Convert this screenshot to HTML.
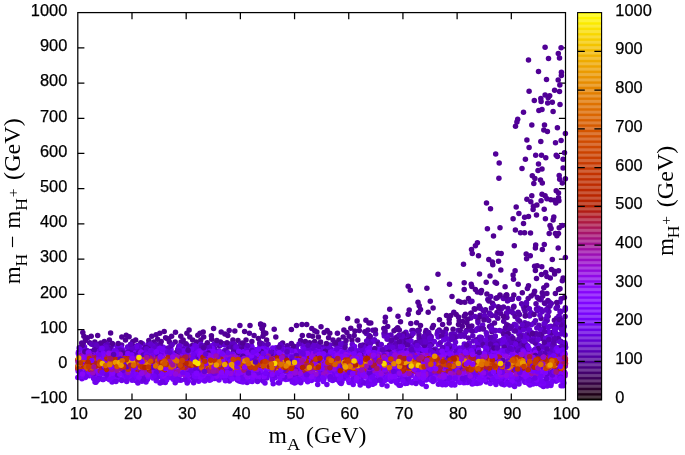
<!DOCTYPE html><html><head><meta charset="utf-8"><title>plot</title>
<style>html,body{margin:0;padding:0;background:#fff}svg{display:block}.t{font-family:"Liberation Sans",sans-serif;font-size:16.4px;fill:#000;stroke:#000;stroke-width:0.25px}.s{font-family:"Liberation Serif",serif;fill:#000}</style></head><body>
<svg width="685" height="455" viewBox="0 0 685 455">
<rect width="685" height="455" fill="#fff"/>
<path d="M131.99 400.0v-6.6M131.99 12.6v6.6M186.18 400.0v-6.6M186.18 12.6v6.6M240.37 400.0v-6.6M240.37 12.6v6.6M294.56 400.0v-6.6M294.56 12.6v6.6M348.74 400.0v-6.6M348.74 12.6v6.6M402.93 400.0v-6.6M402.93 12.6v6.6M457.12 400.0v-6.6M457.12 12.6v6.6M511.31 400.0v-6.6M511.31 12.6v6.6M77.8 364.78h6.6M565.5 364.78h-6.6M77.8 329.56h6.6M565.5 329.56h-6.6M77.8 294.35h6.6M565.5 294.35h-6.6M77.8 259.13h6.6M565.5 259.13h-6.6M77.8 223.91h6.6M565.5 223.91h-6.6M77.8 188.69h6.6M565.5 188.69h-6.6M77.8 153.47h6.6M565.5 153.47h-6.6M77.8 118.25h6.6M565.5 118.25h-6.6M77.8 83.04h6.6M565.5 83.04h-6.6M77.8 47.82h6.6M565.5 47.82h-6.6" stroke="#000" stroke-width="1.25" fill="none"/>
<g id="pts">
<circle cx="343.2" cy="337.0" r="2.75" fill="#520099"/>
<circle cx="101.0" cy="344.6" r="2.75" fill="#6201cd"/>
<circle cx="489.5" cy="326.6" r="2.75" fill="#52009b"/>
<circle cx="89.5" cy="375.7" r="2.75" fill="#6d02e8"/>
<circle cx="481.5" cy="290.4" r="2.75" fill="#500093"/>
<circle cx="501.9" cy="331.2" r="2.75" fill="#5a01b5"/>
<circle cx="524.8" cy="322.8" r="2.75" fill="#5c01bb"/>
<circle cx="372.7" cy="384.2" r="2.75" fill="#6e02eb"/>
<circle cx="545.4" cy="218.8" r="2.75" fill="#520099"/>
<circle cx="514.8" cy="324.6" r="2.75" fill="#5c01b9"/>
<circle cx="168.5" cy="339.2" r="2.75" fill="#510097"/>
<circle cx="492.2" cy="337.4" r="2.75" fill="#5d01be"/>
<circle cx="541.1" cy="318.6" r="2.75" fill="#52009b"/>
<circle cx="529.1" cy="147.6" r="2.75" fill="#510096"/>
<circle cx="422.7" cy="351.4" r="2.75" fill="#8204ff"/>
<circle cx="316.9" cy="331.9" r="2.75" fill="#520099"/>
<circle cx="213.6" cy="328.5" r="2.75" fill="#510098"/>
<circle cx="514.1" cy="330.8" r="2.75" fill="#6401d3"/>
<circle cx="550.0" cy="306.1" r="2.75" fill="#5a01b5"/>
<circle cx="472.1" cy="384.0" r="2.75" fill="#7102f0"/>
<circle cx="565.1" cy="316.5" r="2.75" fill="#5a00b2"/>
<circle cx="537.4" cy="297.4" r="2.75" fill="#5700ac"/>
<circle cx="505.1" cy="286.8" r="2.75" fill="#500093"/>
<circle cx="538.5" cy="71.5" r="2.75" fill="#500094"/>
<circle cx="511.2" cy="336.3" r="2.75" fill="#5c01ba"/>
<circle cx="530.2" cy="378.1" r="2.75" fill="#6801dc"/>
<circle cx="382.0" cy="384.6" r="2.75" fill="#7002ef"/>
<circle cx="396.7" cy="383.0" r="2.75" fill="#7102f1"/>
<circle cx="343.1" cy="343.6" r="2.75" fill="#6801dc"/>
<circle cx="559.5" cy="58.0" r="2.75" fill="#500095"/>
<circle cx="128.1" cy="351.6" r="2.75" fill="#7f04ff"/>
<circle cx="518.9" cy="334.0" r="2.75" fill="#5900af"/>
<circle cx="498.5" cy="261.2" r="2.75" fill="#520099"/>
<circle cx="368.7" cy="338.4" r="2.75" fill="#5700a9"/>
<circle cx="542.0" cy="168.9" r="2.75" fill="#500093"/>
<circle cx="228.3" cy="346.9" r="2.75" fill="#53009d"/>
<circle cx="417.7" cy="330.4" r="2.75" fill="#5600a7"/>
<circle cx="548.9" cy="311.6" r="2.75" fill="#5e01bf"/>
<circle cx="524.9" cy="342.2" r="2.75" fill="#510097"/>
<circle cx="147.9" cy="344.4" r="2.75" fill="#6201cd"/>
<circle cx="411.9" cy="330.4" r="2.75" fill="#6001c6"/>
<circle cx="188.4" cy="381.1" r="2.75" fill="#7703fa"/>
<circle cx="556.7" cy="318.2" r="2.75" fill="#6101c8"/>
<circle cx="565.3" cy="366.1" r="2.75" fill="#ab1753"/>
<circle cx="113.0" cy="344.4" r="2.75" fill="#6301cf"/>
<circle cx="549.3" cy="301.9" r="2.75" fill="#5c01bb"/>
<circle cx="482.8" cy="345.3" r="2.75" fill="#5d01bc"/>
<circle cx="506.8" cy="324.7" r="2.75" fill="#52009a"/>
<circle cx="496.0" cy="384.4" r="2.75" fill="#7402f5"/>
<circle cx="219.5" cy="345.9" r="2.75" fill="#5700ab"/>
<circle cx="227.8" cy="335.5" r="2.75" fill="#500092"/>
<circle cx="479.9" cy="383.0" r="2.75" fill="#7903fc"/>
<circle cx="91.2" cy="336.2" r="2.75" fill="#500094"/>
<circle cx="508.2" cy="341.7" r="2.75" fill="#6101cb"/>
<circle cx="479.4" cy="337.2" r="2.75" fill="#6501d6"/>
<circle cx="544.2" cy="209.2" r="2.75" fill="#510098"/>
<circle cx="173.1" cy="379.2" r="2.75" fill="#7c03fe"/>
<circle cx="157.6" cy="339.2" r="2.75" fill="#500095"/>
<circle cx="265.0" cy="383.0" r="2.75" fill="#7002ee"/>
<circle cx="550.8" cy="199.7" r="2.75" fill="#4f0091"/>
<circle cx="282.6" cy="343.1" r="2.75" fill="#500095"/>
<circle cx="530.3" cy="255.8" r="2.75" fill="#510098"/>
<circle cx="360.7" cy="348.6" r="2.75" fill="#6d02e9"/>
<circle cx="311.8" cy="328.5" r="2.75" fill="#510096"/>
<circle cx="544.5" cy="125.0" r="2.75" fill="#500095"/>
<circle cx="488.9" cy="300.9" r="2.75" fill="#5500a3"/>
<circle cx="364.4" cy="383.0" r="2.75" fill="#6e02eb"/>
<circle cx="534.6" cy="266.2" r="2.75" fill="#52009b"/>
<circle cx="142.5" cy="343.7" r="2.75" fill="#6401d0"/>
<circle cx="408.2" cy="314.2" r="2.75" fill="#52009a"/>
<circle cx="479.0" cy="307.7" r="2.75" fill="#5a00b4"/>
<circle cx="291.4" cy="329.4" r="2.75" fill="#500094"/>
<circle cx="554.6" cy="273.9" r="2.75" fill="#500094"/>
<circle cx="91.9" cy="375.6" r="2.75" fill="#8305fe"/>
<circle cx="521.2" cy="335.1" r="2.75" fill="#5c01bb"/>
<circle cx="428.0" cy="343.5" r="2.75" fill="#5d01bc"/>
<circle cx="528.5" cy="383.4" r="2.75" fill="#6c01e6"/>
<circle cx="109.4" cy="339.9" r="2.75" fill="#500094"/>
<circle cx="383.8" cy="328.5" r="2.75" fill="#510099"/>
<circle cx="322.8" cy="347.1" r="2.75" fill="#5a00b3"/>
<circle cx="95.9" cy="382.3" r="2.75" fill="#6f02ec"/>
<circle cx="534.2" cy="335.6" r="2.75" fill="#5800ae"/>
<circle cx="558.9" cy="316.1" r="2.75" fill="#5900b1"/>
<circle cx="492.5" cy="303.2" r="2.75" fill="#52009b"/>
<circle cx="83.3" cy="344.2" r="2.75" fill="#5400a0"/>
<circle cx="408.4" cy="343.7" r="2.75" fill="#6b01e4"/>
<circle cx="443.6" cy="380.1" r="2.75" fill="#6901df"/>
<circle cx="121.7" cy="344.9" r="2.75" fill="#5600a6"/>
<circle cx="394.0" cy="330.8" r="2.75" fill="#510096"/>
<circle cx="546.6" cy="285.3" r="2.75" fill="#510097"/>
<circle cx="439.2" cy="330.0" r="2.75" fill="#52009a"/>
<circle cx="159.3" cy="376.5" r="2.75" fill="#8806f9"/>
<circle cx="507.0" cy="317.5" r="2.75" fill="#5600a6"/>
<circle cx="555.9" cy="381.1" r="2.75" fill="#7e04ff"/>
<circle cx="413.9" cy="345.2" r="2.75" fill="#6101ca"/>
<circle cx="548.1" cy="316.2" r="2.75" fill="#510097"/>
<circle cx="361.3" cy="348.7" r="2.75" fill="#6b01e4"/>
<circle cx="159.8" cy="333.3" r="2.75" fill="#510097"/>
<circle cx="440.9" cy="380.6" r="2.75" fill="#7803fb"/>
<circle cx="117.1" cy="347.1" r="2.75" fill="#6901e0"/>
<circle cx="535.4" cy="270.4" r="2.75" fill="#4f0092"/>
<circle cx="532.3" cy="175.8" r="2.75" fill="#4f0091"/>
<circle cx="490.7" cy="296.5" r="2.75" fill="#5800ae"/>
<circle cx="493.5" cy="236.1" r="2.75" fill="#500093"/>
<circle cx="529.4" cy="339.2" r="2.75" fill="#5800ae"/>
<circle cx="410.8" cy="323.5" r="2.75" fill="#52009b"/>
<circle cx="347.7" cy="376.1" r="2.75" fill="#8a06f6"/>
<circle cx="541.8" cy="335.7" r="2.75" fill="#5500a5"/>
<circle cx="357.1" cy="320.9" r="2.75" fill="#4f0091"/>
<circle cx="538.2" cy="308.0" r="2.75" fill="#5e01c1"/>
<circle cx="444.0" cy="377.0" r="2.75" fill="#8c07f2"/>
<circle cx="516.3" cy="350.3" r="2.75" fill="#7703fa"/>
<circle cx="498.0" cy="253.2" r="2.75" fill="#500092"/>
<circle cx="396.9" cy="351.7" r="2.75" fill="#5700ab"/>
<circle cx="160.3" cy="376.4" r="2.75" fill="#7602f8"/>
<circle cx="104.3" cy="341.4" r="2.75" fill="#510098"/>
<circle cx="93.6" cy="344.9" r="2.75" fill="#6601d6"/>
<circle cx="77.9" cy="368.4" r="2.75" fill="#c53500"/>
<circle cx="177.8" cy="349.6" r="2.75" fill="#6101c8"/>
<circle cx="565.4" cy="257.6" r="2.75" fill="#52009a"/>
<circle cx="458.5" cy="301.2" r="2.75" fill="#510096"/>
<circle cx="515.1" cy="270.7" r="2.75" fill="#520099"/>
<circle cx="255.9" cy="378.4" r="2.75" fill="#7e04ff"/>
<circle cx="263.0" cy="381.0" r="2.75" fill="#6f02ec"/>
<circle cx="513.1" cy="218.8" r="2.75" fill="#4f0091"/>
<circle cx="165.3" cy="382.4" r="2.75" fill="#6e02ea"/>
<circle cx="504.5" cy="384.6" r="2.75" fill="#7302f5"/>
<circle cx="556.3" cy="327.8" r="2.75" fill="#6201cc"/>
<circle cx="153.9" cy="342.1" r="2.75" fill="#52009b"/>
<circle cx="496.0" cy="298.2" r="2.75" fill="#510097"/>
<circle cx="330.1" cy="379.6" r="2.75" fill="#6d02e8"/>
<circle cx="429.6" cy="339.9" r="2.75" fill="#6801dc"/>
<circle cx="545.1" cy="195.7" r="2.75" fill="#500093"/>
<circle cx="437.6" cy="351.0" r="2.75" fill="#5400a2"/>
<circle cx="136.8" cy="346.0" r="2.75" fill="#6901e0"/>
<circle cx="538.9" cy="110.4" r="2.75" fill="#510098"/>
<circle cx="526.9" cy="199.2" r="2.75" fill="#500094"/>
<circle cx="535.7" cy="348.8" r="2.75" fill="#7002ee"/>
<circle cx="411.8" cy="373.8" r="2.75" fill="#9309df"/>
<circle cx="341.7" cy="347.1" r="2.75" fill="#7002ef"/>
<circle cx="529.7" cy="316.0" r="2.75" fill="#6001c7"/>
<circle cx="521.6" cy="303.8" r="2.75" fill="#5800ad"/>
<circle cx="507.4" cy="345.2" r="2.75" fill="#6d02e9"/>
<circle cx="107.4" cy="378.4" r="2.75" fill="#7102f0"/>
<circle cx="187.3" cy="345.4" r="2.75" fill="#6801de"/>
<circle cx="506.5" cy="344.3" r="2.75" fill="#6601d7"/>
<circle cx="190.3" cy="376.8" r="2.75" fill="#8104ff"/>
<circle cx="464.2" cy="316.2" r="2.75" fill="#500093"/>
<circle cx="483.6" cy="345.7" r="2.75" fill="#6901df"/>
<circle cx="533.1" cy="384.1" r="2.75" fill="#7302f4"/>
<circle cx="96.8" cy="344.3" r="2.75" fill="#5f01c4"/>
<circle cx="211.4" cy="335.8" r="2.75" fill="#4f0092"/>
<circle cx="272.7" cy="347.9" r="2.75" fill="#7002ef"/>
<circle cx="449.2" cy="319.2" r="2.75" fill="#500094"/>
<circle cx="192.7" cy="339.9" r="2.75" fill="#4f0092"/>
<circle cx="505.3" cy="379.7" r="2.75" fill="#8204ff"/>
<circle cx="464.2" cy="335.1" r="2.75" fill="#500095"/>
<circle cx="389.7" cy="345.1" r="2.75" fill="#53009c"/>
<circle cx="523.4" cy="306.4" r="2.75" fill="#5e01c1"/>
<circle cx="547.2" cy="320.5" r="2.75" fill="#5b01b8"/>
<circle cx="136.2" cy="369.8" r="2.75" fill="#bb2800"/>
<circle cx="525.4" cy="159.3" r="2.75" fill="#500093"/>
<circle cx="238.0" cy="340.6" r="2.75" fill="#510095"/>
<circle cx="488.4" cy="345.0" r="2.75" fill="#6401d2"/>
<circle cx="273.2" cy="383.7" r="2.75" fill="#6f02ee"/>
<circle cx="363.0" cy="345.1" r="2.75" fill="#5700ac"/>
<circle cx="446.2" cy="329.2" r="2.75" fill="#4f0091"/>
<circle cx="251.4" cy="345.7" r="2.75" fill="#6b01e3"/>
<circle cx="184.8" cy="345.0" r="2.75" fill="#6a01e1"/>
<circle cx="544.2" cy="325.6" r="2.75" fill="#5a00b4"/>
<circle cx="431.1" cy="336.4" r="2.75" fill="#5a00b2"/>
<circle cx="556.2" cy="337.0" r="2.75" fill="#5a00b3"/>
<circle cx="499.5" cy="330.5" r="2.75" fill="#6101c9"/>
<circle cx="400.5" cy="385.2" r="2.75" fill="#6e02eb"/>
<circle cx="165.6" cy="337.7" r="2.75" fill="#52009a"/>
<circle cx="519.0" cy="382.1" r="2.75" fill="#7803fb"/>
<circle cx="239.1" cy="381.0" r="2.75" fill="#7402f5"/>
<circle cx="537.2" cy="265.8" r="2.75" fill="#500094"/>
<circle cx="509.7" cy="299.5" r="2.75" fill="#5a00b4"/>
<circle cx="540.8" cy="98.5" r="2.75" fill="#52009a"/>
<circle cx="343.9" cy="330.0" r="2.75" fill="#500093"/>
<circle cx="452.0" cy="296.6" r="2.75" fill="#500095"/>
<circle cx="318.4" cy="337.0" r="2.75" fill="#4f0091"/>
<circle cx="87.5" cy="337.7" r="2.75" fill="#510098"/>
<circle cx="466.4" cy="330.4" r="2.75" fill="#52009a"/>
<circle cx="84.6" cy="346.9" r="2.75" fill="#6f02ec"/>
<circle cx="488.8" cy="259.6" r="2.75" fill="#500095"/>
<circle cx="419.2" cy="330.0" r="2.75" fill="#510098"/>
<circle cx="447.8" cy="383.5" r="2.75" fill="#7703fa"/>
<circle cx="451.3" cy="352.3" r="2.75" fill="#8205fe"/>
<circle cx="135.5" cy="380.4" r="2.75" fill="#6d02e8"/>
<circle cx="387.7" cy="326.5" r="2.75" fill="#52009a"/>
<circle cx="561.1" cy="47.7" r="2.75" fill="#510098"/>
<circle cx="479.1" cy="345.3" r="2.75" fill="#6b01e4"/>
<circle cx="171.0" cy="350.1" r="2.75" fill="#7302f4"/>
<circle cx="418.5" cy="312.6" r="2.75" fill="#500094"/>
<circle cx="375.6" cy="333.9" r="2.75" fill="#5b01b8"/>
<circle cx="505.9" cy="348.7" r="2.75" fill="#7402f5"/>
<circle cx="437.1" cy="333.9" r="2.75" fill="#6201cd"/>
<circle cx="244.6" cy="331.4" r="2.75" fill="#4f0092"/>
<circle cx="198.7" cy="381.2" r="2.75" fill="#7603f9"/>
<circle cx="498.9" cy="178.2" r="2.75" fill="#52009a"/>
<circle cx="457.6" cy="336.2" r="2.75" fill="#6101c9"/>
<circle cx="77.9" cy="365.9" r="2.75" fill="#cc4300"/>
<circle cx="328.6" cy="337.7" r="2.75" fill="#510097"/>
<circle cx="463.8" cy="382.7" r="2.75" fill="#7a03fc"/>
<circle cx="503.3" cy="298.4" r="2.75" fill="#5900b2"/>
<circle cx="92.7" cy="376.0" r="2.75" fill="#8706fb"/>
<circle cx="513.9" cy="306.3" r="2.75" fill="#5e01c0"/>
<circle cx="280.5" cy="344.5" r="2.75" fill="#5d01be"/>
<circle cx="508.0" cy="308.6" r="2.75" fill="#5700aa"/>
<circle cx="462.3" cy="326.2" r="2.75" fill="#4f0092"/>
<circle cx="427.9" cy="349.1" r="2.75" fill="#7703fa"/>
<circle cx="477.4" cy="242.7" r="2.75" fill="#510098"/>
<circle cx="562.3" cy="280.7" r="2.75" fill="#52009b"/>
<circle cx="180.8" cy="336.2" r="2.75" fill="#500093"/>
<circle cx="500.3" cy="340.8" r="2.75" fill="#6001c7"/>
<circle cx="522.2" cy="345.8" r="2.75" fill="#6201cb"/>
<circle cx="545.7" cy="272.4" r="2.75" fill="#52009b"/>
<circle cx="482.7" cy="325.0" r="2.75" fill="#6201cd"/>
<circle cx="475.7" cy="330.6" r="2.75" fill="#6401d2"/>
<circle cx="81.9" cy="378.7" r="2.75" fill="#7c03fe"/>
<circle cx="541.1" cy="298.8" r="2.75" fill="#510098"/>
<circle cx="377.8" cy="378.2" r="2.75" fill="#8605fc"/>
<circle cx="497.0" cy="312.6" r="2.75" fill="#510096"/>
<circle cx="550.2" cy="336.0" r="2.75" fill="#6201cb"/>
<circle cx="449.3" cy="340.1" r="2.75" fill="#6701db"/>
<circle cx="171.1" cy="377.0" r="2.75" fill="#6901e0"/>
<circle cx="564.9" cy="354.4" r="2.75" fill="#8004ff"/>
<circle cx="548.0" cy="307.8" r="2.75" fill="#5700aa"/>
<circle cx="377.3" cy="380.2" r="2.75" fill="#6b01e3"/>
<circle cx="540.5" cy="350.6" r="2.75" fill="#6801dc"/>
<circle cx="502.9" cy="378.9" r="2.75" fill="#7d04fe"/>
<circle cx="395.7" cy="347.0" r="2.75" fill="#6301cf"/>
<circle cx="501.1" cy="381.4" r="2.75" fill="#7803fb"/>
<circle cx="533.1" cy="209.5" r="2.75" fill="#500095"/>
<circle cx="534.0" cy="323.1" r="2.75" fill="#5700ab"/>
<circle cx="411.5" cy="335.6" r="2.75" fill="#5a00b2"/>
<circle cx="464.3" cy="343.9" r="2.75" fill="#6501d6"/>
<circle cx="448.7" cy="381.3" r="2.75" fill="#7803fb"/>
<circle cx="113.2" cy="378.4" r="2.75" fill="#7102f0"/>
<circle cx="365.9" cy="320.2" r="2.75" fill="#52009a"/>
<circle cx="500.0" cy="296.0" r="2.75" fill="#5800ae"/>
<circle cx="399.1" cy="385.3" r="2.75" fill="#6f02ed"/>
<circle cx="536.5" cy="383.6" r="2.75" fill="#7302f4"/>
<circle cx="200.8" cy="339.9" r="2.75" fill="#500093"/>
<circle cx="519.0" cy="383.9" r="2.75" fill="#6f02ec"/>
<circle cx="78.3" cy="366.8" r="2.75" fill="#b31e0d"/>
<circle cx="517.9" cy="351.1" r="2.75" fill="#6c01e5"/>
<circle cx="478.5" cy="255.8" r="2.75" fill="#4f0092"/>
<circle cx="381.5" cy="381.2" r="2.75" fill="#7002ef"/>
<circle cx="430.9" cy="380.1" r="2.75" fill="#7c03fe"/>
<circle cx="305.9" cy="379.6" r="2.75" fill="#7b03fe"/>
<circle cx="542.3" cy="183.1" r="2.75" fill="#510096"/>
<circle cx="498.2" cy="381.3" r="2.75" fill="#7f04ff"/>
<circle cx="565.5" cy="347.4" r="2.75" fill="#7102f1"/>
<circle cx="506.9" cy="295.0" r="2.75" fill="#500093"/>
<circle cx="504.9" cy="347.7" r="2.75" fill="#7202f2"/>
<circle cx="524.4" cy="324.7" r="2.75" fill="#53009e"/>
<circle cx="507.5" cy="300.9" r="2.75" fill="#5a00b2"/>
<circle cx="137.0" cy="380.9" r="2.75" fill="#6a01e3"/>
<circle cx="256.1" cy="349.8" r="2.75" fill="#5900b0"/>
<circle cx="442.6" cy="377.4" r="2.75" fill="#8305fe"/>
<circle cx="189.8" cy="337.0" r="2.75" fill="#500095"/>
<circle cx="384.3" cy="336.1" r="2.75" fill="#6201cd"/>
<circle cx="275.9" cy="347.7" r="2.75" fill="#7002ee"/>
<circle cx="370.5" cy="340.8" r="2.75" fill="#6101ca"/>
<circle cx="86.2" cy="376.2" r="2.75" fill="#7002ef"/>
<circle cx="529.9" cy="385.0" r="2.75" fill="#7302f5"/>
<circle cx="145.5" cy="347.5" r="2.75" fill="#52009b"/>
<circle cx="434.1" cy="349.9" r="2.75" fill="#7a03fd"/>
<circle cx="420.2" cy="353.0" r="2.75" fill="#5500a5"/>
<circle cx="555.5" cy="142.7" r="2.75" fill="#520099"/>
<circle cx="471.3" cy="313.1" r="2.75" fill="#5b01b6"/>
<circle cx="224.2" cy="377.8" r="2.75" fill="#7b03fd"/>
<circle cx="391.0" cy="334.9" r="2.75" fill="#5d01bc"/>
<circle cx="490.5" cy="208.8" r="2.75" fill="#510097"/>
<circle cx="524.6" cy="217.2" r="2.75" fill="#520099"/>
<circle cx="364.4" cy="345.8" r="2.75" fill="#510095"/>
<circle cx="542.0" cy="109.6" r="2.75" fill="#520099"/>
<circle cx="343.7" cy="373.3" r="2.75" fill="#940ad9"/>
<circle cx="331.6" cy="349.6" r="2.75" fill="#7402f6"/>
<circle cx="541.1" cy="309.6" r="2.75" fill="#5c01b9"/>
<circle cx="513.5" cy="313.2" r="2.75" fill="#5e01c0"/>
<circle cx="294.6" cy="383.0" r="2.75" fill="#7402f6"/>
<circle cx="466.9" cy="323.1" r="2.75" fill="#500093"/>
<circle cx="440.6" cy="351.0" r="2.75" fill="#6f02ec"/>
<circle cx="198.2" cy="377.3" r="2.75" fill="#6b01e4"/>
<circle cx="458.5" cy="324.6" r="2.75" fill="#4f0091"/>
<circle cx="246.0" cy="339.9" r="2.75" fill="#4f0092"/>
<circle cx="464.5" cy="336.3" r="2.75" fill="#5d01be"/>
<circle cx="518.2" cy="312.2" r="2.75" fill="#5800ac"/>
<circle cx="203.2" cy="331.9" r="2.75" fill="#4f0092"/>
<circle cx="334.2" cy="343.9" r="2.75" fill="#5700aa"/>
<circle cx="403.9" cy="338.5" r="2.75" fill="#6101c8"/>
<circle cx="296.3" cy="382.1" r="2.75" fill="#6c02e7"/>
<circle cx="123.1" cy="349.8" r="2.75" fill="#7603f9"/>
<circle cx="565.5" cy="347.1" r="2.75" fill="#5d01bd"/>
<circle cx="553.9" cy="333.1" r="2.75" fill="#5d01bc"/>
<circle cx="514.5" cy="379.4" r="2.75" fill="#6f02ec"/>
<circle cx="91.5" cy="373.0" r="2.75" fill="#7602f8"/>
<circle cx="178.8" cy="346.4" r="2.75" fill="#5600a9"/>
<circle cx="186.6" cy="346.2" r="2.75" fill="#5c01b9"/>
<circle cx="221.3" cy="344.7" r="2.75" fill="#6701db"/>
<circle cx="551.5" cy="269.6" r="2.75" fill="#4f0091"/>
<circle cx="527.5" cy="333.8" r="2.75" fill="#6201cb"/>
<circle cx="553.9" cy="332.8" r="2.75" fill="#5b01b8"/>
<circle cx="365.9" cy="346.8" r="2.75" fill="#6601d7"/>
<circle cx="565.4" cy="308.9" r="2.75" fill="#5600a6"/>
<circle cx="542.2" cy="311.7" r="2.75" fill="#5e01c2"/>
<circle cx="78.0" cy="368.9" r="2.75" fill="#b01c22"/>
<circle cx="445.3" cy="334.6" r="2.75" fill="#5800ae"/>
<circle cx="321.2" cy="349.5" r="2.75" fill="#7202f3"/>
<circle cx="260.6" cy="324.1" r="2.75" fill="#520099"/>
<circle cx="384.2" cy="375.7" r="2.75" fill="#7402f6"/>
<circle cx="211.1" cy="379.6" r="2.75" fill="#7b03fe"/>
<circle cx="223.7" cy="343.7" r="2.75" fill="#53009d"/>
<circle cx="263.6" cy="325.3" r="2.75" fill="#520099"/>
<circle cx="491.4" cy="325.5" r="2.75" fill="#5900b0"/>
<circle cx="224.9" cy="334.1" r="2.75" fill="#510097"/>
<circle cx="193.7" cy="349.9" r="2.75" fill="#6d02e8"/>
<circle cx="500.0" cy="227.7" r="2.75" fill="#500094"/>
<circle cx="554.2" cy="344.9" r="2.75" fill="#5700aa"/>
<circle cx="491.7" cy="315.4" r="2.75" fill="#5500a3"/>
<circle cx="476.5" cy="339.8" r="2.75" fill="#52009b"/>
<circle cx="445.7" cy="384.7" r="2.75" fill="#7302f4"/>
<circle cx="160.9" cy="382.5" r="2.75" fill="#6c01e7"/>
<circle cx="84.3" cy="348.3" r="2.75" fill="#6101ca"/>
<circle cx="275.8" cy="337.0" r="2.75" fill="#500093"/>
<circle cx="492.8" cy="264.7" r="2.75" fill="#510098"/>
<circle cx="491.9" cy="331.8" r="2.75" fill="#5400a1"/>
<circle cx="533.8" cy="293.9" r="2.75" fill="#500094"/>
<circle cx="481.2" cy="342.0" r="2.75" fill="#500095"/>
<circle cx="541.2" cy="385.1" r="2.75" fill="#6f02ec"/>
<circle cx="491.4" cy="346.9" r="2.75" fill="#5a01b5"/>
<circle cx="553.8" cy="216.9" r="2.75" fill="#510098"/>
<circle cx="409.1" cy="379.9" r="2.75" fill="#7603f9"/>
<circle cx="308.9" cy="335.5" r="2.75" fill="#500095"/>
<circle cx="558.2" cy="248.1" r="2.75" fill="#510096"/>
<circle cx="186.4" cy="347.9" r="2.75" fill="#52009b"/>
<circle cx="500.8" cy="269.9" r="2.75" fill="#500095"/>
<circle cx="403.2" cy="346.4" r="2.75" fill="#5700ab"/>
<circle cx="77.9" cy="359.7" r="2.75" fill="#ab184c"/>
<circle cx="397.4" cy="336.7" r="2.75" fill="#6401d2"/>
<circle cx="559.8" cy="84.9" r="2.75" fill="#510096"/>
<circle cx="450.0" cy="378.6" r="2.75" fill="#6a01e2"/>
<circle cx="454.8" cy="346.4" r="2.75" fill="#5e01c1"/>
<circle cx="265.3" cy="345.6" r="2.75" fill="#6301cf"/>
<circle cx="219.0" cy="379.9" r="2.75" fill="#7302f4"/>
<circle cx="546.5" cy="79.5" r="2.75" fill="#510096"/>
<circle cx="359.3" cy="326.0" r="2.75" fill="#52009a"/>
<circle cx="258.4" cy="338.4" r="2.75" fill="#500092"/>
<circle cx="445.5" cy="332.9" r="2.75" fill="#6301ce"/>
<circle cx="519.2" cy="379.8" r="2.75" fill="#8004ff"/>
<circle cx="285.8" cy="379.6" r="2.75" fill="#7c03fe"/>
<circle cx="397.7" cy="327.7" r="2.75" fill="#500094"/>
<circle cx="420.5" cy="309.5" r="2.75" fill="#52009b"/>
<circle cx="221.0" cy="377.1" r="2.75" fill="#6e02ec"/>
<circle cx="524.6" cy="232.7" r="2.75" fill="#500093"/>
<circle cx="237.4" cy="380.1" r="2.75" fill="#6b01e5"/>
<circle cx="197.8" cy="335.2" r="2.75" fill="#500093"/>
<circle cx="234.6" cy="344.4" r="2.75" fill="#5c01b9"/>
<circle cx="279.5" cy="382.7" r="2.75" fill="#6c01e6"/>
<circle cx="350.8" cy="328.2" r="2.75" fill="#510096"/>
<circle cx="480.8" cy="292.7" r="2.75" fill="#510097"/>
<circle cx="314.7" cy="341.4" r="2.75" fill="#4f0091"/>
<circle cx="561.1" cy="140.4" r="2.75" fill="#52009a"/>
<circle cx="275.3" cy="377.8" r="2.75" fill="#7502f7"/>
<circle cx="221.2" cy="331.9" r="2.75" fill="#52009b"/>
<circle cx="439.5" cy="319.7" r="2.75" fill="#500094"/>
<circle cx="370.3" cy="336.4" r="2.75" fill="#5500a3"/>
<circle cx="552.3" cy="102.2" r="2.75" fill="#4f0092"/>
<circle cx="377.9" cy="351.9" r="2.75" fill="#6b01e4"/>
<circle cx="214.3" cy="343.7" r="2.75" fill="#6701db"/>
<circle cx="561.7" cy="320.1" r="2.75" fill="#5a00b4"/>
<circle cx="179.6" cy="375.6" r="2.75" fill="#7a03fd"/>
<circle cx="541.5" cy="274.5" r="2.75" fill="#510097"/>
<circle cx="417.1" cy="376.3" r="2.75" fill="#6a01e1"/>
<circle cx="374.4" cy="339.7" r="2.75" fill="#6001c6"/>
<circle cx="160.0" cy="383.1" r="2.75" fill="#6e02ea"/>
<circle cx="522.6" cy="342.2" r="2.75" fill="#6401d1"/>
<circle cx="267.3" cy="349.2" r="2.75" fill="#6901df"/>
<circle cx="140.8" cy="342.8" r="2.75" fill="#510098"/>
<circle cx="112.1" cy="382.0" r="2.75" fill="#6f02ee"/>
<circle cx="305.9" cy="347.9" r="2.75" fill="#7102f1"/>
<circle cx="417.3" cy="351.8" r="2.75" fill="#6c01e6"/>
<circle cx="540.5" cy="384.5" r="2.75" fill="#7302f4"/>
<circle cx="498.7" cy="343.4" r="2.75" fill="#5f01c2"/>
<circle cx="391.3" cy="345.0" r="2.75" fill="#6201cb"/>
<circle cx="523.5" cy="112.2" r="2.75" fill="#510097"/>
<circle cx="342.2" cy="349.3" r="2.75" fill="#6201cc"/>
<circle cx="85.3" cy="340.6" r="2.75" fill="#510097"/>
<circle cx="477.4" cy="344.9" r="2.75" fill="#6a01e2"/>
<circle cx="495.1" cy="282.2" r="2.75" fill="#52009b"/>
<circle cx="512.0" cy="351.9" r="2.75" fill="#7803fb"/>
<circle cx="558.5" cy="193.1" r="2.75" fill="#510098"/>
<circle cx="563.1" cy="168.0" r="2.75" fill="#52009b"/>
<circle cx="499.2" cy="163.0" r="2.75" fill="#52009b"/>
<circle cx="429.5" cy="335.2" r="2.75" fill="#5600a9"/>
<circle cx="556.6" cy="348.0" r="2.75" fill="#6d02e9"/>
<circle cx="455.1" cy="336.7" r="2.75" fill="#6101c9"/>
<circle cx="562.5" cy="330.1" r="2.75" fill="#6401d1"/>
<circle cx="278.4" cy="382.7" r="2.75" fill="#6d02e8"/>
<circle cx="557.4" cy="306.4" r="2.75" fill="#5900b0"/>
<circle cx="111.1" cy="348.0" r="2.75" fill="#5700aa"/>
<circle cx="480.6" cy="382.2" r="2.75" fill="#7a03fd"/>
<circle cx="273.2" cy="377.0" r="2.75" fill="#8204ff"/>
<circle cx="561.2" cy="346.8" r="2.75" fill="#5b01b7"/>
<circle cx="365.1" cy="349.9" r="2.75" fill="#6901df"/>
<circle cx="395.4" cy="352.1" r="2.75" fill="#8605fc"/>
<circle cx="262.6" cy="344.2" r="2.75" fill="#5d01bd"/>
<circle cx="291.4" cy="343.5" r="2.75" fill="#52009b"/>
<circle cx="368.2" cy="343.8" r="2.75" fill="#5600a6"/>
<circle cx="265.8" cy="333.3" r="2.75" fill="#500095"/>
<circle cx="232.9" cy="339.9" r="2.75" fill="#510097"/>
<circle cx="428.8" cy="378.7" r="2.75" fill="#6901e0"/>
<circle cx="405.8" cy="340.6" r="2.75" fill="#5500a5"/>
<circle cx="418.1" cy="346.4" r="2.75" fill="#6a01e2"/>
<circle cx="449.0" cy="378.2" r="2.75" fill="#7803fb"/>
<circle cx="173.5" cy="377.6" r="2.75" fill="#7502f8"/>
<circle cx="149.5" cy="376.5" r="2.75" fill="#6a01e2"/>
<circle cx="241.0" cy="381.4" r="2.75" fill="#6f02ec"/>
<circle cx="508.3" cy="382.0" r="2.75" fill="#6b01e3"/>
<circle cx="148.8" cy="340.6" r="2.75" fill="#510098"/>
<circle cx="442.1" cy="349.3" r="2.75" fill="#5f01c4"/>
<circle cx="207.6" cy="348.8" r="2.75" fill="#5e01bf"/>
<circle cx="528.9" cy="315.6" r="2.75" fill="#6001c6"/>
<circle cx="530.5" cy="233.0" r="2.75" fill="#510096"/>
<circle cx="338.8" cy="339.9" r="2.75" fill="#4f0092"/>
<circle cx="486.2" cy="282.2" r="2.75" fill="#510097"/>
<circle cx="411.4" cy="375.1" r="2.75" fill="#7e04ff"/>
<circle cx="478.8" cy="327.8" r="2.75" fill="#5e01c0"/>
<circle cx="169.4" cy="342.1" r="2.75" fill="#500094"/>
<circle cx="409.3" cy="338.9" r="2.75" fill="#510096"/>
<circle cx="326.9" cy="384.6" r="2.75" fill="#6e02ea"/>
<circle cx="525.2" cy="316.1" r="2.75" fill="#5d01bd"/>
<circle cx="453.1" cy="329.2" r="2.75" fill="#500094"/>
<circle cx="458.2" cy="380.9" r="2.75" fill="#7602f8"/>
<circle cx="282.0" cy="379.0" r="2.75" fill="#7402f5"/>
<circle cx="536.0" cy="303.7" r="2.75" fill="#5500a5"/>
<circle cx="109.5" cy="379.7" r="2.75" fill="#7803fb"/>
<circle cx="186.4" cy="380.3" r="2.75" fill="#7402f6"/>
<circle cx="378.5" cy="348.4" r="2.75" fill="#6b01e4"/>
<circle cx="524.9" cy="382.3" r="2.75" fill="#6f02ec"/>
<circle cx="301.3" cy="380.5" r="2.75" fill="#7c03fe"/>
<circle cx="368.4" cy="342.0" r="2.75" fill="#5a00b3"/>
<circle cx="517.5" cy="348.9" r="2.75" fill="#6201cc"/>
<circle cx="480.3" cy="308.2" r="2.75" fill="#5700ab"/>
<circle cx="373.1" cy="341.6" r="2.75" fill="#6701d9"/>
<circle cx="504.5" cy="376.2" r="2.75" fill="#7e04ff"/>
<circle cx="479.5" cy="273.9" r="2.75" fill="#500094"/>
<circle cx="519.8" cy="328.4" r="2.75" fill="#5900b0"/>
<circle cx="561.5" cy="380.2" r="2.75" fill="#8104ff"/>
<circle cx="426.9" cy="288.2" r="2.75" fill="#500092"/>
<circle cx="330.3" cy="349.5" r="2.75" fill="#5500a2"/>
<circle cx="169.7" cy="377.2" r="2.75" fill="#7402f5"/>
<circle cx="369.2" cy="335.6" r="2.75" fill="#5400a1"/>
<circle cx="559.7" cy="317.6" r="2.75" fill="#5f01c4"/>
<circle cx="452.7" cy="379.7" r="2.75" fill="#8204ff"/>
<circle cx="339.4" cy="381.5" r="2.75" fill="#7502f7"/>
<circle cx="532.7" cy="339.0" r="2.75" fill="#6401d3"/>
<circle cx="388.1" cy="347.5" r="2.75" fill="#5900b1"/>
<circle cx="83.2" cy="377.8" r="2.75" fill="#7a03fc"/>
<circle cx="205.8" cy="345.3" r="2.75" fill="#5800ac"/>
<circle cx="545.4" cy="348.8" r="2.75" fill="#7603f9"/>
<circle cx="366.6" cy="340.9" r="2.75" fill="#6101c8"/>
<circle cx="548.4" cy="337.0" r="2.75" fill="#6501d5"/>
<circle cx="535.9" cy="333.6" r="2.75" fill="#6601d7"/>
<circle cx="542.3" cy="292.7" r="2.75" fill="#510097"/>
<circle cx="558.9" cy="200.8" r="2.75" fill="#500094"/>
<circle cx="368.9" cy="323.1" r="2.75" fill="#500094"/>
<circle cx="411.5" cy="375.6" r="2.75" fill="#8906f8"/>
<circle cx="477.0" cy="328.9" r="2.75" fill="#6401d1"/>
<circle cx="81.7" cy="343.1" r="2.75" fill="#510098"/>
<circle cx="160.0" cy="375.9" r="2.75" fill="#8806f9"/>
<circle cx="137.9" cy="383.1" r="2.75" fill="#6e02ea"/>
<circle cx="407.2" cy="335.3" r="2.75" fill="#5c01ba"/>
<circle cx="469.2" cy="342.9" r="2.75" fill="#5700ac"/>
<circle cx="314.6" cy="345.8" r="2.75" fill="#6001c5"/>
<circle cx="106.0" cy="349.9" r="2.75" fill="#7903fc"/>
<circle cx="536.8" cy="344.2" r="2.75" fill="#6a01e3"/>
<circle cx="480.0" cy="315.3" r="2.75" fill="#5700aa"/>
<circle cx="180.9" cy="380.2" r="2.75" fill="#7402f5"/>
<circle cx="468.6" cy="344.0" r="2.75" fill="#5c01bb"/>
<circle cx="513.0" cy="341.9" r="2.75" fill="#6c01e6"/>
<circle cx="560.9" cy="328.6" r="2.75" fill="#6301d0"/>
<circle cx="550.8" cy="326.3" r="2.75" fill="#5e01c1"/>
<circle cx="170.6" cy="348.5" r="2.75" fill="#7302f4"/>
<circle cx="479.4" cy="329.2" r="2.75" fill="#5e01c0"/>
<circle cx="510.9" cy="378.5" r="2.75" fill="#7e04ff"/>
<circle cx="518.5" cy="347.5" r="2.75" fill="#6501d4"/>
<circle cx="544.4" cy="327.4" r="2.75" fill="#5900b0"/>
<circle cx="454.5" cy="347.7" r="2.75" fill="#7302f4"/>
<circle cx="89.7" cy="342.8" r="2.75" fill="#520099"/>
<circle cx="558.3" cy="53.4" r="2.75" fill="#500093"/>
<circle cx="419.1" cy="338.1" r="2.75" fill="#5a00b4"/>
<circle cx="398.0" cy="352.2" r="2.75" fill="#6701db"/>
<circle cx="495.7" cy="153.9" r="2.75" fill="#52009a"/>
<circle cx="515.1" cy="316.5" r="2.75" fill="#5400a0"/>
<circle cx="350.9" cy="349.1" r="2.75" fill="#6a01e2"/>
<circle cx="224.7" cy="350.5" r="2.75" fill="#6701d9"/>
<circle cx="209.2" cy="350.2" r="2.75" fill="#7a03fc"/>
<circle cx="94.8" cy="342.1" r="2.75" fill="#500095"/>
<circle cx="556.3" cy="340.6" r="2.75" fill="#6b01e4"/>
<circle cx="554.4" cy="320.2" r="2.75" fill="#53009c"/>
<circle cx="109.5" cy="351.9" r="2.75" fill="#5500a3"/>
<circle cx="95.0" cy="382.1" r="2.75" fill="#6f02ec"/>
<circle cx="78.3" cy="363.0" r="2.75" fill="#6901e0"/>
<circle cx="449.5" cy="284.3" r="2.75" fill="#510098"/>
<circle cx="552.7" cy="378.1" r="2.75" fill="#7102f0"/>
<circle cx="546.9" cy="198.8" r="2.75" fill="#52009b"/>
<circle cx="439.2" cy="379.5" r="2.75" fill="#7c03fe"/>
<circle cx="451.8" cy="334.1" r="2.75" fill="#5600a9"/>
<circle cx="83.9" cy="351.7" r="2.75" fill="#6f02ed"/>
<circle cx="551.3" cy="332.5" r="2.75" fill="#5400a0"/>
<circle cx="140.7" cy="348.5" r="2.75" fill="#6e02eb"/>
<circle cx="445.7" cy="338.6" r="2.75" fill="#6501d4"/>
<circle cx="558.5" cy="233.5" r="2.75" fill="#4f0092"/>
<circle cx="538.0" cy="170.5" r="2.75" fill="#500095"/>
<circle cx="540.7" cy="333.3" r="2.75" fill="#53009d"/>
<circle cx="455.3" cy="337.6" r="2.75" fill="#5c01ba"/>
<circle cx="532.2" cy="341.0" r="2.75" fill="#6301ce"/>
<circle cx="156.6" cy="374.5" r="2.75" fill="#8d07f0"/>
<circle cx="79.2" cy="347.7" r="2.75" fill="#7102f1"/>
<circle cx="481.7" cy="344.4" r="2.75" fill="#53009d"/>
<circle cx="467.8" cy="348.4" r="2.75" fill="#6f02ed"/>
<circle cx="239.9" cy="325.6" r="2.75" fill="#520099"/>
<circle cx="329.8" cy="333.3" r="2.75" fill="#4f0092"/>
<circle cx="470.5" cy="301.7" r="2.75" fill="#5600a8"/>
<circle cx="497.8" cy="347.1" r="2.75" fill="#5a00b3"/>
<circle cx="419.8" cy="348.8" r="2.75" fill="#7002ef"/>
<circle cx="97.2" cy="348.2" r="2.75" fill="#5900b0"/>
<circle cx="558.2" cy="347.8" r="2.75" fill="#6401d1"/>
<circle cx="133.2" cy="346.2" r="2.75" fill="#500095"/>
<circle cx="511.9" cy="337.3" r="2.75" fill="#5900b2"/>
<circle cx="553.0" cy="339.1" r="2.75" fill="#6801dd"/>
<circle cx="560.0" cy="104.5" r="2.75" fill="#52009a"/>
<circle cx="464.2" cy="289.5" r="2.75" fill="#510096"/>
<circle cx="458.2" cy="330.2" r="2.75" fill="#5d01bc"/>
<circle cx="248.5" cy="375.3" r="2.75" fill="#8f08ec"/>
<circle cx="393.5" cy="352.7" r="2.75" fill="#7502f8"/>
<circle cx="563.8" cy="383.0" r="2.75" fill="#7602f8"/>
<circle cx="97.2" cy="351.9" r="2.75" fill="#6e02ec"/>
<circle cx="410.3" cy="290.3" r="2.75" fill="#520099"/>
<circle cx="482.3" cy="328.8" r="2.75" fill="#5500a3"/>
<circle cx="538.7" cy="345.3" r="2.75" fill="#6d02e9"/>
<circle cx="191.6" cy="376.2" r="2.75" fill="#6f02ed"/>
<circle cx="405.9" cy="332.3" r="2.75" fill="#5f01c4"/>
<circle cx="408.1" cy="341.8" r="2.75" fill="#5f01c2"/>
<circle cx="419.3" cy="381.2" r="2.75" fill="#7302f4"/>
<circle cx="135.7" cy="339.9" r="2.75" fill="#4f0092"/>
<circle cx="548.4" cy="331.6" r="2.75" fill="#6701da"/>
<circle cx="562.3" cy="225.4" r="2.75" fill="#52009a"/>
<circle cx="561.2" cy="298.8" r="2.75" fill="#5500a5"/>
<circle cx="525.7" cy="348.4" r="2.75" fill="#510097"/>
<circle cx="561.1" cy="385.8" r="2.75" fill="#7002ef"/>
<circle cx="446.6" cy="352.9" r="2.75" fill="#7703fa"/>
<circle cx="514.3" cy="245.8" r="2.75" fill="#500095"/>
<circle cx="506.3" cy="330.7" r="2.75" fill="#6301d0"/>
<circle cx="277.8" cy="373.9" r="2.75" fill="#8205fe"/>
<circle cx="503.6" cy="334.0" r="2.75" fill="#5400a1"/>
<circle cx="293.5" cy="381.6" r="2.75" fill="#7502f7"/>
<circle cx="504.7" cy="340.1" r="2.75" fill="#6a01e2"/>
<circle cx="427.6" cy="354.0" r="2.75" fill="#7c03fe"/>
<circle cx="82.8" cy="347.6" r="2.75" fill="#6701da"/>
<circle cx="550.1" cy="342.2" r="2.75" fill="#5d01be"/>
<circle cx="411.1" cy="340.9" r="2.75" fill="#6801dd"/>
<circle cx="470.6" cy="348.4" r="2.75" fill="#6a01e3"/>
<circle cx="337.4" cy="379.7" r="2.75" fill="#6d02e9"/>
<circle cx="407.0" cy="342.5" r="2.75" fill="#6901df"/>
<circle cx="266.6" cy="347.9" r="2.75" fill="#6501d4"/>
<circle cx="340.2" cy="382.8" r="2.75" fill="#6f02ed"/>
<circle cx="545.5" cy="352.5" r="2.75" fill="#5b01b7"/>
<circle cx="511.1" cy="336.8" r="2.75" fill="#6401d1"/>
<circle cx="90.6" cy="351.5" r="2.75" fill="#510097"/>
<circle cx="412.5" cy="371.0" r="2.75" fill="#990cc4"/>
<circle cx="516.1" cy="325.5" r="2.75" fill="#6301d0"/>
<circle cx="529.4" cy="334.7" r="2.75" fill="#5400a2"/>
<circle cx="266.8" cy="377.9" r="2.75" fill="#6c01e5"/>
<circle cx="120.9" cy="347.5" r="2.75" fill="#7002ef"/>
<circle cx="541.1" cy="101.5" r="2.75" fill="#510097"/>
<circle cx="484.3" cy="346.1" r="2.75" fill="#6101c8"/>
<circle cx="336.9" cy="345.9" r="2.75" fill="#5a01b5"/>
<circle cx="463.5" cy="264.3" r="2.75" fill="#510098"/>
<circle cx="545.1" cy="47.2" r="2.75" fill="#510096"/>
<circle cx="132.8" cy="341.4" r="2.75" fill="#510097"/>
<circle cx="536.5" cy="308.9" r="2.75" fill="#5800ae"/>
<circle cx="353.1" cy="377.0" r="2.75" fill="#7302f3"/>
<circle cx="218.2" cy="377.3" r="2.75" fill="#7b03fe"/>
<circle cx="497.8" cy="318.2" r="2.75" fill="#5500a4"/>
<circle cx="287.1" cy="379.0" r="2.75" fill="#7202f3"/>
<circle cx="557.4" cy="127.8" r="2.75" fill="#500094"/>
<circle cx="482.6" cy="316.4" r="2.75" fill="#5900b1"/>
<circle cx="196.4" cy="342.1" r="2.75" fill="#500095"/>
<circle cx="196.2" cy="378.8" r="2.75" fill="#7e04ff"/>
<circle cx="368.0" cy="330.0" r="2.75" fill="#53009e"/>
<circle cx="431.7" cy="344.5" r="2.75" fill="#5600a6"/>
<circle cx="478.5" cy="381.0" r="2.75" fill="#7402f6"/>
<circle cx="544.0" cy="347.3" r="2.75" fill="#5f01c2"/>
<circle cx="449.5" cy="350.3" r="2.75" fill="#6801dc"/>
<circle cx="155.8" cy="344.6" r="2.75" fill="#5900b2"/>
<circle cx="560.0" cy="288.8" r="2.75" fill="#510097"/>
<circle cx="330.3" cy="350.1" r="2.75" fill="#6801dd"/>
<circle cx="495.2" cy="336.0" r="2.75" fill="#5f01c3"/>
<circle cx="230.3" cy="344.1" r="2.75" fill="#6101c9"/>
<circle cx="212.3" cy="375.3" r="2.75" fill="#7b03fe"/>
<circle cx="411.4" cy="346.4" r="2.75" fill="#6b01e3"/>
<circle cx="280.6" cy="375.1" r="2.75" fill="#6801dd"/>
<circle cx="444.2" cy="353.7" r="2.75" fill="#7602f8"/>
<circle cx="556.9" cy="235.8" r="2.75" fill="#4f0091"/>
<circle cx="318.2" cy="349.7" r="2.75" fill="#5500a3"/>
<circle cx="501.7" cy="379.1" r="2.75" fill="#6c01e5"/>
<circle cx="477.9" cy="320.3" r="2.75" fill="#5400a1"/>
<circle cx="303.0" cy="347.3" r="2.75" fill="#6e02eb"/>
<circle cx="349.1" cy="336.2" r="2.75" fill="#520099"/>
<circle cx="438.0" cy="274.2" r="2.75" fill="#510098"/>
<circle cx="546.2" cy="318.7" r="2.75" fill="#6101ca"/>
<circle cx="377.5" cy="342.1" r="2.75" fill="#6001c6"/>
<circle cx="537.4" cy="310.8" r="2.75" fill="#5e01c0"/>
<circle cx="259.7" cy="379.6" r="2.75" fill="#6b01e4"/>
<circle cx="138.2" cy="377.8" r="2.75" fill="#7202f3"/>
<circle cx="407.6" cy="342.4" r="2.75" fill="#6401d0"/>
<circle cx="548.2" cy="97.7" r="2.75" fill="#510097"/>
<circle cx="545.6" cy="321.7" r="2.75" fill="#5a00b4"/>
<circle cx="502.9" cy="349.7" r="2.75" fill="#7603f9"/>
<circle cx="561.8" cy="380.2" r="2.75" fill="#7f04ff"/>
<circle cx="97.5" cy="380.2" r="2.75" fill="#7102f0"/>
<circle cx="452.4" cy="346.2" r="2.75" fill="#6c01e7"/>
<circle cx="459.2" cy="320.8" r="2.75" fill="#4f0091"/>
<circle cx="186.4" cy="378.2" r="2.75" fill="#7703fa"/>
<circle cx="559.2" cy="227.7" r="2.75" fill="#500093"/>
<circle cx="459.5" cy="347.9" r="2.75" fill="#7102f1"/>
<circle cx="563.1" cy="159.3" r="2.75" fill="#52009b"/>
<circle cx="163.4" cy="347.2" r="2.75" fill="#6d02ea"/>
<circle cx="323.9" cy="379.2" r="2.75" fill="#7302f4"/>
<circle cx="553.1" cy="220.0" r="2.75" fill="#500095"/>
<circle cx="473.6" cy="380.1" r="2.75" fill="#7703fa"/>
<circle cx="497.2" cy="297.7" r="2.75" fill="#510098"/>
<circle cx="184.4" cy="348.4" r="2.75" fill="#5a01b5"/>
<circle cx="252.2" cy="381.6" r="2.75" fill="#7302f4"/>
<circle cx="416.6" cy="322.8" r="2.75" fill="#52009a"/>
<circle cx="261.5" cy="343.5" r="2.75" fill="#4f0091"/>
<circle cx="268.6" cy="374.2" r="2.75" fill="#7202f3"/>
<circle cx="483.6" cy="329.1" r="2.75" fill="#5700a9"/>
<circle cx="95.6" cy="344.7" r="2.75" fill="#5d01bc"/>
<circle cx="379.2" cy="376.5" r="2.75" fill="#8b07f4"/>
<circle cx="471.0" cy="330.3" r="2.75" fill="#5c01b9"/>
<circle cx="548.5" cy="58.5" r="2.75" fill="#510097"/>
<circle cx="157.5" cy="345.3" r="2.75" fill="#5e01c0"/>
<circle cx="527.1" cy="350.5" r="2.75" fill="#5800ac"/>
<circle cx="332.6" cy="380.4" r="2.75" fill="#7202f3"/>
<circle cx="532.5" cy="374.1" r="2.75" fill="#7d04fe"/>
<circle cx="540.6" cy="329.5" r="2.75" fill="#6401d2"/>
<circle cx="175.2" cy="342.1" r="2.75" fill="#52009b"/>
<circle cx="564.3" cy="372.1" r="2.75" fill="#a00fa0"/>
<circle cx="470.7" cy="313.5" r="2.75" fill="#500094"/>
<circle cx="523.8" cy="327.3" r="2.75" fill="#510096"/>
<circle cx="455.5" cy="342.3" r="2.75" fill="#6501d5"/>
<circle cx="454.1" cy="378.8" r="2.75" fill="#6b01e5"/>
<circle cx="475.4" cy="289.6" r="2.75" fill="#500093"/>
<circle cx="78.1" cy="368.1" r="2.75" fill="#aa165b"/>
<circle cx="526.9" cy="139.9" r="2.75" fill="#4f0092"/>
<circle cx="252.6" cy="377.7" r="2.75" fill="#8004ff"/>
<circle cx="285.8" cy="347.7" r="2.75" fill="#6a01e2"/>
<circle cx="203.1" cy="380.1" r="2.75" fill="#7703fa"/>
<circle cx="151.2" cy="355.7" r="2.75" fill="#8605fc"/>
<circle cx="317.2" cy="350.4" r="2.75" fill="#7c03fe"/>
<circle cx="334.9" cy="350.6" r="2.75" fill="#7803fb"/>
<circle cx="383.3" cy="353.0" r="2.75" fill="#8605fc"/>
<circle cx="533.8" cy="183.4" r="2.75" fill="#510096"/>
<circle cx="458.5" cy="316.9" r="2.75" fill="#510098"/>
<circle cx="374.7" cy="383.3" r="2.75" fill="#7402f5"/>
<circle cx="472.3" cy="253.5" r="2.75" fill="#52009a"/>
<circle cx="502.7" cy="344.2" r="2.75" fill="#6401d2"/>
<circle cx="368.5" cy="385.8" r="2.75" fill="#6e02eb"/>
<circle cx="78.2" cy="359.8" r="2.75" fill="#c73a00"/>
<circle cx="517.7" cy="119.3" r="2.75" fill="#510098"/>
<circle cx="299.0" cy="376.2" r="2.75" fill="#6e02ea"/>
<circle cx="487.4" cy="228.8" r="2.75" fill="#52009b"/>
<circle cx="214.8" cy="378.4" r="2.75" fill="#6801dd"/>
<circle cx="143.2" cy="350.5" r="2.75" fill="#5e01c1"/>
<circle cx="550.3" cy="278.1" r="2.75" fill="#52009a"/>
<circle cx="383.4" cy="355.3" r="2.75" fill="#6d02e9"/>
<circle cx="311.2" cy="345.0" r="2.75" fill="#6a01e2"/>
<circle cx="455.4" cy="353.9" r="2.75" fill="#8d07ef"/>
<circle cx="557.4" cy="156.5" r="2.75" fill="#4f0091"/>
<circle cx="452.1" cy="383.8" r="2.75" fill="#6f02ee"/>
<circle cx="378.3" cy="344.1" r="2.75" fill="#53009f"/>
<circle cx="426.8" cy="335.5" r="2.75" fill="#6201cc"/>
<circle cx="134.2" cy="378.7" r="2.75" fill="#7a03fd"/>
<circle cx="541.4" cy="347.8" r="2.75" fill="#6b01e4"/>
<circle cx="438.2" cy="337.0" r="2.75" fill="#6601d7"/>
<circle cx="492.3" cy="261.9" r="2.75" fill="#510096"/>
<circle cx="528.5" cy="216.6" r="2.75" fill="#500094"/>
<circle cx="185.7" cy="348.4" r="2.75" fill="#6701da"/>
<circle cx="368.3" cy="377.8" r="2.75" fill="#7c03fe"/>
<circle cx="152.6" cy="345.8" r="2.75" fill="#5e01c1"/>
<circle cx="420.7" cy="341.2" r="2.75" fill="#5800ae"/>
<circle cx="562.6" cy="332.7" r="2.75" fill="#6701d9"/>
<circle cx="516.9" cy="121.9" r="2.75" fill="#520099"/>
<circle cx="150.2" cy="346.2" r="2.75" fill="#5400a0"/>
<circle cx="82.8" cy="332.6" r="2.75" fill="#510096"/>
<circle cx="513.5" cy="279.2" r="2.75" fill="#52009a"/>
<circle cx="319.0" cy="343.7" r="2.75" fill="#5f01c2"/>
<circle cx="213.5" cy="375.8" r="2.75" fill="#6a01e2"/>
<circle cx="403.8" cy="342.8" r="2.75" fill="#53009f"/>
<circle cx="562.3" cy="330.8" r="2.75" fill="#53009e"/>
<circle cx="554.7" cy="328.9" r="2.75" fill="#5d01bc"/>
<circle cx="529.6" cy="330.0" r="2.75" fill="#5f01c3"/>
<circle cx="184.8" cy="379.4" r="2.75" fill="#6e02ea"/>
<circle cx="272.4" cy="380.1" r="2.75" fill="#7202f3"/>
<circle cx="485.5" cy="309.8" r="2.75" fill="#52009b"/>
<circle cx="262.8" cy="375.6" r="2.75" fill="#6601d6"/>
<circle cx="345.1" cy="344.3" r="2.75" fill="#5a00b4"/>
<circle cx="87.9" cy="372.7" r="2.75" fill="#7903fb"/>
<circle cx="565.3" cy="307.7" r="2.75" fill="#5c01bb"/>
<circle cx="422.9" cy="344.2" r="2.75" fill="#6601d8"/>
<circle cx="536.1" cy="333.7" r="2.75" fill="#5a00b3"/>
<circle cx="502.4" cy="342.9" r="2.75" fill="#6b01e5"/>
<circle cx="438.6" cy="351.6" r="2.75" fill="#510096"/>
<circle cx="529.9" cy="383.8" r="2.75" fill="#7202f2"/>
<circle cx="537.4" cy="349.4" r="2.75" fill="#6a01e2"/>
<circle cx="488.7" cy="320.5" r="2.75" fill="#5600a8"/>
<circle cx="446.5" cy="315.4" r="2.75" fill="#500095"/>
<circle cx="396.3" cy="354.1" r="2.75" fill="#7a03fd"/>
<circle cx="526.3" cy="344.7" r="2.75" fill="#6601d8"/>
<circle cx="505.9" cy="297.5" r="2.75" fill="#5600a6"/>
<circle cx="559.5" cy="91.5" r="2.75" fill="#500094"/>
<circle cx="384.9" cy="350.1" r="2.75" fill="#6301d0"/>
<circle cx="400.5" cy="321.8" r="2.75" fill="#500093"/>
<circle cx="476.7" cy="376.3" r="2.75" fill="#6901de"/>
<circle cx="555.8" cy="380.0" r="2.75" fill="#7e04ff"/>
<circle cx="531.8" cy="379.9" r="2.75" fill="#7703fa"/>
<circle cx="470.8" cy="318.0" r="2.75" fill="#5a01b5"/>
<circle cx="407.2" cy="383.3" r="2.75" fill="#6d02e8"/>
<circle cx="153.8" cy="376.1" r="2.75" fill="#7502f8"/>
<circle cx="110.6" cy="333.0" r="2.75" fill="#500093"/>
<circle cx="307.7" cy="381.7" r="2.75" fill="#7803fb"/>
<circle cx="303.0" cy="343.9" r="2.75" fill="#6701da"/>
<circle cx="384.9" cy="348.9" r="2.75" fill="#5f01c3"/>
<circle cx="545.8" cy="157.8" r="2.75" fill="#500095"/>
<circle cx="338.2" cy="352.8" r="2.75" fill="#8806fa"/>
<circle cx="447.3" cy="344.8" r="2.75" fill="#6301d0"/>
<circle cx="214.5" cy="348.3" r="2.75" fill="#5e01c0"/>
<circle cx="465.7" cy="382.5" r="2.75" fill="#7202f2"/>
<circle cx="562.4" cy="342.8" r="2.75" fill="#52009b"/>
<circle cx="479.3" cy="305.9" r="2.75" fill="#5400a0"/>
<circle cx="360.2" cy="385.1" r="2.75" fill="#7002ef"/>
<circle cx="171.0" cy="345.7" r="2.75" fill="#5500a5"/>
<circle cx="352.0" cy="339.9" r="2.75" fill="#500093"/>
<circle cx="424.2" cy="344.4" r="2.75" fill="#5a01b5"/>
<circle cx="486.4" cy="317.7" r="2.75" fill="#5b01b7"/>
<circle cx="325.0" cy="347.6" r="2.75" fill="#6201cc"/>
<circle cx="518.2" cy="379.8" r="2.75" fill="#6c01e7"/>
<circle cx="543.4" cy="386.5" r="2.75" fill="#6f02ed"/>
<circle cx="329.9" cy="345.0" r="2.75" fill="#6101c8"/>
<circle cx="382.7" cy="383.1" r="2.75" fill="#7002ee"/>
<circle cx="459.0" cy="349.1" r="2.75" fill="#6501d4"/>
<circle cx="118.8" cy="379.0" r="2.75" fill="#6801dc"/>
<circle cx="416.3" cy="342.5" r="2.75" fill="#5400a0"/>
<circle cx="326.6" cy="376.0" r="2.75" fill="#7b03fe"/>
<circle cx="544.6" cy="346.4" r="2.75" fill="#6301cf"/>
<circle cx="463.0" cy="347.6" r="2.75" fill="#6501d6"/>
<circle cx="379.6" cy="376.3" r="2.75" fill="#7b03fe"/>
<circle cx="450.2" cy="349.3" r="2.75" fill="#6b01e4"/>
<circle cx="198.1" cy="347.1" r="2.75" fill="#6b01e5"/>
<circle cx="468.5" cy="338.0" r="2.75" fill="#5800ac"/>
<circle cx="291.1" cy="348.9" r="2.75" fill="#6c01e6"/>
<circle cx="239.7" cy="347.6" r="2.75" fill="#5e01c1"/>
<circle cx="454.5" cy="334.0" r="2.75" fill="#5e01c0"/>
<circle cx="133.8" cy="376.7" r="2.75" fill="#7502f7"/>
<circle cx="481.4" cy="337.5" r="2.75" fill="#6501d6"/>
<circle cx="564.2" cy="326.4" r="2.75" fill="#6101ca"/>
<circle cx="547.4" cy="340.0" r="2.75" fill="#6301d0"/>
<circle cx="562.7" cy="380.1" r="2.75" fill="#7602f8"/>
<circle cx="479.0" cy="377.0" r="2.75" fill="#8c07f2"/>
<circle cx="85.4" cy="372.7" r="2.75" fill="#7c03fe"/>
<circle cx="518.7" cy="298.6" r="2.75" fill="#5b01b7"/>
<circle cx="505.9" cy="295.5" r="2.75" fill="#520099"/>
<circle cx="564.5" cy="152.7" r="2.75" fill="#510097"/>
<circle cx="218.8" cy="351.1" r="2.75" fill="#6501d4"/>
<circle cx="233.4" cy="351.0" r="2.75" fill="#5500a5"/>
<circle cx="427.3" cy="350.1" r="2.75" fill="#7502f7"/>
<circle cx="508.4" cy="311.6" r="2.75" fill="#5700a9"/>
<circle cx="459.2" cy="377.8" r="2.75" fill="#7703f9"/>
<circle cx="455.2" cy="357.1" r="2.75" fill="#ad193b"/>
<circle cx="105.3" cy="345.7" r="2.75" fill="#6601d8"/>
<circle cx="539.8" cy="379.8" r="2.75" fill="#7c03fe"/>
<circle cx="519.3" cy="377.2" r="2.75" fill="#6c01e7"/>
<circle cx="535.7" cy="245.0" r="2.75" fill="#510097"/>
<circle cx="296.3" cy="348.9" r="2.75" fill="#6401d3"/>
<circle cx="491.6" cy="351.4" r="2.75" fill="#6101ca"/>
<circle cx="178.1" cy="349.2" r="2.75" fill="#5b01b6"/>
<circle cx="512.8" cy="382.2" r="2.75" fill="#7002ef"/>
<circle cx="241.1" cy="380.6" r="2.75" fill="#6e02ea"/>
<circle cx="356.6" cy="377.4" r="2.75" fill="#7903fc"/>
<circle cx="560.0" cy="311.0" r="2.75" fill="#5b01b8"/>
<circle cx="78.1" cy="361.4" r="2.75" fill="#a5137a"/>
<circle cx="521.1" cy="343.3" r="2.75" fill="#5700a9"/>
<circle cx="521.8" cy="377.8" r="2.75" fill="#6c01e6"/>
<circle cx="260.7" cy="356.0" r="2.75" fill="#8605fb"/>
<circle cx="153.0" cy="346.3" r="2.75" fill="#6701d9"/>
<circle cx="460.9" cy="336.3" r="2.75" fill="#5d01bc"/>
<circle cx="562.4" cy="330.3" r="2.75" fill="#5f01c4"/>
<circle cx="486.3" cy="381.9" r="2.75" fill="#6b01e5"/>
<circle cx="314.7" cy="330.8" r="2.75" fill="#520099"/>
<circle cx="451.0" cy="334.8" r="2.75" fill="#5d01bd"/>
<circle cx="558.3" cy="374.9" r="2.75" fill="#7703fa"/>
<circle cx="147.4" cy="379.4" r="2.75" fill="#7302f4"/>
<circle cx="225.3" cy="379.1" r="2.75" fill="#7102f1"/>
<circle cx="380.5" cy="379.6" r="2.75" fill="#7202f2"/>
<circle cx="321.2" cy="351.8" r="2.75" fill="#7f04ff"/>
<circle cx="477.4" cy="291.9" r="2.75" fill="#52009a"/>
<circle cx="453.8" cy="312.3" r="2.75" fill="#52009b"/>
<circle cx="564.9" cy="348.0" r="2.75" fill="#6601d8"/>
<circle cx="511.9" cy="345.0" r="2.75" fill="#5d01be"/>
<circle cx="224.9" cy="344.9" r="2.75" fill="#6301cf"/>
<circle cx="520.7" cy="344.1" r="2.75" fill="#5d01be"/>
<circle cx="398.6" cy="354.4" r="2.75" fill="#7603f9"/>
<circle cx="542.1" cy="338.5" r="2.75" fill="#5800ae"/>
<circle cx="211.4" cy="345.8" r="2.75" fill="#6901de"/>
<circle cx="481.1" cy="343.7" r="2.75" fill="#6901df"/>
<circle cx="557.3" cy="372.1" r="2.75" fill="#6701da"/>
<circle cx="161.5" cy="374.2" r="2.75" fill="#7102f0"/>
<circle cx="434.3" cy="341.5" r="2.75" fill="#6701da"/>
<circle cx="194.9" cy="353.0" r="2.75" fill="#7f04ff"/>
<circle cx="489.1" cy="340.4" r="2.75" fill="#6101cb"/>
<circle cx="78.9" cy="364.0" r="2.75" fill="#e78e00"/>
<circle cx="81.7" cy="346.8" r="2.75" fill="#6801dc"/>
<circle cx="78.8" cy="361.8" r="2.75" fill="#9c0db6"/>
<circle cx="352.6" cy="380.2" r="2.75" fill="#7002ee"/>
<circle cx="83.9" cy="336.2" r="2.75" fill="#500094"/>
<circle cx="503.5" cy="307.0" r="2.75" fill="#52009c"/>
<circle cx="460.8" cy="333.9" r="2.75" fill="#5e01bf"/>
<circle cx="78.3" cy="353.6" r="2.75" fill="#7402f6"/>
<circle cx="550.9" cy="385.5" r="2.75" fill="#7302f4"/>
<circle cx="538.4" cy="348.6" r="2.75" fill="#510096"/>
<circle cx="349.1" cy="382.4" r="2.75" fill="#7502f7"/>
<circle cx="91.5" cy="344.3" r="2.75" fill="#5d01bc"/>
<circle cx="558.2" cy="80.0" r="2.75" fill="#500095"/>
<circle cx="424.6" cy="349.8" r="2.75" fill="#6f02ed"/>
<circle cx="435.4" cy="349.1" r="2.75" fill="#6801dc"/>
<circle cx="311.0" cy="350.1" r="2.75" fill="#6401d3"/>
<circle cx="215.9" cy="375.4" r="2.75" fill="#6c01e7"/>
<circle cx="186.0" cy="343.7" r="2.75" fill="#5400a0"/>
<circle cx="446.1" cy="355.4" r="2.75" fill="#8806f9"/>
<circle cx="469.3" cy="343.5" r="2.75" fill="#6401d2"/>
<circle cx="547.2" cy="386.1" r="2.75" fill="#6f02ed"/>
<circle cx="280.0" cy="377.9" r="2.75" fill="#7f04ff"/>
<circle cx="341.5" cy="376.9" r="2.75" fill="#8104ff"/>
<circle cx="472.2" cy="382.0" r="2.75" fill="#7803fa"/>
<circle cx="172.2" cy="344.7" r="2.75" fill="#5f01c4"/>
<circle cx="528.5" cy="285.8" r="2.75" fill="#500095"/>
<circle cx="339.0" cy="345.5" r="2.75" fill="#5b01b8"/>
<circle cx="252.1" cy="347.3" r="2.75" fill="#6f02ec"/>
<circle cx="423.1" cy="349.5" r="2.75" fill="#7703fa"/>
<circle cx="489.4" cy="313.0" r="2.75" fill="#5700ab"/>
<circle cx="359.3" cy="352.2" r="2.75" fill="#8405fd"/>
<circle cx="102.4" cy="379.2" r="2.75" fill="#7a03fd"/>
<circle cx="139.5" cy="346.8" r="2.75" fill="#6801dd"/>
<circle cx="234.6" cy="350.5" r="2.75" fill="#5500a5"/>
<circle cx="511.6" cy="311.4" r="2.75" fill="#5e01c1"/>
<circle cx="558.5" cy="289.6" r="2.75" fill="#4f0092"/>
<circle cx="356.1" cy="350.4" r="2.75" fill="#6901de"/>
<circle cx="506.7" cy="313.7" r="2.75" fill="#5b01b7"/>
<circle cx="558.0" cy="334.5" r="2.75" fill="#6701db"/>
<circle cx="424.6" cy="345.4" r="2.75" fill="#5500a5"/>
<circle cx="350.3" cy="350.6" r="2.75" fill="#5e01c1"/>
<circle cx="454.8" cy="385.1" r="2.75" fill="#7302f4"/>
<circle cx="228.6" cy="378.5" r="2.75" fill="#7b03fe"/>
<circle cx="563.1" cy="278.1" r="2.75" fill="#500092"/>
<circle cx="79.6" cy="373.4" r="2.75" fill="#6f02ed"/>
<circle cx="273.8" cy="352.8" r="2.75" fill="#510098"/>
<circle cx="87.4" cy="350.8" r="2.75" fill="#5b01b6"/>
<circle cx="92.6" cy="354.0" r="2.75" fill="#8c07f2"/>
<circle cx="452.2" cy="378.8" r="2.75" fill="#7d04fe"/>
<circle cx="551.6" cy="345.7" r="2.75" fill="#6801dd"/>
<circle cx="565.2" cy="344.3" r="2.75" fill="#5600a8"/>
<circle cx="544.2" cy="323.5" r="2.75" fill="#6301cf"/>
<circle cx="207.3" cy="342.8" r="2.75" fill="#4f0091"/>
<circle cx="168.0" cy="348.1" r="2.75" fill="#5d01bc"/>
<circle cx="429.3" cy="348.4" r="2.75" fill="#6a01e2"/>
<circle cx="243.1" cy="347.7" r="2.75" fill="#52009c"/>
<circle cx="451.5" cy="356.0" r="2.75" fill="#8605fc"/>
<circle cx="187.8" cy="354.9" r="2.75" fill="#6501d4"/>
<circle cx="531.3" cy="382.9" r="2.75" fill="#7a03fd"/>
<circle cx="151.8" cy="336.2" r="2.75" fill="#510098"/>
<circle cx="344.0" cy="378.3" r="2.75" fill="#7002f0"/>
<circle cx="154.0" cy="355.6" r="2.75" fill="#7502f7"/>
<circle cx="429.8" cy="348.4" r="2.75" fill="#7302f5"/>
<circle cx="261.1" cy="371.7" r="2.75" fill="#7903fc"/>
<circle cx="165.1" cy="351.1" r="2.75" fill="#6a01e2"/>
<circle cx="344.5" cy="369.5" r="2.75" fill="#a81566"/>
<circle cx="327.8" cy="375.9" r="2.75" fill="#8305fe"/>
<circle cx="512.8" cy="347.3" r="2.75" fill="#5500a4"/>
<circle cx="233.7" cy="343.8" r="2.75" fill="#5e01c1"/>
<circle cx="536.9" cy="204.9" r="2.75" fill="#500093"/>
<circle cx="294.8" cy="376.1" r="2.75" fill="#8a07f5"/>
<circle cx="551.1" cy="228.5" r="2.75" fill="#500093"/>
<circle cx="168.1" cy="375.5" r="2.75" fill="#7703fa"/>
<circle cx="232.1" cy="369.7" r="2.75" fill="#c02e00"/>
<circle cx="483.2" cy="344.0" r="2.75" fill="#5500a5"/>
<circle cx="538.9" cy="325.3" r="2.75" fill="#5a01b5"/>
<circle cx="486.9" cy="293.9" r="2.75" fill="#500094"/>
<circle cx="447.6" cy="339.1" r="2.75" fill="#6701da"/>
<circle cx="276.9" cy="350.7" r="2.75" fill="#7602f8"/>
<circle cx="451.9" cy="339.2" r="2.75" fill="#5a00b4"/>
<circle cx="497.9" cy="341.5" r="2.75" fill="#6101c8"/>
<circle cx="311.5" cy="380.6" r="2.75" fill="#7402f6"/>
<circle cx="386.1" cy="379.5" r="2.75" fill="#7e04ff"/>
<circle cx="473.3" cy="341.1" r="2.75" fill="#6201cd"/>
<circle cx="296.3" cy="346.7" r="2.75" fill="#6001c6"/>
<circle cx="438.4" cy="344.5" r="2.75" fill="#6c01e6"/>
<circle cx="534.0" cy="383.2" r="2.75" fill="#7703fa"/>
<circle cx="121.6" cy="379.1" r="2.75" fill="#7603f9"/>
<circle cx="126.2" cy="335.2" r="2.75" fill="#510096"/>
<circle cx="433.1" cy="308.0" r="2.75" fill="#500093"/>
<circle cx="476.7" cy="341.2" r="2.75" fill="#6901de"/>
<circle cx="260.7" cy="324.6" r="2.75" fill="#510098"/>
<circle cx="415.4" cy="349.8" r="2.75" fill="#6f02ee"/>
<circle cx="422.4" cy="384.1" r="2.75" fill="#7502f8"/>
<circle cx="198.3" cy="351.1" r="2.75" fill="#6e02ea"/>
<circle cx="164.8" cy="377.8" r="2.75" fill="#7302f5"/>
<circle cx="495.7" cy="330.5" r="2.75" fill="#6101ca"/>
<circle cx="491.0" cy="379.3" r="2.75" fill="#8104ff"/>
<circle cx="136.3" cy="353.0" r="2.75" fill="#8806f9"/>
<circle cx="138.9" cy="374.1" r="2.75" fill="#8b07f3"/>
<circle cx="324.2" cy="332.6" r="2.75" fill="#510098"/>
<circle cx="538.5" cy="334.4" r="2.75" fill="#5700ab"/>
<circle cx="347.7" cy="370.4" r="2.75" fill="#6401d3"/>
<circle cx="354.8" cy="355.5" r="2.75" fill="#6e02eb"/>
<circle cx="478.3" cy="374.6" r="2.75" fill="#7703fa"/>
<circle cx="183.8" cy="349.2" r="2.75" fill="#7302f5"/>
<circle cx="541.5" cy="155.3" r="2.75" fill="#510097"/>
<circle cx="469.7" cy="380.3" r="2.75" fill="#7e04ff"/>
<circle cx="504.1" cy="384.8" r="2.75" fill="#7603f9"/>
<circle cx="162.4" cy="378.6" r="2.75" fill="#7b03fd"/>
<circle cx="260.0" cy="346.2" r="2.75" fill="#6601d7"/>
<circle cx="226.4" cy="355.7" r="2.75" fill="#7903fb"/>
<circle cx="144.3" cy="349.5" r="2.75" fill="#5900b2"/>
<circle cx="193.6" cy="382.7" r="2.75" fill="#6c02e7"/>
<circle cx="288.7" cy="379.0" r="2.75" fill="#7d04ff"/>
<circle cx="521.1" cy="374.7" r="2.75" fill="#6701da"/>
<circle cx="542.8" cy="295.9" r="2.75" fill="#53009e"/>
<circle cx="479.5" cy="373.1" r="2.75" fill="#9d0eb2"/>
<circle cx="231.1" cy="346.9" r="2.75" fill="#5b01b7"/>
<circle cx="418.5" cy="355.0" r="2.75" fill="#8a06f6"/>
<circle cx="342.2" cy="349.8" r="2.75" fill="#7903fc"/>
<circle cx="220.5" cy="342.1" r="2.75" fill="#500094"/>
<circle cx="309.6" cy="342.8" r="2.75" fill="#500094"/>
<circle cx="478.0" cy="322.4" r="2.75" fill="#5a01b5"/>
<circle cx="468.5" cy="298.5" r="2.75" fill="#4f0091"/>
<circle cx="524.1" cy="309.1" r="2.75" fill="#5600a8"/>
<circle cx="300.4" cy="375.3" r="2.75" fill="#8004ff"/>
<circle cx="207.7" cy="351.9" r="2.75" fill="#7402f5"/>
<circle cx="492.7" cy="346.6" r="2.75" fill="#6601d7"/>
<circle cx="513.6" cy="307.2" r="2.75" fill="#52009b"/>
<circle cx="511.4" cy="370.7" r="2.75" fill="#b52000"/>
<circle cx="460.8" cy="302.3" r="2.75" fill="#500094"/>
<circle cx="88.2" cy="351.4" r="2.75" fill="#5900b1"/>
<circle cx="391.2" cy="381.3" r="2.75" fill="#7202f2"/>
<circle cx="375.9" cy="348.9" r="2.75" fill="#7202f3"/>
<circle cx="440.5" cy="372.8" r="2.75" fill="#6401d2"/>
<circle cx="324.1" cy="349.4" r="2.75" fill="#6901e0"/>
<circle cx="402.5" cy="346.8" r="2.75" fill="#6f02ed"/>
<circle cx="128.8" cy="347.8" r="2.75" fill="#510097"/>
<circle cx="175.5" cy="332.3" r="2.75" fill="#52009a"/>
<circle cx="506.8" cy="326.0" r="2.75" fill="#5b01b8"/>
<circle cx="156.1" cy="334.8" r="2.75" fill="#52009a"/>
<circle cx="421.3" cy="338.9" r="2.75" fill="#5400a0"/>
<circle cx="300.0" cy="353.7" r="2.75" fill="#6a01e1"/>
<circle cx="220.9" cy="352.3" r="2.75" fill="#5800ae"/>
<circle cx="155.2" cy="357.0" r="2.75" fill="#5600a7"/>
<circle cx="524.2" cy="344.8" r="2.75" fill="#5400a0"/>
<circle cx="525.1" cy="311.6" r="2.75" fill="#5600a8"/>
<circle cx="383.5" cy="375.0" r="2.75" fill="#7903fc"/>
<circle cx="341.9" cy="381.7" r="2.75" fill="#7502f8"/>
<circle cx="461.9" cy="349.1" r="2.75" fill="#6601d8"/>
<circle cx="302.0" cy="373.9" r="2.75" fill="#7502f7"/>
<circle cx="395.7" cy="381.5" r="2.75" fill="#7402f5"/>
<circle cx="242.7" cy="355.3" r="2.75" fill="#9008e7"/>
<circle cx="378.4" cy="374.3" r="2.75" fill="#6801dd"/>
<circle cx="565.1" cy="334.9" r="2.75" fill="#6501d4"/>
<circle cx="480.3" cy="339.9" r="2.75" fill="#6101c9"/>
<circle cx="440.3" cy="376.3" r="2.75" fill="#8c07f3"/>
<circle cx="522.2" cy="337.1" r="2.75" fill="#5900b0"/>
<circle cx="536.5" cy="215.1" r="2.75" fill="#500095"/>
<circle cx="466.8" cy="345.3" r="2.75" fill="#5800ae"/>
<circle cx="78.5" cy="352.1" r="2.75" fill="#6c01e6"/>
<circle cx="464.2" cy="282.8" r="2.75" fill="#500095"/>
<circle cx="467.7" cy="319.2" r="2.75" fill="#500095"/>
<circle cx="241.7" cy="380.3" r="2.75" fill="#7a03fd"/>
<circle cx="111.0" cy="376.2" r="2.75" fill="#7703f9"/>
<circle cx="266.6" cy="349.1" r="2.75" fill="#7502f7"/>
<circle cx="446.8" cy="345.1" r="2.75" fill="#6901e0"/>
<circle cx="410.9" cy="347.8" r="2.75" fill="#6201cd"/>
<circle cx="315.7" cy="379.2" r="2.75" fill="#7703fa"/>
<circle cx="555.4" cy="325.1" r="2.75" fill="#5b01b8"/>
<circle cx="104.6" cy="347.6" r="2.75" fill="#5600a7"/>
<circle cx="386.8" cy="334.9" r="2.75" fill="#6001c6"/>
<circle cx="477.4" cy="373.4" r="2.75" fill="#7b03fe"/>
<circle cx="527.0" cy="338.0" r="2.75" fill="#6901de"/>
<circle cx="517.5" cy="340.9" r="2.75" fill="#510098"/>
<circle cx="247.1" cy="382.6" r="2.75" fill="#6c01e7"/>
<circle cx="438.1" cy="375.1" r="2.75" fill="#950ad4"/>
<circle cx="395.8" cy="342.9" r="2.75" fill="#6201cb"/>
<circle cx="132.0" cy="378.0" r="2.75" fill="#7c03fe"/>
<circle cx="226.2" cy="351.1" r="2.75" fill="#5b01b8"/>
<circle cx="401.0" cy="337.0" r="2.75" fill="#6501d4"/>
<circle cx="335.7" cy="354.8" r="2.75" fill="#7703fa"/>
<circle cx="491.9" cy="353.1" r="2.75" fill="#8605fc"/>
<circle cx="475.4" cy="245.8" r="2.75" fill="#52009a"/>
<circle cx="543.8" cy="130.1" r="2.75" fill="#4f0091"/>
<circle cx="446.8" cy="338.7" r="2.75" fill="#6601d7"/>
<circle cx="389.7" cy="309.2" r="2.75" fill="#52009b"/>
<circle cx="547.7" cy="103.0" r="2.75" fill="#52009a"/>
<circle cx="526.6" cy="258.8" r="2.75" fill="#510097"/>
<circle cx="253.0" cy="375.6" r="2.75" fill="#6d02e8"/>
<circle cx="537.7" cy="382.1" r="2.75" fill="#7903fc"/>
<circle cx="565.1" cy="375.7" r="2.75" fill="#9008e9"/>
<circle cx="492.1" cy="329.2" r="2.75" fill="#6201cd"/>
<circle cx="238.6" cy="349.3" r="2.75" fill="#5600a7"/>
<circle cx="124.8" cy="379.1" r="2.75" fill="#7b03fd"/>
<circle cx="535.7" cy="155.3" r="2.75" fill="#520099"/>
<circle cx="400.2" cy="349.5" r="2.75" fill="#6401d3"/>
<circle cx="139.2" cy="374.7" r="2.75" fill="#9109e4"/>
<circle cx="413.1" cy="330.5" r="2.75" fill="#5400a0"/>
<circle cx="191.4" cy="347.4" r="2.75" fill="#6801dd"/>
<circle cx="391.5" cy="377.8" r="2.75" fill="#7603f9"/>
<circle cx="318.8" cy="346.4" r="2.75" fill="#6201cc"/>
<circle cx="508.3" cy="325.9" r="2.75" fill="#510097"/>
<circle cx="313.7" cy="345.5" r="2.75" fill="#6301cf"/>
<circle cx="508.8" cy="372.4" r="2.75" fill="#8f08eb"/>
<circle cx="531.1" cy="312.8" r="2.75" fill="#5e01c1"/>
<circle cx="410.3" cy="374.4" r="2.75" fill="#7002ee"/>
<circle cx="392.2" cy="352.5" r="2.75" fill="#8806f9"/>
<circle cx="192.3" cy="345.6" r="2.75" fill="#510098"/>
<circle cx="338.6" cy="348.4" r="2.75" fill="#6e02eb"/>
<circle cx="486.9" cy="335.6" r="2.75" fill="#6401d1"/>
<circle cx="409.2" cy="310.0" r="2.75" fill="#510097"/>
<circle cx="537.1" cy="353.4" r="2.75" fill="#6401d1"/>
<circle cx="540.8" cy="141.5" r="2.75" fill="#500094"/>
<circle cx="558.5" cy="338.4" r="2.75" fill="#5500a4"/>
<circle cx="532.3" cy="351.5" r="2.75" fill="#7f04ff"/>
<circle cx="526.4" cy="305.7" r="2.75" fill="#510098"/>
<circle cx="485.7" cy="340.5" r="2.75" fill="#500093"/>
<circle cx="560.0" cy="302.1" r="2.75" fill="#5d01be"/>
<circle cx="541.9" cy="376.1" r="2.75" fill="#8705fb"/>
<circle cx="495.8" cy="315.8" r="2.75" fill="#5800af"/>
<circle cx="227.0" cy="342.8" r="2.75" fill="#510096"/>
<circle cx="366.3" cy="333.6" r="2.75" fill="#5b01b8"/>
<circle cx="264.3" cy="348.6" r="2.75" fill="#7202f2"/>
<circle cx="514.2" cy="324.4" r="2.75" fill="#6201cd"/>
<circle cx="435.3" cy="379.2" r="2.75" fill="#8004ff"/>
<circle cx="391.5" cy="373.7" r="2.75" fill="#7903fc"/>
<circle cx="409.9" cy="371.5" r="2.75" fill="#7803fb"/>
<circle cx="329.2" cy="351.5" r="2.75" fill="#7002ef"/>
<circle cx="200.9" cy="344.3" r="2.75" fill="#6601d8"/>
<circle cx="562.3" cy="183.1" r="2.75" fill="#4f0092"/>
<circle cx="534.3" cy="350.0" r="2.75" fill="#6701da"/>
<circle cx="518.2" cy="350.9" r="2.75" fill="#6301d0"/>
<circle cx="370.8" cy="323.1" r="2.75" fill="#510096"/>
<circle cx="527.6" cy="375.6" r="2.75" fill="#8e08ed"/>
<circle cx="232.9" cy="354.3" r="2.75" fill="#7703fa"/>
<circle cx="414.0" cy="353.0" r="2.75" fill="#6901df"/>
<circle cx="531.8" cy="332.7" r="2.75" fill="#6601d8"/>
<circle cx="547.0" cy="352.0" r="2.75" fill="#7f04ff"/>
<circle cx="556.2" cy="190.8" r="2.75" fill="#500092"/>
<circle cx="204.3" cy="350.1" r="2.75" fill="#7b03fe"/>
<circle cx="95.3" cy="345.1" r="2.75" fill="#5b01b7"/>
<circle cx="561.0" cy="341.5" r="2.75" fill="#52009a"/>
<circle cx="490.3" cy="383.5" r="2.75" fill="#7803fb"/>
<circle cx="262.2" cy="328.5" r="2.75" fill="#500094"/>
<circle cx="366.8" cy="375.5" r="2.75" fill="#6b01e4"/>
<circle cx="406.3" cy="378.7" r="2.75" fill="#6d02e9"/>
<circle cx="459.9" cy="349.0" r="2.75" fill="#6801dd"/>
<circle cx="524.3" cy="340.2" r="2.75" fill="#6001c7"/>
<circle cx="137.8" cy="345.5" r="2.75" fill="#6301cf"/>
<circle cx="503.7" cy="321.2" r="2.75" fill="#5600a8"/>
<circle cx="385.1" cy="373.9" r="2.75" fill="#6f02ed"/>
<circle cx="522.0" cy="168.5" r="2.75" fill="#510096"/>
<circle cx="480.1" cy="378.7" r="2.75" fill="#8605fb"/>
<circle cx="484.1" cy="310.9" r="2.75" fill="#5600a7"/>
<circle cx="556.2" cy="380.9" r="2.75" fill="#7002ee"/>
<circle cx="447.3" cy="371.7" r="2.75" fill="#7c03fe"/>
<circle cx="367.2" cy="350.6" r="2.75" fill="#7603f9"/>
<circle cx="370.3" cy="344.0" r="2.75" fill="#5f01c3"/>
<circle cx="467.6" cy="382.6" r="2.75" fill="#7803fb"/>
<circle cx="231.4" cy="369.4" r="2.75" fill="#aa1754"/>
<circle cx="347.8" cy="351.9" r="2.75" fill="#7102f0"/>
<circle cx="333.9" cy="352.9" r="2.75" fill="#6001c5"/>
<circle cx="191.0" cy="359.8" r="2.75" fill="#8806f9"/>
<circle cx="316.7" cy="379.4" r="2.75" fill="#7e04ff"/>
<circle cx="485.9" cy="347.3" r="2.75" fill="#6f02ed"/>
<circle cx="250.0" cy="381.1" r="2.75" fill="#7603f9"/>
<circle cx="528.0" cy="324.3" r="2.75" fill="#5600a7"/>
<circle cx="133.3" cy="351.6" r="2.75" fill="#7603f9"/>
<circle cx="273.9" cy="353.8" r="2.75" fill="#7002f0"/>
<circle cx="560.2" cy="347.9" r="2.75" fill="#6f02ee"/>
<circle cx="266.6" cy="339.9" r="2.75" fill="#500093"/>
<circle cx="501.3" cy="309.0" r="2.75" fill="#5d01bd"/>
<circle cx="292.6" cy="349.8" r="2.75" fill="#6801de"/>
<circle cx="147.6" cy="352.1" r="2.75" fill="#7602f8"/>
<circle cx="386.6" cy="369.7" r="2.75" fill="#a21190"/>
<circle cx="500.0" cy="380.0" r="2.75" fill="#7602f8"/>
<circle cx="309.9" cy="374.0" r="2.75" fill="#7102f1"/>
<circle cx="545.6" cy="338.3" r="2.75" fill="#6701da"/>
<circle cx="398.0" cy="374.6" r="2.75" fill="#6d02e8"/>
<circle cx="387.5" cy="373.9" r="2.75" fill="#7a03fc"/>
<circle cx="155.0" cy="348.3" r="2.75" fill="#6201cc"/>
<circle cx="524.0" cy="335.7" r="2.75" fill="#6501d4"/>
<circle cx="441.9" cy="374.4" r="2.75" fill="#7c03fe"/>
<circle cx="229.8" cy="374.2" r="2.75" fill="#7a03fd"/>
<circle cx="505.4" cy="328.0" r="2.75" fill="#5500a3"/>
<circle cx="110.1" cy="353.3" r="2.75" fill="#8104ff"/>
<circle cx="388.4" cy="367.8" r="2.75" fill="#df7100"/>
<circle cx="335.9" cy="342.8" r="2.75" fill="#510096"/>
<circle cx="497.2" cy="378.0" r="2.75" fill="#8605fc"/>
<circle cx="526.0" cy="328.3" r="2.75" fill="#5c01b9"/>
<circle cx="227.2" cy="356.8" r="2.75" fill="#990cc3"/>
<circle cx="454.5" cy="357.7" r="2.75" fill="#8305fe"/>
<circle cx="543.8" cy="287.8" r="2.75" fill="#510098"/>
<circle cx="498.4" cy="306.7" r="2.75" fill="#5500a3"/>
<circle cx="86.8" cy="369.7" r="2.75" fill="#7002ef"/>
<circle cx="443.1" cy="352.9" r="2.75" fill="#8004ff"/>
<circle cx="97.5" cy="352.6" r="2.75" fill="#6a01e1"/>
<circle cx="563.3" cy="369.8" r="2.75" fill="#c43500"/>
<circle cx="389.0" cy="350.9" r="2.75" fill="#510098"/>
<circle cx="419.7" cy="377.1" r="2.75" fill="#8706fa"/>
<circle cx="136.2" cy="374.7" r="2.75" fill="#7c03fe"/>
<circle cx="192.6" cy="375.8" r="2.75" fill="#6601d7"/>
<circle cx="530.8" cy="201.8" r="2.75" fill="#510096"/>
<circle cx="487.9" cy="350.5" r="2.75" fill="#54009f"/>
<circle cx="221.3" cy="375.9" r="2.75" fill="#7f04ff"/>
<circle cx="133.9" cy="354.7" r="2.75" fill="#5b01b8"/>
<circle cx="98.6" cy="353.7" r="2.75" fill="#8806f9"/>
<circle cx="386.2" cy="347.4" r="2.75" fill="#6601d7"/>
<circle cx="564.8" cy="342.8" r="2.75" fill="#6701da"/>
<circle cx="531.8" cy="381.8" r="2.75" fill="#7803fb"/>
<circle cx="385.2" cy="372.1" r="2.75" fill="#9c0eb4"/>
<circle cx="293.7" cy="376.1" r="2.75" fill="#6c01e6"/>
<circle cx="83.9" cy="373.0" r="2.75" fill="#7102f1"/>
<circle cx="377.2" cy="352.8" r="2.75" fill="#8605fc"/>
<circle cx="516.5" cy="377.5" r="2.75" fill="#7002ef"/>
<circle cx="108.0" cy="352.4" r="2.75" fill="#5600a8"/>
<circle cx="137.3" cy="368.6" r="2.75" fill="#8605fb"/>
<circle cx="395.7" cy="344.3" r="2.75" fill="#5b01b6"/>
<circle cx="138.8" cy="351.8" r="2.75" fill="#5b01b6"/>
<circle cx="549.7" cy="95.8" r="2.75" fill="#4f0091"/>
<circle cx="300.6" cy="340.6" r="2.75" fill="#510097"/>
<circle cx="405.7" cy="350.1" r="2.75" fill="#7502f7"/>
<circle cx="514.8" cy="370.7" r="2.75" fill="#9309df"/>
<circle cx="296.5" cy="325.6" r="2.75" fill="#510096"/>
<circle cx="366.5" cy="370.6" r="2.75" fill="#8e08ed"/>
<circle cx="441.5" cy="336.0" r="2.75" fill="#5400a1"/>
<circle cx="317.8" cy="369.3" r="2.75" fill="#cb4100"/>
<circle cx="295.1" cy="351.8" r="2.75" fill="#8204ff"/>
<circle cx="366.1" cy="383.0" r="2.75" fill="#7302f4"/>
<circle cx="520.0" cy="373.0" r="2.75" fill="#7b03fe"/>
<circle cx="517.9" cy="319.6" r="2.75" fill="#5c01b9"/>
<circle cx="514.6" cy="383.7" r="2.75" fill="#7703fa"/>
<circle cx="87.7" cy="369.5" r="2.75" fill="#7202f2"/>
<circle cx="519.5" cy="314.4" r="2.75" fill="#5600a8"/>
<circle cx="471.8" cy="286.5" r="2.75" fill="#4f0091"/>
<circle cx="268.1" cy="344.3" r="2.75" fill="#5a00b3"/>
<circle cx="449.2" cy="347.1" r="2.75" fill="#510099"/>
<circle cx="347.0" cy="375.6" r="2.75" fill="#9109e5"/>
<circle cx="203.7" cy="337.0" r="2.75" fill="#510098"/>
<circle cx="293.4" cy="378.9" r="2.75" fill="#7d03fe"/>
<circle cx="182.9" cy="349.3" r="2.75" fill="#5d01bc"/>
<circle cx="493.9" cy="305.7" r="2.75" fill="#5d01bd"/>
<circle cx="521.5" cy="373.8" r="2.75" fill="#7a03fd"/>
<circle cx="202.0" cy="347.6" r="2.75" fill="#5900af"/>
<circle cx="545.1" cy="303.5" r="2.75" fill="#5b01b7"/>
<circle cx="425.3" cy="338.8" r="2.75" fill="#6101c9"/>
<circle cx="149.4" cy="373.6" r="2.75" fill="#7102f1"/>
<circle cx="555.4" cy="293.5" r="2.75" fill="#510097"/>
<circle cx="478.8" cy="317.3" r="2.75" fill="#500095"/>
<circle cx="421.8" cy="383.6" r="2.75" fill="#6d02e9"/>
<circle cx="212.6" cy="348.6" r="2.75" fill="#7502f8"/>
<circle cx="556.7" cy="348.2" r="2.75" fill="#7102f0"/>
<circle cx="337.4" cy="333.3" r="2.75" fill="#52009a"/>
<circle cx="565.4" cy="358.7" r="2.75" fill="#9f0fa6"/>
<circle cx="550.9" cy="383.7" r="2.75" fill="#6e02ea"/>
<circle cx="283.9" cy="351.1" r="2.75" fill="#7e04ff"/>
<circle cx="366.8" cy="367.9" r="2.75" fill="#7803fb"/>
<circle cx="529.3" cy="377.7" r="2.75" fill="#8004ff"/>
<circle cx="302.3" cy="335.5" r="2.75" fill="#510097"/>
<circle cx="449.2" cy="323.1" r="2.75" fill="#510096"/>
<circle cx="555.4" cy="233.5" r="2.75" fill="#500093"/>
<circle cx="232.3" cy="367.8" r="2.75" fill="#e48400"/>
<circle cx="157.2" cy="377.2" r="2.75" fill="#7102f0"/>
<circle cx="259.9" cy="342.8" r="2.75" fill="#520099"/>
<circle cx="246.1" cy="379.0" r="2.75" fill="#7603f9"/>
<circle cx="133.7" cy="371.9" r="2.75" fill="#7202f3"/>
<circle cx="134.2" cy="369.5" r="2.75" fill="#b82400"/>
<circle cx="415.9" cy="371.7" r="2.75" fill="#a3118c"/>
<circle cx="515.4" cy="344.1" r="2.75" fill="#5b01b8"/>
<circle cx="209.3" cy="347.4" r="2.75" fill="#6201cb"/>
<circle cx="528.6" cy="381.1" r="2.75" fill="#8004ff"/>
<circle cx="147.5" cy="376.8" r="2.75" fill="#7d04ff"/>
<circle cx="402.0" cy="378.5" r="2.75" fill="#7102f0"/>
<circle cx="465.4" cy="314.2" r="2.75" fill="#520099"/>
<circle cx="94.1" cy="374.5" r="2.75" fill="#7a03fd"/>
<circle cx="464.9" cy="302.3" r="2.75" fill="#510096"/>
<circle cx="545.1" cy="353.8" r="2.75" fill="#5a00b2"/>
<circle cx="408.4" cy="379.0" r="2.75" fill="#6d02e9"/>
<circle cx="276.7" cy="368.5" r="2.75" fill="#a7146e"/>
<circle cx="440.4" cy="375.1" r="2.75" fill="#950ad6"/>
<circle cx="555.4" cy="332.6" r="2.75" fill="#6301d0"/>
<circle cx="80.2" cy="353.9" r="2.75" fill="#8f08ea"/>
<circle cx="562.0" cy="346.8" r="2.75" fill="#5c01ba"/>
<circle cx="380.6" cy="375.1" r="2.75" fill="#7603f9"/>
<circle cx="401.0" cy="345.0" r="2.75" fill="#6201cb"/>
<circle cx="151.8" cy="350.8" r="2.75" fill="#6c02e7"/>
<circle cx="369.2" cy="382.5" r="2.75" fill="#7502f7"/>
<circle cx="508.9" cy="326.0" r="2.75" fill="#520099"/>
<circle cx="193.7" cy="379.3" r="2.75" fill="#6c01e6"/>
<circle cx="263.6" cy="367.2" r="2.75" fill="#7c03fe"/>
<circle cx="130.7" cy="377.4" r="2.75" fill="#7202f3"/>
<circle cx="479.7" cy="372.0" r="2.75" fill="#a5137c"/>
<circle cx="399.3" cy="330.0" r="2.75" fill="#52009b"/>
<circle cx="354.2" cy="335.5" r="2.75" fill="#520099"/>
<circle cx="115.3" cy="376.4" r="2.75" fill="#7903fc"/>
<circle cx="516.2" cy="330.4" r="2.75" fill="#6401d3"/>
<circle cx="158.7" cy="349.6" r="2.75" fill="#6e02ea"/>
<circle cx="435.8" cy="373.6" r="2.75" fill="#7a03fc"/>
<circle cx="251.9" cy="341.4" r="2.75" fill="#52009a"/>
<circle cx="406.8" cy="350.5" r="2.75" fill="#5c01bb"/>
<circle cx="112.3" cy="354.3" r="2.75" fill="#8405fd"/>
<circle cx="534.9" cy="178.5" r="2.75" fill="#500093"/>
<circle cx="281.4" cy="346.1" r="2.75" fill="#6001c6"/>
<circle cx="264.7" cy="374.6" r="2.75" fill="#7b03fe"/>
<circle cx="78.1" cy="371.0" r="2.75" fill="#7e04ff"/>
<circle cx="536.5" cy="278.5" r="2.75" fill="#510097"/>
<circle cx="198.8" cy="351.9" r="2.75" fill="#8104ff"/>
<circle cx="343.9" cy="352.6" r="2.75" fill="#6301d0"/>
<circle cx="387.0" cy="377.8" r="2.75" fill="#7b03fd"/>
<circle cx="502.9" cy="376.1" r="2.75" fill="#7402f6"/>
<circle cx="541.3" cy="355.9" r="2.75" fill="#9f0fa7"/>
<circle cx="91.2" cy="355.1" r="2.75" fill="#5900af"/>
<circle cx="562.7" cy="350.0" r="2.75" fill="#7202f2"/>
<circle cx="469.6" cy="381.6" r="2.75" fill="#6e02ea"/>
<circle cx="426.0" cy="379.9" r="2.75" fill="#7202f2"/>
<circle cx="194.8" cy="347.2" r="2.75" fill="#6e02eb"/>
<circle cx="136.4" cy="348.1" r="2.75" fill="#6201cc"/>
<circle cx="519.9" cy="350.7" r="2.75" fill="#5e01c0"/>
<circle cx="500.7" cy="313.6" r="2.75" fill="#54009f"/>
<circle cx="274.8" cy="357.7" r="2.75" fill="#8104ff"/>
<circle cx="512.4" cy="298.8" r="2.75" fill="#5400a1"/>
<circle cx="468.3" cy="350.5" r="2.75" fill="#6101c9"/>
<circle cx="78.5" cy="367.1" r="2.75" fill="#e78f00"/>
<circle cx="363.1" cy="382.4" r="2.75" fill="#6b01e4"/>
<circle cx="422.4" cy="342.0" r="2.75" fill="#6101c8"/>
<circle cx="148.1" cy="372.9" r="2.75" fill="#7803fb"/>
<circle cx="477.5" cy="370.2" r="2.75" fill="#8605fc"/>
<circle cx="188.7" cy="375.1" r="2.75" fill="#8c07f1"/>
<circle cx="533.9" cy="381.8" r="2.75" fill="#7202f3"/>
<circle cx="165.9" cy="379.4" r="2.75" fill="#7a03fd"/>
<circle cx="198.9" cy="375.8" r="2.75" fill="#7402f5"/>
<circle cx="438.4" cy="384.3" r="2.75" fill="#6e02eb"/>
<circle cx="150.5" cy="344.1" r="2.75" fill="#6301cf"/>
<circle cx="507.3" cy="353.3" r="2.75" fill="#6301cf"/>
<circle cx="114.4" cy="350.7" r="2.75" fill="#7002ef"/>
<circle cx="521.8" cy="349.7" r="2.75" fill="#5c01ba"/>
<circle cx="528.9" cy="329.7" r="2.75" fill="#6401d3"/>
<circle cx="313.0" cy="370.0" r="2.75" fill="#9b0dbb"/>
<circle cx="428.9" cy="350.8" r="2.75" fill="#7903fc"/>
<circle cx="561.4" cy="72.3" r="2.75" fill="#520099"/>
<circle cx="430.9" cy="374.2" r="2.75" fill="#9b0dbc"/>
<circle cx="554.3" cy="200.3" r="2.75" fill="#4f0092"/>
<circle cx="387.3" cy="337.2" r="2.75" fill="#6401d2"/>
<circle cx="164.7" cy="354.3" r="2.75" fill="#8d07f0"/>
<circle cx="442.6" cy="324.6" r="2.75" fill="#520099"/>
<circle cx="216.1" cy="343.7" r="2.75" fill="#6301d0"/>
<circle cx="401.1" cy="341.3" r="2.75" fill="#5c01ba"/>
<circle cx="260.6" cy="369.0" r="2.75" fill="#b72300"/>
<circle cx="403.6" cy="334.0" r="2.75" fill="#510097"/>
<circle cx="231.5" cy="354.7" r="2.75" fill="#7102f1"/>
<circle cx="493.7" cy="347.4" r="2.75" fill="#7002ee"/>
<circle cx="335.1" cy="377.7" r="2.75" fill="#8405fd"/>
<circle cx="475.3" cy="373.9" r="2.75" fill="#7202f2"/>
<circle cx="264.1" cy="348.5" r="2.75" fill="#6e02eb"/>
<circle cx="367.0" cy="355.9" r="2.75" fill="#5d01bd"/>
<circle cx="140.5" cy="370.8" r="2.75" fill="#aa1755"/>
<circle cx="443.4" cy="348.3" r="2.75" fill="#7402f6"/>
<circle cx="414.5" cy="370.4" r="2.75" fill="#a41285"/>
<circle cx="547.1" cy="315.7" r="2.75" fill="#5f01c3"/>
<circle cx="363.8" cy="353.8" r="2.75" fill="#8706fb"/>
<circle cx="127.6" cy="346.9" r="2.75" fill="#6301cf"/>
<circle cx="354.9" cy="331.1" r="2.75" fill="#500095"/>
<circle cx="504.4" cy="375.3" r="2.75" fill="#7703fa"/>
<circle cx="140.1" cy="353.7" r="2.75" fill="#8706fb"/>
<circle cx="357.8" cy="339.9" r="2.75" fill="#4f0092"/>
<circle cx="368.5" cy="381.7" r="2.75" fill="#6f02ee"/>
<circle cx="522.7" cy="328.7" r="2.75" fill="#500094"/>
<circle cx="511.1" cy="353.0" r="2.75" fill="#7803fb"/>
<circle cx="543.5" cy="357.0" r="2.75" fill="#970bcc"/>
<circle cx="260.4" cy="374.7" r="2.75" fill="#7602f8"/>
<circle cx="563.2" cy="321.7" r="2.75" fill="#5e01c0"/>
<circle cx="406.2" cy="370.5" r="2.75" fill="#7c03fe"/>
<circle cx="494.5" cy="322.9" r="2.75" fill="#54009f"/>
<circle cx="554.7" cy="331.1" r="2.75" fill="#6401d3"/>
<circle cx="493.5" cy="330.6" r="2.75" fill="#5f01c2"/>
<circle cx="119.2" cy="349.2" r="2.75" fill="#6901de"/>
<circle cx="175.2" cy="382.8" r="2.75" fill="#6e02ea"/>
<circle cx="194.4" cy="376.0" r="2.75" fill="#7b03fe"/>
<circle cx="561.0" cy="376.1" r="2.75" fill="#8004ff"/>
<circle cx="524.3" cy="341.0" r="2.75" fill="#6a01e1"/>
<circle cx="505.5" cy="351.2" r="2.75" fill="#7402f6"/>
<circle cx="477.7" cy="355.0" r="2.75" fill="#940adb"/>
<circle cx="500.0" cy="295.0" r="2.75" fill="#4f0092"/>
<circle cx="565.2" cy="373.3" r="2.75" fill="#9008e7"/>
<circle cx="554.3" cy="271.2" r="2.75" fill="#4f0092"/>
<circle cx="125.5" cy="339.9" r="2.75" fill="#510096"/>
<circle cx="263.5" cy="332.6" r="2.75" fill="#500093"/>
<circle cx="210.0" cy="371.0" r="2.75" fill="#b01b29"/>
<circle cx="215.8" cy="353.5" r="2.75" fill="#7602f8"/>
<circle cx="115.2" cy="372.9" r="2.75" fill="#7b03fe"/>
<circle cx="305.3" cy="341.4" r="2.75" fill="#500095"/>
<circle cx="542.3" cy="249.6" r="2.75" fill="#4f0092"/>
<circle cx="531.4" cy="324.7" r="2.75" fill="#6501d3"/>
<circle cx="157.9" cy="357.0" r="2.75" fill="#8906f7"/>
<circle cx="338.5" cy="379.0" r="2.75" fill="#7a03fd"/>
<circle cx="170.6" cy="373.4" r="2.75" fill="#8f08e9"/>
<circle cx="213.2" cy="355.3" r="2.75" fill="#8505fc"/>
<circle cx="243.3" cy="378.2" r="2.75" fill="#7b03fe"/>
<circle cx="549.2" cy="377.5" r="2.75" fill="#7f04ff"/>
<circle cx="372.9" cy="330.2" r="2.75" fill="#5700aa"/>
<circle cx="416.0" cy="343.1" r="2.75" fill="#5b01b7"/>
<circle cx="541.5" cy="356.9" r="2.75" fill="#a61473"/>
<circle cx="491.7" cy="379.4" r="2.75" fill="#6901e0"/>
<circle cx="449.2" cy="353.2" r="2.75" fill="#7502f7"/>
<circle cx="485.7" cy="340.1" r="2.75" fill="#6801dc"/>
<circle cx="243.5" cy="351.8" r="2.75" fill="#7803fb"/>
<circle cx="487.8" cy="299.5" r="2.75" fill="#5900b1"/>
<circle cx="539.9" cy="315.3" r="2.75" fill="#6101ca"/>
<circle cx="125.4" cy="356.9" r="2.75" fill="#9c0db5"/>
<circle cx="128.5" cy="378.2" r="2.75" fill="#7f04ff"/>
<circle cx="494.4" cy="352.6" r="2.75" fill="#5500a3"/>
<circle cx="140.2" cy="369.8" r="2.75" fill="#b62100"/>
<circle cx="281.0" cy="353.8" r="2.75" fill="#8d07f0"/>
<circle cx="88.8" cy="370.9" r="2.75" fill="#950ad7"/>
<circle cx="100.8" cy="352.9" r="2.75" fill="#5f01c4"/>
<circle cx="552.2" cy="339.6" r="2.75" fill="#6a01e1"/>
<circle cx="561.4" cy="75.5" r="2.75" fill="#500093"/>
<circle cx="183.2" cy="339.9" r="2.75" fill="#500094"/>
<circle cx="544.7" cy="331.8" r="2.75" fill="#5900b2"/>
<circle cx="300.7" cy="382.8" r="2.75" fill="#6c02e7"/>
<circle cx="369.9" cy="347.8" r="2.75" fill="#7302f3"/>
<circle cx="330.3" cy="353.5" r="2.75" fill="#6201cc"/>
<circle cx="515.4" cy="230.0" r="2.75" fill="#500092"/>
<circle cx="474.1" cy="352.8" r="2.75" fill="#8906f8"/>
<circle cx="507.8" cy="373.3" r="2.75" fill="#8004ff"/>
<circle cx="217.1" cy="372.8" r="2.75" fill="#8405fe"/>
<circle cx="341.2" cy="383.6" r="2.75" fill="#6e02ea"/>
<circle cx="146.0" cy="381.9" r="2.75" fill="#6f02ee"/>
<circle cx="153.8" cy="358.9" r="2.75" fill="#7803fb"/>
<circle cx="118.2" cy="343.5" r="2.75" fill="#500093"/>
<circle cx="449.0" cy="344.5" r="2.75" fill="#6101c9"/>
<circle cx="234.8" cy="331.1" r="2.75" fill="#510097"/>
<circle cx="353.2" cy="373.7" r="2.75" fill="#6c02e7"/>
<circle cx="152.5" cy="356.4" r="2.75" fill="#9b0db8"/>
<circle cx="486.5" cy="203.1" r="2.75" fill="#500094"/>
<circle cx="257.5" cy="379.8" r="2.75" fill="#6f02ed"/>
<circle cx="544.3" cy="244.5" r="2.75" fill="#52009b"/>
<circle cx="419.0" cy="334.8" r="2.75" fill="#53009f"/>
<circle cx="426.5" cy="355.4" r="2.75" fill="#9d0eae"/>
<circle cx="374.7" cy="373.8" r="2.75" fill="#7c03fe"/>
<circle cx="379.6" cy="349.3" r="2.75" fill="#7502f7"/>
<circle cx="426.4" cy="337.5" r="2.75" fill="#5c01b9"/>
<circle cx="271.9" cy="376.7" r="2.75" fill="#7502f7"/>
<circle cx="186.4" cy="351.0" r="2.75" fill="#7d04ff"/>
<circle cx="200.3" cy="364.8" r="2.75" fill="#a3118b"/>
<circle cx="456.2" cy="314.6" r="2.75" fill="#500093"/>
<circle cx="317.1" cy="351.5" r="2.75" fill="#7002ef"/>
<circle cx="508.2" cy="369.7" r="2.75" fill="#7f04ff"/>
<circle cx="401.4" cy="375.3" r="2.75" fill="#7703f9"/>
<circle cx="256.4" cy="356.1" r="2.75" fill="#6501d4"/>
<circle cx="94.2" cy="356.4" r="2.75" fill="#7102f0"/>
<circle cx="308.2" cy="349.9" r="2.75" fill="#6901e0"/>
<circle cx="486.3" cy="332.8" r="2.75" fill="#6201cd"/>
<circle cx="508.1" cy="383.0" r="2.75" fill="#7302f4"/>
<circle cx="321.0" cy="354.0" r="2.75" fill="#7502f7"/>
<circle cx="384.0" cy="333.4" r="2.75" fill="#5e01c2"/>
<circle cx="420.5" cy="325.4" r="2.75" fill="#4f0092"/>
<circle cx="78.5" cy="368.6" r="2.75" fill="#cf4800"/>
<circle cx="233.2" cy="347.5" r="2.75" fill="#5600a6"/>
<circle cx="431.1" cy="338.0" r="2.75" fill="#5e01bf"/>
<circle cx="516.2" cy="206.9" r="2.75" fill="#500093"/>
<circle cx="350.0" cy="354.4" r="2.75" fill="#7a03fd"/>
<circle cx="164.0" cy="375.8" r="2.75" fill="#8b07f4"/>
<circle cx="304.4" cy="351.3" r="2.75" fill="#6c01e6"/>
<circle cx="526.9" cy="372.9" r="2.75" fill="#8205fe"/>
<circle cx="555.6" cy="377.9" r="2.75" fill="#6d02e8"/>
<circle cx="518.6" cy="353.3" r="2.75" fill="#510097"/>
<circle cx="411.2" cy="351.8" r="2.75" fill="#6501d4"/>
<circle cx="333.0" cy="339.9" r="2.75" fill="#52009b"/>
<circle cx="527.3" cy="351.4" r="2.75" fill="#6101ca"/>
<circle cx="121.8" cy="337.0" r="2.75" fill="#510097"/>
<circle cx="187.1" cy="358.3" r="2.75" fill="#b21e11"/>
<circle cx="485.9" cy="350.2" r="2.75" fill="#7202f3"/>
<circle cx="240.5" cy="373.3" r="2.75" fill="#6c01e6"/>
<circle cx="485.1" cy="379.6" r="2.75" fill="#8204ff"/>
<circle cx="166.5" cy="373.5" r="2.75" fill="#8104ff"/>
<circle cx="534.6" cy="291.2" r="2.75" fill="#52009a"/>
<circle cx="187.2" cy="360.5" r="2.75" fill="#ab184b"/>
<circle cx="563.5" cy="367.9" r="2.75" fill="#cf4900"/>
<circle cx="186.6" cy="358.1" r="2.75" fill="#5500a3"/>
<circle cx="114.4" cy="353.6" r="2.75" fill="#7d04ff"/>
<circle cx="422.7" cy="355.2" r="2.75" fill="#9008e9"/>
<circle cx="369.2" cy="372.1" r="2.75" fill="#6801dc"/>
<circle cx="134.6" cy="356.6" r="2.75" fill="#6f02ed"/>
<circle cx="202.8" cy="360.6" r="2.75" fill="#da6200"/>
<circle cx="134.9" cy="374.5" r="2.75" fill="#7803fb"/>
<circle cx="82.0" cy="368.6" r="2.75" fill="#8d07ef"/>
<circle cx="299.0" cy="344.0" r="2.75" fill="#5e01bf"/>
<circle cx="283.7" cy="349.5" r="2.75" fill="#7603f9"/>
<circle cx="360.0" cy="376.1" r="2.75" fill="#8004ff"/>
<circle cx="487.3" cy="377.6" r="2.75" fill="#7803fb"/>
<circle cx="542.0" cy="194.2" r="2.75" fill="#500094"/>
<circle cx="538.5" cy="163.9" r="2.75" fill="#52009a"/>
<circle cx="198.4" cy="353.3" r="2.75" fill="#7803fa"/>
<circle cx="477.6" cy="347.7" r="2.75" fill="#5c01ba"/>
<circle cx="487.8" cy="343.5" r="2.75" fill="#6501d3"/>
<circle cx="133.5" cy="373.5" r="2.75" fill="#7c03fe"/>
<circle cx="130.6" cy="349.9" r="2.75" fill="#5700aa"/>
<circle cx="290.0" cy="378.4" r="2.75" fill="#6d02ea"/>
<circle cx="279.9" cy="354.2" r="2.75" fill="#8b07f5"/>
<circle cx="216.6" cy="377.9" r="2.75" fill="#7202f2"/>
<circle cx="97.7" cy="335.5" r="2.75" fill="#510096"/>
<circle cx="540.5" cy="180.0" r="2.75" fill="#4f0092"/>
<circle cx="306.7" cy="376.5" r="2.75" fill="#6601d7"/>
<circle cx="297.8" cy="373.6" r="2.75" fill="#6601d8"/>
<circle cx="531.8" cy="373.4" r="2.75" fill="#9f0fa7"/>
<circle cx="388.9" cy="378.8" r="2.75" fill="#6f02ee"/>
<circle cx="488.8" cy="372.9" r="2.75" fill="#7c03fe"/>
<circle cx="286.1" cy="358.0" r="2.75" fill="#7a03fd"/>
<circle cx="445.4" cy="349.6" r="2.75" fill="#6401d3"/>
<circle cx="178.6" cy="380.0" r="2.75" fill="#6901df"/>
<circle cx="396.5" cy="354.9" r="2.75" fill="#7002ef"/>
<circle cx="471.8" cy="326.1" r="2.75" fill="#53009d"/>
<circle cx="111.9" cy="377.6" r="2.75" fill="#7903fc"/>
<circle cx="468.6" cy="377.2" r="2.75" fill="#8605fc"/>
<circle cx="355.3" cy="373.3" r="2.75" fill="#7a03fd"/>
<circle cx="504.3" cy="347.3" r="2.75" fill="#5500a3"/>
<circle cx="440.3" cy="342.8" r="2.75" fill="#5d01bc"/>
<circle cx="188.7" cy="349.2" r="2.75" fill="#5900b2"/>
<circle cx="509.9" cy="339.1" r="2.75" fill="#6001c6"/>
<circle cx="541.0" cy="383.4" r="2.75" fill="#7903fc"/>
<circle cx="243.0" cy="382.1" r="2.75" fill="#7502f8"/>
<circle cx="320.0" cy="373.1" r="2.75" fill="#7502f7"/>
<circle cx="548.8" cy="357.2" r="2.75" fill="#b01b29"/>
<circle cx="175.8" cy="352.7" r="2.75" fill="#5500a3"/>
<circle cx="275.9" cy="367.9" r="2.75" fill="#e07400"/>
<circle cx="108.9" cy="374.8" r="2.75" fill="#8505fd"/>
<circle cx="389.9" cy="347.1" r="2.75" fill="#6401d1"/>
<circle cx="244.1" cy="354.1" r="2.75" fill="#7f04ff"/>
<circle cx="128.3" cy="347.0" r="2.75" fill="#6601d8"/>
<circle cx="404.8" cy="380.5" r="2.75" fill="#6a01e2"/>
<circle cx="152.8" cy="378.1" r="2.75" fill="#7a03fd"/>
<circle cx="299.4" cy="379.9" r="2.75" fill="#7302f4"/>
<circle cx="293.3" cy="346.1" r="2.75" fill="#500095"/>
<circle cx="261.2" cy="344.0" r="2.75" fill="#6001c7"/>
<circle cx="214.0" cy="351.9" r="2.75" fill="#7803fb"/>
<circle cx="484.6" cy="377.6" r="2.75" fill="#7f04ff"/>
<circle cx="357.2" cy="377.5" r="2.75" fill="#7002ee"/>
<circle cx="545.1" cy="358.5" r="2.75" fill="#9a0cc1"/>
<circle cx="291.6" cy="351.1" r="2.75" fill="#6e02ec"/>
<circle cx="240.9" cy="377.6" r="2.75" fill="#7202f3"/>
<circle cx="496.6" cy="352.0" r="2.75" fill="#6401d3"/>
<circle cx="101.1" cy="348.4" r="2.75" fill="#6a01e1"/>
<circle cx="100.7" cy="343.1" r="2.75" fill="#510098"/>
<circle cx="287.9" cy="352.3" r="2.75" fill="#7c03fe"/>
<circle cx="141.0" cy="373.8" r="2.75" fill="#7c03fe"/>
<circle cx="309.0" cy="348.1" r="2.75" fill="#6501d4"/>
<circle cx="430.1" cy="346.0" r="2.75" fill="#6601d6"/>
<circle cx="405.2" cy="383.6" r="2.75" fill="#7102f1"/>
<circle cx="495.2" cy="336.6" r="2.75" fill="#6201cc"/>
<circle cx="136.0" cy="355.5" r="2.75" fill="#5b01b6"/>
<circle cx="490.5" cy="314.2" r="2.75" fill="#5c01bb"/>
<circle cx="336.1" cy="374.5" r="2.75" fill="#7102f1"/>
<circle cx="132.1" cy="380.2" r="2.75" fill="#7102f1"/>
<circle cx="425.5" cy="332.5" r="2.75" fill="#5c01b9"/>
<circle cx="160.9" cy="353.9" r="2.75" fill="#6c01e6"/>
<circle cx="314.1" cy="375.0" r="2.75" fill="#7502f7"/>
<circle cx="418.0" cy="302.3" r="2.75" fill="#500095"/>
<circle cx="529.7" cy="379.9" r="2.75" fill="#6c01e5"/>
<circle cx="162.5" cy="374.1" r="2.75" fill="#7502f7"/>
<circle cx="209.4" cy="355.6" r="2.75" fill="#8806fa"/>
<circle cx="273.7" cy="368.7" r="2.75" fill="#af1b2b"/>
<circle cx="216.7" cy="376.2" r="2.75" fill="#8906f7"/>
<circle cx="371.5" cy="351.5" r="2.75" fill="#7b03fe"/>
<circle cx="126.8" cy="377.8" r="2.75" fill="#8104ff"/>
<circle cx="302.0" cy="324.6" r="2.75" fill="#52009a"/>
<circle cx="295.2" cy="379.2" r="2.75" fill="#7803fa"/>
<circle cx="175.6" cy="377.7" r="2.75" fill="#7302f5"/>
<circle cx="545.1" cy="94.9" r="2.75" fill="#510098"/>
<circle cx="187.6" cy="370.7" r="2.75" fill="#7903fc"/>
<circle cx="375.2" cy="352.6" r="2.75" fill="#8605fb"/>
<circle cx="434.7" cy="350.1" r="2.75" fill="#5e01c1"/>
<circle cx="533.4" cy="206.2" r="2.75" fill="#510096"/>
<circle cx="250.0" cy="325.6" r="2.75" fill="#500094"/>
<circle cx="370.7" cy="352.7" r="2.75" fill="#6901e0"/>
<circle cx="260.4" cy="357.3" r="2.75" fill="#a31288"/>
<circle cx="352.3" cy="344.3" r="2.75" fill="#6401d1"/>
<circle cx="400.5" cy="353.2" r="2.75" fill="#7903fc"/>
<circle cx="187.5" cy="352.2" r="2.75" fill="#7c03fe"/>
<circle cx="327.9" cy="347.8" r="2.75" fill="#5f01c3"/>
<circle cx="506.6" cy="313.1" r="2.75" fill="#5d01bc"/>
<circle cx="312.6" cy="336.2" r="2.75" fill="#4f0091"/>
<circle cx="541.4" cy="360.5" r="2.75" fill="#cd4400"/>
<circle cx="122.7" cy="350.9" r="2.75" fill="#6201cb"/>
<circle cx="192.6" cy="349.6" r="2.75" fill="#6801de"/>
<circle cx="259.0" cy="360.0" r="2.75" fill="#a7146c"/>
<circle cx="565.0" cy="366.0" r="2.75" fill="#8706fa"/>
<circle cx="475.8" cy="357.8" r="2.75" fill="#9e0fa9"/>
<circle cx="413.2" cy="333.4" r="2.75" fill="#6201cc"/>
<circle cx="388.3" cy="378.9" r="2.75" fill="#7603f9"/>
<circle cx="362.9" cy="373.6" r="2.75" fill="#8204fe"/>
<circle cx="504.5" cy="371.5" r="2.75" fill="#ae1a37"/>
<circle cx="403.9" cy="355.9" r="2.75" fill="#a11096"/>
<circle cx="313.7" cy="350.3" r="2.75" fill="#6401d2"/>
<circle cx="368.7" cy="354.0" r="2.75" fill="#5f01c2"/>
<circle cx="426.0" cy="350.6" r="2.75" fill="#7602f8"/>
<circle cx="530.6" cy="354.5" r="2.75" fill="#8b07f5"/>
<circle cx="471.2" cy="284.2" r="2.75" fill="#52009a"/>
<circle cx="202.9" cy="375.7" r="2.75" fill="#8205fe"/>
<circle cx="337.6" cy="375.5" r="2.75" fill="#7402f5"/>
<circle cx="79.5" cy="368.1" r="2.75" fill="#c83b00"/>
<circle cx="310.2" cy="352.5" r="2.75" fill="#6c01e6"/>
<circle cx="514.7" cy="370.5" r="2.75" fill="#ba2700"/>
<circle cx="501.4" cy="350.8" r="2.75" fill="#7102f0"/>
<circle cx="551.3" cy="303.4" r="2.75" fill="#5a00b4"/>
<circle cx="526.3" cy="302.4" r="2.75" fill="#5d01bd"/>
<circle cx="361.2" cy="379.9" r="2.75" fill="#6e02ea"/>
<circle cx="551.0" cy="344.4" r="2.75" fill="#6801dd"/>
<circle cx="415.0" cy="370.2" r="2.75" fill="#8c07f1"/>
<circle cx="181.1" cy="342.1" r="2.75" fill="#52009b"/>
<circle cx="345.1" cy="347.4" r="2.75" fill="#5500a3"/>
<circle cx="323.6" cy="371.7" r="2.75" fill="#6901de"/>
<circle cx="271.2" cy="372.1" r="2.75" fill="#6b01e4"/>
<circle cx="517.9" cy="352.8" r="2.75" fill="#5b01b8"/>
<circle cx="401.3" cy="372.2" r="2.75" fill="#7803fb"/>
<circle cx="565.4" cy="133.5" r="2.75" fill="#510098"/>
<circle cx="163.9" cy="359.3" r="2.75" fill="#b72200"/>
<circle cx="398.6" cy="379.7" r="2.75" fill="#7202f2"/>
<circle cx="560.4" cy="312.3" r="2.75" fill="#6001c5"/>
<circle cx="370.5" cy="377.9" r="2.75" fill="#7502f7"/>
<circle cx="509.8" cy="368.5" r="2.75" fill="#9109e5"/>
<circle cx="296.6" cy="372.5" r="2.75" fill="#9f0fa2"/>
<circle cx="189.1" cy="330.0" r="2.75" fill="#4f0092"/>
<circle cx="529.1" cy="91.2" r="2.75" fill="#500093"/>
<circle cx="209.6" cy="380.3" r="2.75" fill="#7a03fd"/>
<circle cx="462.4" cy="371.1" r="2.75" fill="#a81565"/>
<circle cx="235.2" cy="356.3" r="2.75" fill="#9c0db4"/>
<circle cx="323.7" cy="373.9" r="2.75" fill="#970bcd"/>
<circle cx="266.1" cy="352.2" r="2.75" fill="#6401d3"/>
<circle cx="181.8" cy="352.3" r="2.75" fill="#6d02e8"/>
<circle cx="385.1" cy="331.1" r="2.75" fill="#5700a9"/>
<circle cx="341.0" cy="351.1" r="2.75" fill="#5c01bb"/>
<circle cx="266.5" cy="376.6" r="2.75" fill="#7102f1"/>
<circle cx="211.8" cy="378.0" r="2.75" fill="#7e04ff"/>
<circle cx="513.1" cy="275.0" r="2.75" fill="#500095"/>
<circle cx="235.3" cy="356.4" r="2.75" fill="#8b07f3"/>
<circle cx="278.0" cy="366.0" r="2.75" fill="#b52000"/>
<circle cx="158.3" cy="356.3" r="2.75" fill="#5a00b4"/>
<circle cx="493.3" cy="341.8" r="2.75" fill="#5d01be"/>
<circle cx="273.1" cy="358.0" r="2.75" fill="#6801dd"/>
<circle cx="340.7" cy="344.1" r="2.75" fill="#6301d0"/>
<circle cx="166.7" cy="380.0" r="2.75" fill="#7903fc"/>
<circle cx="443.6" cy="374.4" r="2.75" fill="#8e08ee"/>
<circle cx="468.9" cy="376.9" r="2.75" fill="#6b01e4"/>
<circle cx="499.4" cy="309.7" r="2.75" fill="#5900af"/>
<circle cx="522.3" cy="292.7" r="2.75" fill="#500093"/>
<circle cx="458.9" cy="371.7" r="2.75" fill="#6c01e7"/>
<circle cx="229.4" cy="381.0" r="2.75" fill="#6a01e2"/>
<circle cx="528.0" cy="324.1" r="2.75" fill="#5b01b8"/>
<circle cx="438.9" cy="354.5" r="2.75" fill="#7903fb"/>
<circle cx="547.5" cy="345.1" r="2.75" fill="#6601d9"/>
<circle cx="535.1" cy="343.1" r="2.75" fill="#5600a8"/>
<circle cx="547.4" cy="131.5" r="2.75" fill="#500095"/>
<circle cx="472.7" cy="377.0" r="2.75" fill="#8405fd"/>
<circle cx="351.9" cy="351.5" r="2.75" fill="#7903fc"/>
<circle cx="132.0" cy="369.6" r="2.75" fill="#7402f6"/>
<circle cx="463.1" cy="321.5" r="2.75" fill="#500094"/>
<circle cx="232.0" cy="373.3" r="2.75" fill="#980cc8"/>
<circle cx="331.9" cy="379.8" r="2.75" fill="#7502f7"/>
<circle cx="382.7" cy="372.7" r="2.75" fill="#8205fe"/>
<circle cx="403.7" cy="370.7" r="2.75" fill="#8e08ed"/>
<circle cx="302.6" cy="373.5" r="2.75" fill="#8a06f5"/>
<circle cx="154.6" cy="372.2" r="2.75" fill="#7e04ff"/>
<circle cx="183.1" cy="356.5" r="2.75" fill="#5900b1"/>
<circle cx="259.5" cy="374.6" r="2.75" fill="#7302f4"/>
<circle cx="452.7" cy="338.3" r="2.75" fill="#6201cb"/>
<circle cx="107.5" cy="344.6" r="2.75" fill="#5c01bb"/>
<circle cx="483.2" cy="310.6" r="2.75" fill="#5900b1"/>
<circle cx="352.0" cy="349.7" r="2.75" fill="#7903fc"/>
<circle cx="132.5" cy="358.2" r="2.75" fill="#9309dd"/>
<circle cx="387.6" cy="367.5" r="2.75" fill="#be2c00"/>
<circle cx="414.1" cy="381.1" r="2.75" fill="#7202f3"/>
<circle cx="456.0" cy="351.3" r="2.75" fill="#6201cb"/>
<circle cx="484.6" cy="315.4" r="2.75" fill="#5d01be"/>
<circle cx="380.0" cy="354.9" r="2.75" fill="#9309dc"/>
<circle cx="502.4" cy="359.9" r="2.75" fill="#9d0ead"/>
<circle cx="502.3" cy="372.6" r="2.75" fill="#7b03fd"/>
<circle cx="183.6" cy="368.3" r="2.75" fill="#d14d00"/>
<circle cx="129.1" cy="336.7" r="2.75" fill="#510098"/>
<circle cx="458.7" cy="377.4" r="2.75" fill="#8a06f6"/>
<circle cx="243.8" cy="343.9" r="2.75" fill="#5800af"/>
<circle cx="241.4" cy="344.4" r="2.75" fill="#53009e"/>
<circle cx="463.7" cy="380.0" r="2.75" fill="#6e02ea"/>
<circle cx="203.5" cy="361.8" r="2.75" fill="#960bd0"/>
<circle cx="97.0" cy="376.1" r="2.75" fill="#8706fb"/>
<circle cx="286.2" cy="355.4" r="2.75" fill="#6f02ee"/>
<circle cx="541.1" cy="200.8" r="2.75" fill="#510099"/>
<circle cx="235.4" cy="347.2" r="2.75" fill="#6201cd"/>
<circle cx="292.6" cy="356.2" r="2.75" fill="#6601d9"/>
<circle cx="246.7" cy="366.9" r="2.75" fill="#8e08ed"/>
<circle cx="210.3" cy="351.3" r="2.75" fill="#7903fc"/>
<circle cx="208.4" cy="369.2" r="2.75" fill="#bf2d00"/>
<circle cx="385.0" cy="371.1" r="2.75" fill="#6801dc"/>
<circle cx="379.5" cy="371.0" r="2.75" fill="#a11095"/>
<circle cx="274.2" cy="375.5" r="2.75" fill="#6d02e8"/>
<circle cx="446.4" cy="370.8" r="2.75" fill="#6a01e1"/>
<circle cx="141.3" cy="370.6" r="2.75" fill="#6601d8"/>
<circle cx="246.8" cy="348.2" r="2.75" fill="#6701da"/>
<circle cx="337.8" cy="374.3" r="2.75" fill="#8205fe"/>
<circle cx="558.2" cy="379.9" r="2.75" fill="#7e04ff"/>
<circle cx="136.5" cy="346.8" r="2.75" fill="#6a01e2"/>
<circle cx="503.5" cy="316.5" r="2.75" fill="#510095"/>
<circle cx="446.9" cy="356.4" r="2.75" fill="#8405fd"/>
<circle cx="313.2" cy="353.6" r="2.75" fill="#8d07f0"/>
<circle cx="151.2" cy="356.5" r="2.75" fill="#6f02ed"/>
<circle cx="345.6" cy="376.6" r="2.75" fill="#6901e0"/>
<circle cx="472.1" cy="375.9" r="2.75" fill="#7302f4"/>
<circle cx="433.3" cy="350.4" r="2.75" fill="#53009e"/>
<circle cx="299.0" cy="356.5" r="2.75" fill="#6c01e6"/>
<circle cx="524.6" cy="371.6" r="2.75" fill="#8104ff"/>
<circle cx="245.7" cy="361.4" r="2.75" fill="#7f04ff"/>
<circle cx="518.9" cy="213.5" r="2.75" fill="#52009a"/>
<circle cx="406.6" cy="368.2" r="2.75" fill="#e07400"/>
<circle cx="278.5" cy="365.3" r="2.75" fill="#da6400"/>
<circle cx="99.4" cy="377.1" r="2.75" fill="#6b01e4"/>
<circle cx="546.7" cy="309.8" r="2.75" fill="#5700ab"/>
<circle cx="196.0" cy="378.8" r="2.75" fill="#6f02ec"/>
<circle cx="220.5" cy="356.2" r="2.75" fill="#7202f2"/>
<circle cx="219.7" cy="351.8" r="2.75" fill="#8405fe"/>
<circle cx="551.6" cy="382.0" r="2.75" fill="#7302f4"/>
<circle cx="264.2" cy="376.5" r="2.75" fill="#8505fd"/>
<circle cx="374.7" cy="348.4" r="2.75" fill="#5400a2"/>
<circle cx="460.1" cy="351.3" r="2.75" fill="#7603f9"/>
<circle cx="104.5" cy="355.5" r="2.75" fill="#9f0fa4"/>
<circle cx="531.9" cy="367.8" r="2.75" fill="#ab174d"/>
<circle cx="81.8" cy="377.7" r="2.75" fill="#6801dd"/>
<circle cx="178.4" cy="355.6" r="2.75" fill="#7002f0"/>
<circle cx="206.4" cy="376.2" r="2.75" fill="#8906f8"/>
<circle cx="472.0" cy="347.7" r="2.75" fill="#6401d0"/>
<circle cx="210.1" cy="367.3" r="2.75" fill="#c23200"/>
<circle cx="488.5" cy="376.5" r="2.75" fill="#6a01e2"/>
<circle cx="475.0" cy="316.4" r="2.75" fill="#5b01b7"/>
<circle cx="442.2" cy="357.1" r="2.75" fill="#8806fa"/>
<circle cx="146.5" cy="348.7" r="2.75" fill="#6301cf"/>
<circle cx="364.7" cy="376.7" r="2.75" fill="#7202f2"/>
<circle cx="475.9" cy="351.3" r="2.75" fill="#5500a3"/>
<circle cx="420.4" cy="342.2" r="2.75" fill="#5e01bf"/>
<circle cx="381.3" cy="366.2" r="2.75" fill="#ab174d"/>
<circle cx="328.8" cy="356.7" r="2.75" fill="#a9165f"/>
<circle cx="388.2" cy="367.1" r="2.75" fill="#7302f3"/>
<circle cx="347.6" cy="318.4" r="2.75" fill="#510097"/>
<circle cx="450.8" cy="315.4" r="2.75" fill="#500093"/>
<circle cx="164.8" cy="369.7" r="2.75" fill="#bc2900"/>
<circle cx="85.4" cy="377.4" r="2.75" fill="#7e04ff"/>
<circle cx="282.1" cy="366.9" r="2.75" fill="#df7300"/>
<circle cx="144.2" cy="375.5" r="2.75" fill="#7f04ff"/>
<circle cx="490.6" cy="344.1" r="2.75" fill="#5600a8"/>
<circle cx="561.1" cy="334.0" r="2.75" fill="#6101ca"/>
<circle cx="516.5" cy="377.3" r="2.75" fill="#7502f7"/>
<circle cx="196.0" cy="355.0" r="2.75" fill="#7703fa"/>
<circle cx="251.2" cy="360.2" r="2.75" fill="#7102f0"/>
<circle cx="179.5" cy="345.7" r="2.75" fill="#6801dd"/>
<circle cx="216.8" cy="340.6" r="2.75" fill="#510097"/>
<circle cx="345.4" cy="369.8" r="2.75" fill="#940ad8"/>
<circle cx="210.4" cy="366.8" r="2.75" fill="#a21193"/>
<circle cx="502.9" cy="340.1" r="2.75" fill="#6a01e1"/>
<circle cx="103.2" cy="353.3" r="2.75" fill="#7a03fc"/>
<circle cx="428.9" cy="375.7" r="2.75" fill="#7402f5"/>
<circle cx="236.5" cy="346.8" r="2.75" fill="#6701db"/>
<circle cx="419.7" cy="356.5" r="2.75" fill="#6701da"/>
<circle cx="520.7" cy="354.5" r="2.75" fill="#8b07f3"/>
<circle cx="257.2" cy="354.2" r="2.75" fill="#7f04ff"/>
<circle cx="512.4" cy="377.2" r="2.75" fill="#7d03fe"/>
<circle cx="420.5" cy="373.3" r="2.75" fill="#940adc"/>
<circle cx="549.5" cy="358.7" r="2.75" fill="#c93d00"/>
<circle cx="456.8" cy="373.3" r="2.75" fill="#7502f7"/>
<circle cx="457.2" cy="355.1" r="2.75" fill="#7302f4"/>
<circle cx="277.7" cy="355.7" r="2.75" fill="#6901de"/>
<circle cx="454.4" cy="377.8" r="2.75" fill="#8104ff"/>
<circle cx="387.0" cy="385.9" r="2.75" fill="#6f02ec"/>
<circle cx="160.4" cy="344.3" r="2.75" fill="#5900b0"/>
<circle cx="285.8" cy="372.0" r="2.75" fill="#6f02ed"/>
<circle cx="531.1" cy="296.0" r="2.75" fill="#510097"/>
<circle cx="209.2" cy="375.8" r="2.75" fill="#7903fc"/>
<circle cx="508.2" cy="333.4" r="2.75" fill="#500094"/>
<circle cx="287.6" cy="350.8" r="2.75" fill="#7903fc"/>
<circle cx="464.6" cy="377.6" r="2.75" fill="#7502f8"/>
<circle cx="359.5" cy="353.7" r="2.75" fill="#6101ca"/>
<circle cx="429.0" cy="374.9" r="2.75" fill="#6901de"/>
<circle cx="529.4" cy="308.7" r="2.75" fill="#5f01c2"/>
<circle cx="365.4" cy="377.1" r="2.75" fill="#8405fe"/>
<circle cx="394.8" cy="338.2" r="2.75" fill="#6501d4"/>
<circle cx="204.8" cy="366.1" r="2.75" fill="#d14e00"/>
<circle cx="478.6" cy="350.0" r="2.75" fill="#7b03fd"/>
<circle cx="181.3" cy="356.1" r="2.75" fill="#7c03fe"/>
<circle cx="270.4" cy="355.8" r="2.75" fill="#9b0dba"/>
<circle cx="189.3" cy="369.4" r="2.75" fill="#970bcd"/>
<circle cx="559.9" cy="358.2" r="2.75" fill="#ab174e"/>
<circle cx="536.8" cy="328.0" r="2.75" fill="#6001c6"/>
<circle cx="288.2" cy="376.0" r="2.75" fill="#8d07ef"/>
<circle cx="425.4" cy="375.3" r="2.75" fill="#8f08ea"/>
<circle cx="290.2" cy="372.9" r="2.75" fill="#6b01e4"/>
<circle cx="304.2" cy="376.1" r="2.75" fill="#7002ef"/>
<circle cx="356.8" cy="372.4" r="2.75" fill="#a3118d"/>
<circle cx="412.0" cy="382.7" r="2.75" fill="#7202f2"/>
<circle cx="398.0" cy="316.2" r="2.75" fill="#52009b"/>
<circle cx="188.6" cy="365.2" r="2.75" fill="#aa1658"/>
<circle cx="208.4" cy="364.0" r="2.75" fill="#eca100"/>
<circle cx="270.9" cy="353.8" r="2.75" fill="#5500a4"/>
<circle cx="349.4" cy="355.8" r="2.75" fill="#8505fd"/>
<circle cx="148.6" cy="355.6" r="2.75" fill="#7502f7"/>
<circle cx="496.6" cy="343.8" r="2.75" fill="#5b01b5"/>
<circle cx="199.3" cy="376.6" r="2.75" fill="#8204fe"/>
<circle cx="372.7" cy="383.9" r="2.75" fill="#7402f6"/>
<circle cx="254.7" cy="372.9" r="2.75" fill="#7803fb"/>
<circle cx="299.7" cy="357.2" r="2.75" fill="#6f02ec"/>
<circle cx="144.9" cy="352.6" r="2.75" fill="#6a01e2"/>
<circle cx="547.1" cy="382.3" r="2.75" fill="#7002ef"/>
<circle cx="407.5" cy="344.9" r="2.75" fill="#5500a5"/>
<circle cx="285.4" cy="358.6" r="2.75" fill="#6001c5"/>
<circle cx="550.5" cy="355.0" r="2.75" fill="#6801dc"/>
<circle cx="520.5" cy="232.7" r="2.75" fill="#52009a"/>
<circle cx="556.2" cy="155.3" r="2.75" fill="#520099"/>
<circle cx="378.0" cy="355.5" r="2.75" fill="#7502f7"/>
<circle cx="354.1" cy="368.8" r="2.75" fill="#cd4500"/>
<circle cx="189.0" cy="351.1" r="2.75" fill="#7803fb"/>
<circle cx="434.5" cy="380.2" r="2.75" fill="#7903fc"/>
<circle cx="520.2" cy="370.7" r="2.75" fill="#6e02eb"/>
<circle cx="561.9" cy="370.3" r="2.75" fill="#940adb"/>
<circle cx="491.1" cy="328.7" r="2.75" fill="#6101c9"/>
<circle cx="96.7" cy="345.4" r="2.75" fill="#5f01c2"/>
<circle cx="85.4" cy="376.4" r="2.75" fill="#6f02ec"/>
<circle cx="319.0" cy="376.4" r="2.75" fill="#6e02eb"/>
<circle cx="564.7" cy="353.0" r="2.75" fill="#7202f3"/>
<circle cx="538.1" cy="381.5" r="2.75" fill="#7302f4"/>
<circle cx="307.0" cy="371.2" r="2.75" fill="#9209e0"/>
<circle cx="468.7" cy="355.7" r="2.75" fill="#7903fc"/>
<circle cx="525.4" cy="315.8" r="2.75" fill="#510098"/>
<circle cx="501.9" cy="376.2" r="2.75" fill="#7c03fe"/>
<circle cx="465.8" cy="331.8" r="2.75" fill="#5e01bf"/>
<circle cx="221.6" cy="366.2" r="2.75" fill="#b82400"/>
<circle cx="511.6" cy="347.5" r="2.75" fill="#7002ee"/>
<circle cx="399.3" cy="341.7" r="2.75" fill="#5500a3"/>
<circle cx="523.1" cy="374.8" r="2.75" fill="#8d07ef"/>
<circle cx="351.3" cy="374.3" r="2.75" fill="#9309df"/>
<circle cx="417.0" cy="369.4" r="2.75" fill="#6c01e6"/>
<circle cx="198.6" cy="359.3" r="2.75" fill="#d85f00"/>
<circle cx="493.7" cy="339.7" r="2.75" fill="#5f01c5"/>
<circle cx="385.1" cy="321.8" r="2.75" fill="#520099"/>
<circle cx="189.1" cy="373.1" r="2.75" fill="#6a01e1"/>
<circle cx="202.1" cy="355.3" r="2.75" fill="#5500a5"/>
<circle cx="558.5" cy="270.8" r="2.75" fill="#500095"/>
<circle cx="409.7" cy="359.8" r="2.75" fill="#da6300"/>
<circle cx="390.2" cy="377.7" r="2.75" fill="#8605fb"/>
<circle cx="371.2" cy="379.2" r="2.75" fill="#7c03fe"/>
<circle cx="472.2" cy="331.3" r="2.75" fill="#5700a9"/>
<circle cx="315.8" cy="352.3" r="2.75" fill="#6e02eb"/>
<circle cx="316.6" cy="368.5" r="2.75" fill="#a61377"/>
<circle cx="387.1" cy="354.2" r="2.75" fill="#8e08ed"/>
<circle cx="300.2" cy="357.9" r="2.75" fill="#a51280"/>
<circle cx="201.4" cy="377.4" r="2.75" fill="#7f04ff"/>
<circle cx="227.7" cy="369.5" r="2.75" fill="#a5137a"/>
<circle cx="300.7" cy="369.5" r="2.75" fill="#7602f8"/>
<circle cx="107.8" cy="356.4" r="2.75" fill="#a7146f"/>
<circle cx="559.3" cy="368.5" r="2.75" fill="#c33200"/>
<circle cx="359.3" cy="330.4" r="2.75" fill="#520099"/>
<circle cx="489.3" cy="354.2" r="2.75" fill="#6d02e9"/>
<circle cx="536.3" cy="340.0" r="2.75" fill="#5d01bc"/>
<circle cx="142.9" cy="377.4" r="2.75" fill="#6c01e6"/>
<circle cx="384.4" cy="355.5" r="2.75" fill="#6301d0"/>
<circle cx="560.9" cy="324.8" r="2.75" fill="#5600a6"/>
<circle cx="96.4" cy="358.4" r="2.75" fill="#7e04ff"/>
<circle cx="149.8" cy="357.9" r="2.75" fill="#a7146d"/>
<circle cx="161.2" cy="341.4" r="2.75" fill="#510096"/>
<circle cx="249.6" cy="351.2" r="2.75" fill="#6001c7"/>
<circle cx="162.5" cy="382.1" r="2.75" fill="#6c01e6"/>
<circle cx="227.9" cy="357.9" r="2.75" fill="#7002ee"/>
<circle cx="547.9" cy="300.6" r="2.75" fill="#5400a2"/>
<circle cx="496.2" cy="372.9" r="2.75" fill="#6301ce"/>
<circle cx="388.2" cy="356.4" r="2.75" fill="#8505fd"/>
<circle cx="558.3" cy="348.7" r="2.75" fill="#53009e"/>
<circle cx="245.2" cy="375.5" r="2.75" fill="#6601d8"/>
<circle cx="502.9" cy="354.8" r="2.75" fill="#8405fd"/>
<circle cx="182.5" cy="350.9" r="2.75" fill="#6601d6"/>
<circle cx="490.0" cy="276.1" r="2.75" fill="#500095"/>
<circle cx="226.1" cy="373.2" r="2.75" fill="#7903fc"/>
<circle cx="314.2" cy="368.3" r="2.75" fill="#8305fe"/>
<circle cx="114.7" cy="369.2" r="2.75" fill="#a3118c"/>
<circle cx="554.6" cy="90.3" r="2.75" fill="#500092"/>
<circle cx="426.1" cy="357.6" r="2.75" fill="#950ad7"/>
<circle cx="145.3" cy="370.2" r="2.75" fill="#b82400"/>
<circle cx="352.7" cy="370.9" r="2.75" fill="#8e08ec"/>
<circle cx="531.8" cy="195.7" r="2.75" fill="#500093"/>
<circle cx="197.8" cy="356.4" r="2.75" fill="#8104ff"/>
<circle cx="87.9" cy="369.0" r="2.75" fill="#c02f00"/>
<circle cx="225.4" cy="379.7" r="2.75" fill="#6a01e1"/>
<circle cx="280.8" cy="364.6" r="2.75" fill="#8004ff"/>
<circle cx="87.5" cy="368.2" r="2.75" fill="#db6600"/>
<circle cx="112.8" cy="356.5" r="2.75" fill="#a7146b"/>
<circle cx="353.2" cy="384.5" r="2.75" fill="#7202f3"/>
<circle cx="542.6" cy="346.2" r="2.75" fill="#5e01c2"/>
<circle cx="253.9" cy="376.6" r="2.75" fill="#7202f3"/>
<circle cx="543.5" cy="383.7" r="2.75" fill="#7602f8"/>
<circle cx="196.0" cy="360.2" r="2.75" fill="#990cc6"/>
<circle cx="508.0" cy="360.2" r="2.75" fill="#9a0cbf"/>
<circle cx="551.4" cy="367.2" r="2.75" fill="#ab174d"/>
<circle cx="400.7" cy="346.7" r="2.75" fill="#6c01e6"/>
<circle cx="240.4" cy="344.1" r="2.75" fill="#5d01bc"/>
<circle cx="499.4" cy="357.6" r="2.75" fill="#b62200"/>
<circle cx="412.7" cy="370.0" r="2.75" fill="#b52100"/>
<circle cx="180.9" cy="367.8" r="2.75" fill="#990cc4"/>
<circle cx="408.5" cy="368.8" r="2.75" fill="#cd4500"/>
<circle cx="147.9" cy="375.0" r="2.75" fill="#8f08eb"/>
<circle cx="102.2" cy="370.5" r="2.75" fill="#6801db"/>
<circle cx="482.1" cy="380.6" r="2.75" fill="#7b03fd"/>
<circle cx="239.5" cy="357.1" r="2.75" fill="#5f01c4"/>
<circle cx="431.4" cy="378.8" r="2.75" fill="#7a03fd"/>
<circle cx="409.2" cy="373.9" r="2.75" fill="#7703fa"/>
<circle cx="301.7" cy="359.8" r="2.75" fill="#b62200"/>
<circle cx="483.9" cy="320.0" r="2.75" fill="#52009b"/>
<circle cx="218.6" cy="371.0" r="2.75" fill="#9f0fa6"/>
<circle cx="552.3" cy="259.6" r="2.75" fill="#4f0091"/>
<circle cx="78.7" cy="360.5" r="2.75" fill="#c23200"/>
<circle cx="391.6" cy="354.0" r="2.75" fill="#6d02e8"/>
<circle cx="419.2" cy="305.7" r="2.75" fill="#520099"/>
<circle cx="251.2" cy="350.9" r="2.75" fill="#7c03fe"/>
<circle cx="540.5" cy="299.8" r="2.75" fill="#5c01bb"/>
<circle cx="402.5" cy="335.9" r="2.75" fill="#6101c8"/>
<circle cx="300.1" cy="351.4" r="2.75" fill="#6a01e1"/>
<circle cx="195.8" cy="359.1" r="2.75" fill="#5d01bd"/>
<circle cx="262.1" cy="328.2" r="2.75" fill="#520099"/>
<circle cx="438.8" cy="371.4" r="2.75" fill="#ac1846"/>
<circle cx="538.8" cy="375.5" r="2.75" fill="#7b03fd"/>
<circle cx="473.9" cy="383.6" r="2.75" fill="#7803fb"/>
<circle cx="387.9" cy="358.1" r="2.75" fill="#8004ff"/>
<circle cx="229.2" cy="330.4" r="2.75" fill="#520099"/>
<circle cx="389.2" cy="367.0" r="2.75" fill="#5f01c3"/>
<circle cx="339.1" cy="354.7" r="2.75" fill="#7d04fe"/>
<circle cx="120.1" cy="350.2" r="2.75" fill="#5d01be"/>
<circle cx="532.0" cy="340.9" r="2.75" fill="#5b01b8"/>
<circle cx="344.7" cy="368.5" r="2.75" fill="#d85d00"/>
<circle cx="343.9" cy="353.3" r="2.75" fill="#7002ef"/>
<circle cx="199.9" cy="351.0" r="2.75" fill="#7b03fd"/>
<circle cx="533.3" cy="362.1" r="2.75" fill="#6201cb"/>
<circle cx="485.2" cy="375.4" r="2.75" fill="#7c03fe"/>
<circle cx="330.6" cy="376.3" r="2.75" fill="#7102f0"/>
<circle cx="123.6" cy="374.8" r="2.75" fill="#7a03fd"/>
<circle cx="292.7" cy="374.4" r="2.75" fill="#6701d9"/>
<circle cx="114.1" cy="370.8" r="2.75" fill="#7903fc"/>
<circle cx="550.0" cy="225.4" r="2.75" fill="#500093"/>
<circle cx="454.4" cy="384.1" r="2.75" fill="#7502f7"/>
<circle cx="194.7" cy="345.4" r="2.75" fill="#6601d6"/>
<circle cx="276.8" cy="365.8" r="2.75" fill="#c73a00"/>
<circle cx="464.0" cy="370.1" r="2.75" fill="#7b03fe"/>
<circle cx="129.6" cy="376.1" r="2.75" fill="#7e04ff"/>
<circle cx="555.5" cy="353.8" r="2.75" fill="#6401d1"/>
<circle cx="447.7" cy="355.9" r="2.75" fill="#8c07f2"/>
<circle cx="340.0" cy="374.3" r="2.75" fill="#8706fb"/>
<circle cx="423.3" cy="378.1" r="2.75" fill="#8405fd"/>
<circle cx="486.9" cy="348.9" r="2.75" fill="#7002ef"/>
<circle cx="311.0" cy="371.5" r="2.75" fill="#940ad9"/>
<circle cx="322.8" cy="350.8" r="2.75" fill="#6a01e2"/>
<circle cx="121.7" cy="380.4" r="2.75" fill="#6d02e8"/>
<circle cx="86.2" cy="352.4" r="2.75" fill="#7b03fd"/>
<circle cx="207.8" cy="378.5" r="2.75" fill="#7202f2"/>
<circle cx="333.4" cy="357.2" r="2.75" fill="#7803fb"/>
<circle cx="485.5" cy="351.6" r="2.75" fill="#6b01e5"/>
<circle cx="498.8" cy="354.6" r="2.75" fill="#7302f4"/>
<circle cx="558.5" cy="197.7" r="2.75" fill="#4f0091"/>
<circle cx="395.3" cy="346.7" r="2.75" fill="#5f01c3"/>
<circle cx="325.4" cy="351.3" r="2.75" fill="#53009d"/>
<circle cx="264.8" cy="351.5" r="2.75" fill="#7c03fe"/>
<circle cx="116.4" cy="357.8" r="2.75" fill="#7602f8"/>
<circle cx="262.9" cy="336.2" r="2.75" fill="#510096"/>
<circle cx="363.1" cy="351.8" r="2.75" fill="#7102f1"/>
<circle cx="565.5" cy="363.5" r="2.75" fill="#a7146c"/>
<circle cx="135.6" cy="368.6" r="2.75" fill="#8004ff"/>
<circle cx="436.0" cy="362.0" r="2.75" fill="#7102f1"/>
<circle cx="436.5" cy="372.7" r="2.75" fill="#7603f9"/>
<circle cx="256.3" cy="360.4" r="2.75" fill="#e37f00"/>
<circle cx="488.8" cy="300.2" r="2.75" fill="#510099"/>
<circle cx="540.2" cy="353.4" r="2.75" fill="#5c01bb"/>
<circle cx="134.4" cy="368.3" r="2.75" fill="#7402f6"/>
<circle cx="391.6" cy="339.9" r="2.75" fill="#5400a2"/>
<circle cx="496.0" cy="345.2" r="2.75" fill="#6701da"/>
<circle cx="192.5" cy="368.1" r="2.75" fill="#7a03fd"/>
<circle cx="354.3" cy="352.3" r="2.75" fill="#6f02ec"/>
<circle cx="185.3" cy="356.9" r="2.75" fill="#5d01be"/>
<circle cx="385.2" cy="370.1" r="2.75" fill="#970bce"/>
<circle cx="493.3" cy="377.2" r="2.75" fill="#7b03fd"/>
<circle cx="243.0" cy="378.1" r="2.75" fill="#7102f0"/>
<circle cx="316.0" cy="373.9" r="2.75" fill="#940ad9"/>
<circle cx="232.1" cy="363.4" r="2.75" fill="#7903fc"/>
<circle cx="387.1" cy="339.2" r="2.75" fill="#6101c8"/>
<circle cx="136.3" cy="368.2" r="2.75" fill="#b62200"/>
<circle cx="399.5" cy="355.9" r="2.75" fill="#8505fd"/>
<circle cx="340.5" cy="351.4" r="2.75" fill="#8004ff"/>
<circle cx="223.6" cy="369.8" r="2.75" fill="#a81569"/>
<circle cx="552.9" cy="346.4" r="2.75" fill="#6801dd"/>
<circle cx="408.2" cy="286.2" r="2.75" fill="#500095"/>
<circle cx="482.2" cy="375.6" r="2.75" fill="#8104ff"/>
<circle cx="512.1" cy="299.3" r="2.75" fill="#5700a9"/>
<circle cx="107.9" cy="349.5" r="2.75" fill="#6101ca"/>
<circle cx="564.2" cy="357.0" r="2.75" fill="#960bd0"/>
<circle cx="403.5" cy="370.3" r="2.75" fill="#ba2700"/>
<circle cx="430.9" cy="356.1" r="2.75" fill="#7803fb"/>
<circle cx="257.6" cy="376.5" r="2.75" fill="#8104ff"/>
<circle cx="425.9" cy="334.5" r="2.75" fill="#5900af"/>
<circle cx="277.4" cy="356.7" r="2.75" fill="#5a01b5"/>
<circle cx="252.6" cy="377.3" r="2.75" fill="#8004ff"/>
<circle cx="135.8" cy="366.6" r="2.75" fill="#8c07f1"/>
<circle cx="468.3" cy="350.9" r="2.75" fill="#5600a7"/>
<circle cx="150.5" cy="370.8" r="2.75" fill="#ab184b"/>
<circle cx="141.0" cy="352.1" r="2.75" fill="#8204ff"/>
<circle cx="559.8" cy="341.8" r="2.75" fill="#6301d0"/>
<circle cx="126.5" cy="369.2" r="2.75" fill="#7a03fd"/>
<circle cx="186.4" cy="353.5" r="2.75" fill="#6e02eb"/>
<circle cx="558.9" cy="354.6" r="2.75" fill="#6401d2"/>
<circle cx="556.7" cy="370.6" r="2.75" fill="#7402f6"/>
<circle cx="418.1" cy="356.2" r="2.75" fill="#7202f3"/>
<circle cx="141.9" cy="381.3" r="2.75" fill="#6d02e9"/>
<circle cx="486.3" cy="357.0" r="2.75" fill="#af1b2d"/>
<circle cx="464.6" cy="369.4" r="2.75" fill="#a61472"/>
<circle cx="346.1" cy="340.6" r="2.75" fill="#52009a"/>
<circle cx="466.3" cy="357.7" r="2.75" fill="#ab174e"/>
<circle cx="170.1" cy="360.9" r="2.75" fill="#e17700"/>
<circle cx="404.7" cy="374.6" r="2.75" fill="#8c07f1"/>
<circle cx="363.8" cy="358.3" r="2.75" fill="#b92600"/>
<circle cx="502.6" cy="369.3" r="2.75" fill="#940adb"/>
<circle cx="488.2" cy="372.7" r="2.75" fill="#9c0db8"/>
<circle cx="208.6" cy="352.9" r="2.75" fill="#500094"/>
<circle cx="207.6" cy="358.1" r="2.75" fill="#6001c5"/>
<circle cx="545.4" cy="341.0" r="2.75" fill="#6601d7"/>
<circle cx="417.0" cy="357.2" r="2.75" fill="#6d02e9"/>
<circle cx="238.2" cy="352.4" r="2.75" fill="#510096"/>
<circle cx="496.9" cy="381.2" r="2.75" fill="#7502f7"/>
<circle cx="415.5" cy="378.7" r="2.75" fill="#7e04ff"/>
<circle cx="150.4" cy="351.0" r="2.75" fill="#6c01e6"/>
<circle cx="193.7" cy="371.9" r="2.75" fill="#7c03fe"/>
<circle cx="291.2" cy="357.7" r="2.75" fill="#8b07f4"/>
<circle cx="538.9" cy="298.9" r="2.75" fill="#500094"/>
<circle cx="522.6" cy="356.1" r="2.75" fill="#8305fe"/>
<circle cx="443.5" cy="360.0" r="2.75" fill="#ca3f00"/>
<circle cx="132.2" cy="348.1" r="2.75" fill="#6101ca"/>
<circle cx="317.5" cy="355.3" r="2.75" fill="#980bc9"/>
<circle cx="272.8" cy="370.7" r="2.75" fill="#a81565"/>
<circle cx="124.6" cy="375.8" r="2.75" fill="#7b03fd"/>
<circle cx="496.4" cy="376.5" r="2.75" fill="#7e04ff"/>
<circle cx="436.0" cy="356.0" r="2.75" fill="#9209e2"/>
<circle cx="353.7" cy="350.5" r="2.75" fill="#6f02ec"/>
<circle cx="294.3" cy="368.8" r="2.75" fill="#7703fa"/>
<circle cx="88.8" cy="352.2" r="2.75" fill="#7c03fe"/>
<circle cx="235.0" cy="374.8" r="2.75" fill="#7b03fe"/>
<circle cx="224.4" cy="370.4" r="2.75" fill="#6a01e2"/>
<circle cx="328.2" cy="374.2" r="2.75" fill="#7b03fd"/>
<circle cx="291.5" cy="370.8" r="2.75" fill="#8d07f0"/>
<circle cx="398.8" cy="366.5" r="2.75" fill="#c43500"/>
<circle cx="477.1" cy="383.6" r="2.75" fill="#7202f3"/>
<circle cx="534.3" cy="100.5" r="2.75" fill="#500094"/>
<circle cx="391.5" cy="370.8" r="2.75" fill="#8104ff"/>
<circle cx="332.1" cy="373.4" r="2.75" fill="#7202f3"/>
<circle cx="92.7" cy="370.7" r="2.75" fill="#8906f7"/>
<circle cx="315.8" cy="357.7" r="2.75" fill="#53009e"/>
<circle cx="454.8" cy="337.1" r="2.75" fill="#5800ac"/>
<circle cx="409.6" cy="368.2" r="2.75" fill="#e38100"/>
<circle cx="89.9" cy="355.2" r="2.75" fill="#960bd1"/>
<circle cx="295.9" cy="355.6" r="2.75" fill="#8706fb"/>
<circle cx="92.9" cy="357.4" r="2.75" fill="#a8146a"/>
<circle cx="241.0" cy="368.5" r="2.75" fill="#940ad9"/>
<circle cx="544.3" cy="374.1" r="2.75" fill="#8e08ed"/>
<circle cx="557.9" cy="359.3" r="2.75" fill="#8706fa"/>
<circle cx="524.3" cy="380.7" r="2.75" fill="#7002ee"/>
<circle cx="505.1" cy="363.5" r="2.75" fill="#e89200"/>
<circle cx="513.2" cy="384.9" r="2.75" fill="#7402f6"/>
<circle cx="348.3" cy="379.8" r="2.75" fill="#6b01e3"/>
<circle cx="124.7" cy="363.0" r="2.75" fill="#5b01b6"/>
<circle cx="352.6" cy="363.3" r="2.75" fill="#e99500"/>
<circle cx="230.2" cy="368.8" r="2.75" fill="#6a01e3"/>
<circle cx="283.3" cy="362.1" r="2.75" fill="#e68900"/>
<circle cx="384.3" cy="369.1" r="2.75" fill="#8204ff"/>
<circle cx="535.4" cy="352.6" r="2.75" fill="#8605fc"/>
<circle cx="99.8" cy="366.2" r="2.75" fill="#b31e0c"/>
<circle cx="479.5" cy="379.2" r="2.75" fill="#7b03fd"/>
<circle cx="188.0" cy="350.7" r="2.75" fill="#6f02ed"/>
<circle cx="277.8" cy="348.5" r="2.75" fill="#6201cd"/>
<circle cx="541.7" cy="361.9" r="2.75" fill="#b31f0a"/>
<circle cx="519.8" cy="355.8" r="2.75" fill="#6d02e9"/>
<circle cx="450.6" cy="356.3" r="2.75" fill="#7a03fd"/>
<circle cx="94.5" cy="373.2" r="2.75" fill="#6301ce"/>
<circle cx="430.7" cy="351.1" r="2.75" fill="#6801dc"/>
<circle cx="358.5" cy="378.9" r="2.75" fill="#8305fe"/>
<circle cx="366.5" cy="358.6" r="2.75" fill="#6e02ec"/>
<circle cx="358.9" cy="381.5" r="2.75" fill="#7202f2"/>
<circle cx="79.2" cy="363.3" r="2.75" fill="#8505fc"/>
<circle cx="513.2" cy="354.1" r="2.75" fill="#9209e1"/>
<circle cx="530.6" cy="314.1" r="2.75" fill="#5f01c5"/>
<circle cx="543.6" cy="360.6" r="2.75" fill="#b52100"/>
<circle cx="515.7" cy="370.5" r="2.75" fill="#a5137a"/>
<circle cx="287.5" cy="362.5" r="2.75" fill="#8706fb"/>
<circle cx="391.0" cy="340.8" r="2.75" fill="#5600a8"/>
<circle cx="155.5" cy="366.8" r="2.75" fill="#ce4600"/>
<circle cx="282.5" cy="356.5" r="2.75" fill="#a21191"/>
<circle cx="313.1" cy="356.6" r="2.75" fill="#960ad3"/>
<circle cx="446.9" cy="348.7" r="2.75" fill="#7402f6"/>
<circle cx="442.8" cy="332.3" r="2.75" fill="#5700ac"/>
<circle cx="210.9" cy="370.6" r="2.75" fill="#7a03fd"/>
<circle cx="555.1" cy="356.3" r="2.75" fill="#aa165b"/>
<circle cx="426.8" cy="370.3" r="2.75" fill="#7002ee"/>
<circle cx="227.3" cy="364.9" r="2.75" fill="#a8156a"/>
<circle cx="118.7" cy="359.6" r="2.75" fill="#a81568"/>
<circle cx="186.3" cy="374.3" r="2.75" fill="#6c01e7"/>
<circle cx="559.7" cy="179.2" r="2.75" fill="#510098"/>
<circle cx="179.1" cy="348.9" r="2.75" fill="#6c01e7"/>
<circle cx="321.0" cy="326.8" r="2.75" fill="#510096"/>
<circle cx="346.9" cy="332.6" r="2.75" fill="#510096"/>
<circle cx="308.9" cy="379.8" r="2.75" fill="#7e04ff"/>
<circle cx="327.2" cy="330.4" r="2.75" fill="#4f0092"/>
<circle cx="523.8" cy="368.1" r="2.75" fill="#b31e0e"/>
<circle cx="375.2" cy="364.1" r="2.75" fill="#b11c21"/>
<circle cx="518.2" cy="284.2" r="2.75" fill="#52009a"/>
<circle cx="538.2" cy="339.6" r="2.75" fill="#6401d1"/>
<circle cx="225.2" cy="365.2" r="2.75" fill="#d04b00"/>
<circle cx="537.8" cy="361.5" r="2.75" fill="#8b07f4"/>
<circle cx="259.1" cy="369.1" r="2.75" fill="#b82400"/>
<circle cx="415.9" cy="354.3" r="2.75" fill="#8004ff"/>
<circle cx="405.8" cy="358.5" r="2.75" fill="#b92600"/>
<circle cx="312.0" cy="360.7" r="2.75" fill="#8906f8"/>
<circle cx="322.6" cy="377.7" r="2.75" fill="#7803fb"/>
<circle cx="429.6" cy="371.5" r="2.75" fill="#6a01e1"/>
<circle cx="260.4" cy="370.5" r="2.75" fill="#8305fe"/>
<circle cx="208.9" cy="355.3" r="2.75" fill="#8f08ec"/>
<circle cx="412.6" cy="368.7" r="2.75" fill="#d25000"/>
<circle cx="284.6" cy="377.2" r="2.75" fill="#6a01e3"/>
<circle cx="235.1" cy="378.1" r="2.75" fill="#7002ee"/>
<circle cx="402.8" cy="352.7" r="2.75" fill="#7b03fd"/>
<circle cx="360.1" cy="369.0" r="2.75" fill="#9008e6"/>
<circle cx="459.8" cy="382.5" r="2.75" fill="#7903fc"/>
<circle cx="194.2" cy="355.7" r="2.75" fill="#6701da"/>
<circle cx="102.9" cy="356.3" r="2.75" fill="#8405fe"/>
<circle cx="546.9" cy="276.5" r="2.75" fill="#52009a"/>
<circle cx="185.8" cy="357.0" r="2.75" fill="#7703fa"/>
<circle cx="80.9" cy="355.6" r="2.75" fill="#5a00b3"/>
<circle cx="551.2" cy="356.0" r="2.75" fill="#7302f4"/>
<circle cx="391.9" cy="371.5" r="2.75" fill="#a0109e"/>
<circle cx="511.9" cy="349.5" r="2.75" fill="#6401d1"/>
<circle cx="334.7" cy="359.5" r="2.75" fill="#7002ee"/>
<circle cx="519.3" cy="332.4" r="2.75" fill="#6601d8"/>
<circle cx="212.6" cy="357.0" r="2.75" fill="#8c07f2"/>
<circle cx="501.0" cy="308.0" r="2.75" fill="#5600a6"/>
<circle cx="81.7" cy="376.6" r="2.75" fill="#7603f9"/>
<circle cx="395.1" cy="363.4" r="2.75" fill="#9a0cc2"/>
<circle cx="511.4" cy="326.8" r="2.75" fill="#5a00b4"/>
<circle cx="117.0" cy="378.0" r="2.75" fill="#7e04ff"/>
<circle cx="208.6" cy="371.1" r="2.75" fill="#a31289"/>
<circle cx="82.0" cy="364.6" r="2.75" fill="#9109e5"/>
<circle cx="477.3" cy="357.7" r="2.75" fill="#8706fa"/>
<circle cx="363.6" cy="369.9" r="2.75" fill="#c13000"/>
<circle cx="507.9" cy="376.2" r="2.75" fill="#7f04ff"/>
<circle cx="126.1" cy="373.8" r="2.75" fill="#7202f2"/>
<circle cx="119.9" cy="359.3" r="2.75" fill="#bf2c00"/>
<circle cx="360.7" cy="354.9" r="2.75" fill="#500094"/>
<circle cx="429.7" cy="338.3" r="2.75" fill="#6301cf"/>
<circle cx="499.7" cy="351.1" r="2.75" fill="#7803fb"/>
<circle cx="170.2" cy="370.2" r="2.75" fill="#8f08eb"/>
<circle cx="542.3" cy="381.0" r="2.75" fill="#7402f6"/>
<circle cx="513.8" cy="366.2" r="2.75" fill="#dd6c00"/>
<circle cx="507.1" cy="364.6" r="2.75" fill="#d14e00"/>
<circle cx="463.8" cy="354.0" r="2.75" fill="#6801dc"/>
<circle cx="174.7" cy="375.9" r="2.75" fill="#7602f8"/>
<circle cx="122.1" cy="355.2" r="2.75" fill="#9008e6"/>
<circle cx="83.7" cy="366.3" r="2.75" fill="#bf2d00"/>
<circle cx="550.4" cy="352.1" r="2.75" fill="#6701db"/>
<circle cx="560.0" cy="368.0" r="2.75" fill="#6401d1"/>
<circle cx="195.6" cy="346.3" r="2.75" fill="#6c01e6"/>
<circle cx="484.8" cy="368.3" r="2.75" fill="#c53600"/>
<circle cx="280.9" cy="372.8" r="2.75" fill="#6e02eb"/>
<circle cx="249.5" cy="356.9" r="2.75" fill="#7302f4"/>
<circle cx="379.6" cy="368.9" r="2.75" fill="#a61472"/>
<circle cx="318.6" cy="366.0" r="2.75" fill="#c83b00"/>
<circle cx="437.1" cy="358.0" r="2.75" fill="#bd2b00"/>
<circle cx="488.5" cy="368.4" r="2.75" fill="#9c0db6"/>
<circle cx="306.7" cy="324.6" r="2.75" fill="#510097"/>
<circle cx="462.8" cy="365.0" r="2.75" fill="#b92600"/>
<circle cx="492.6" cy="379.2" r="2.75" fill="#7402f6"/>
<circle cx="494.4" cy="351.0" r="2.75" fill="#7c03fe"/>
<circle cx="494.8" cy="370.7" r="2.75" fill="#b52000"/>
<circle cx="109.2" cy="370.3" r="2.75" fill="#8305fe"/>
<circle cx="97.2" cy="356.4" r="2.75" fill="#6f02ed"/>
<circle cx="303.9" cy="370.6" r="2.75" fill="#ac1848"/>
<circle cx="399.2" cy="362.1" r="2.75" fill="#d65800"/>
<circle cx="340.7" cy="366.3" r="2.75" fill="#c12f00"/>
<circle cx="557.4" cy="359.9" r="2.75" fill="#5600a6"/>
<circle cx="236.6" cy="370.9" r="2.75" fill="#8505fc"/>
<circle cx="291.1" cy="356.0" r="2.75" fill="#7402f5"/>
<circle cx="261.4" cy="364.2" r="2.75" fill="#8e07ee"/>
<circle cx="237.9" cy="372.4" r="2.75" fill="#9c0db7"/>
<circle cx="555.1" cy="329.0" r="2.75" fill="#6501d4"/>
<circle cx="338.8" cy="366.5" r="2.75" fill="#990cc6"/>
<circle cx="362.5" cy="368.9" r="2.75" fill="#d14e00"/>
<circle cx="551.4" cy="357.7" r="2.75" fill="#7903fc"/>
<circle cx="438.4" cy="352.3" r="2.75" fill="#6701d9"/>
<circle cx="378.1" cy="373.5" r="2.75" fill="#8405fd"/>
<circle cx="355.1" cy="367.7" r="2.75" fill="#d04b00"/>
<circle cx="545.9" cy="310.0" r="2.75" fill="#5e01c0"/>
<circle cx="363.1" cy="361.3" r="2.75" fill="#dc6800"/>
<circle cx="490.0" cy="374.9" r="2.75" fill="#9008e7"/>
<circle cx="205.5" cy="365.2" r="2.75" fill="#cf4800"/>
<circle cx="297.2" cy="358.2" r="2.75" fill="#6c02e7"/>
<circle cx="157.7" cy="358.8" r="2.75" fill="#a61376"/>
<circle cx="200.1" cy="371.0" r="2.75" fill="#6601d6"/>
<circle cx="519.7" cy="321.3" r="2.75" fill="#5500a4"/>
<circle cx="191.4" cy="356.0" r="2.75" fill="#a11097"/>
<circle cx="507.2" cy="350.4" r="2.75" fill="#6f02ec"/>
<circle cx="238.0" cy="374.1" r="2.75" fill="#8a06f7"/>
<circle cx="191.2" cy="365.5" r="2.75" fill="#b21e12"/>
<circle cx="443.2" cy="382.9" r="2.75" fill="#7502f7"/>
<circle cx="232.3" cy="356.9" r="2.75" fill="#9a0dbd"/>
<circle cx="138.6" cy="368.1" r="2.75" fill="#a31288"/>
<circle cx="307.3" cy="368.4" r="2.75" fill="#d75b00"/>
<circle cx="369.1" cy="348.6" r="2.75" fill="#7502f7"/>
<circle cx="340.4" cy="361.5" r="2.75" fill="#6701da"/>
<circle cx="356.2" cy="380.6" r="2.75" fill="#7d04ff"/>
<circle cx="83.5" cy="362.8" r="2.75" fill="#8d07f0"/>
<circle cx="342.7" cy="352.6" r="2.75" fill="#7402f6"/>
<circle cx="564.6" cy="362.3" r="2.75" fill="#a5137e"/>
<circle cx="171.6" cy="336.2" r="2.75" fill="#510096"/>
<circle cx="279.0" cy="348.9" r="2.75" fill="#6a01e1"/>
<circle cx="296.2" cy="381.6" r="2.75" fill="#7603f9"/>
<circle cx="373.6" cy="370.2" r="2.75" fill="#9a0cc2"/>
<circle cx="552.8" cy="344.9" r="2.75" fill="#5d01bd"/>
<circle cx="142.4" cy="359.4" r="2.75" fill="#7402f5"/>
<circle cx="225.1" cy="376.5" r="2.75" fill="#8104ff"/>
<circle cx="498.2" cy="354.5" r="2.75" fill="#8104ff"/>
<circle cx="528.2" cy="298.6" r="2.75" fill="#53009d"/>
<circle cx="180.0" cy="374.6" r="2.75" fill="#8c07f1"/>
<circle cx="334.4" cy="369.6" r="2.75" fill="#7002ef"/>
<circle cx="498.9" cy="358.5" r="2.75" fill="#9209e1"/>
<circle cx="224.6" cy="358.6" r="2.75" fill="#7903fc"/>
<circle cx="264.8" cy="355.8" r="2.75" fill="#6401d1"/>
<circle cx="371.6" cy="368.3" r="2.75" fill="#6701da"/>
<circle cx="557.2" cy="360.1" r="2.75" fill="#e88f00"/>
<circle cx="173.7" cy="369.7" r="2.75" fill="#a5137d"/>
<circle cx="491.4" cy="308.0" r="2.75" fill="#5700aa"/>
<circle cx="515.9" cy="367.9" r="2.75" fill="#d04c00"/>
<circle cx="167.0" cy="367.5" r="2.75" fill="#9a0cc0"/>
<circle cx="203.2" cy="358.7" r="2.75" fill="#a21094"/>
<circle cx="379.8" cy="357.8" r="2.75" fill="#8d07ef"/>
<circle cx="546.3" cy="378.5" r="2.75" fill="#6801de"/>
<circle cx="293.8" cy="365.1" r="2.75" fill="#be2c00"/>
<circle cx="157.3" cy="361.2" r="2.75" fill="#d75b00"/>
<circle cx="142.5" cy="360.2" r="2.75" fill="#df7300"/>
<circle cx="340.3" cy="372.4" r="2.75" fill="#7b03fe"/>
<circle cx="362.0" cy="349.4" r="2.75" fill="#6601d8"/>
<circle cx="436.3" cy="359.4" r="2.75" fill="#d75d00"/>
<circle cx="77.8" cy="377.4" r="2.75" fill="#7602f8"/>
<circle cx="234.5" cy="366.7" r="2.75" fill="#d65a00"/>
<circle cx="467.1" cy="372.3" r="2.75" fill="#8e08ec"/>
<circle cx="527.9" cy="346.0" r="2.75" fill="#6e02ea"/>
<circle cx="263.6" cy="366.4" r="2.75" fill="#db6500"/>
<circle cx="548.3" cy="326.8" r="2.75" fill="#6501d3"/>
<circle cx="502.1" cy="361.9" r="2.75" fill="#a11097"/>
<circle cx="362.9" cy="364.1" r="2.75" fill="#db6500"/>
<circle cx="289.7" cy="371.2" r="2.75" fill="#7f04ff"/>
<circle cx="349.1" cy="363.8" r="2.75" fill="#c93c00"/>
<circle cx="277.4" cy="372.9" r="2.75" fill="#7603f9"/>
<circle cx="378.4" cy="356.8" r="2.75" fill="#ae1a34"/>
<circle cx="460.2" cy="330.2" r="2.75" fill="#52009c"/>
<circle cx="112.3" cy="343.5" r="2.75" fill="#500094"/>
<circle cx="498.5" cy="356.9" r="2.75" fill="#ad1940"/>
<circle cx="532.9" cy="355.6" r="2.75" fill="#9f0fa6"/>
<circle cx="455.3" cy="373.6" r="2.75" fill="#970bce"/>
<circle cx="565.4" cy="178.8" r="2.75" fill="#510096"/>
<circle cx="214.9" cy="373.3" r="2.75" fill="#6d02e8"/>
<circle cx="108.7" cy="360.4" r="2.75" fill="#e48100"/>
<circle cx="177.0" cy="355.5" r="2.75" fill="#500095"/>
<circle cx="200.9" cy="352.9" r="2.75" fill="#8806f9"/>
<circle cx="427.0" cy="357.9" r="2.75" fill="#8b07f3"/>
<circle cx="184.9" cy="359.5" r="2.75" fill="#7d03fe"/>
<circle cx="324.9" cy="357.2" r="2.75" fill="#a81564"/>
<circle cx="89.9" cy="371.9" r="2.75" fill="#8004ff"/>
<circle cx="225.4" cy="380.7" r="2.75" fill="#7502f8"/>
<circle cx="553.1" cy="111.5" r="2.75" fill="#4f0091"/>
<circle cx="532.6" cy="333.4" r="2.75" fill="#500095"/>
<circle cx="171.6" cy="371.3" r="2.75" fill="#8405fd"/>
<circle cx="223.9" cy="358.4" r="2.75" fill="#980bca"/>
<circle cx="186.9" cy="333.3" r="2.75" fill="#4f0091"/>
<circle cx="309.0" cy="357.5" r="2.75" fill="#b31f09"/>
<circle cx="553.8" cy="356.4" r="2.75" fill="#6401d3"/>
<circle cx="443.9" cy="369.4" r="2.75" fill="#c43500"/>
<circle cx="183.6" cy="350.9" r="2.75" fill="#7202f2"/>
<circle cx="495.1" cy="359.3" r="2.75" fill="#c53500"/>
<circle cx="271.4" cy="370.6" r="2.75" fill="#9b0dbb"/>
<circle cx="412.9" cy="352.7" r="2.75" fill="#5f01c5"/>
<circle cx="494.7" cy="356.3" r="2.75" fill="#7f04ff"/>
<circle cx="108.4" cy="361.0" r="2.75" fill="#7e04ff"/>
<circle cx="437.7" cy="331.4" r="2.75" fill="#5e01c1"/>
<circle cx="526.2" cy="253.9" r="2.75" fill="#510096"/>
<circle cx="316.3" cy="367.6" r="2.75" fill="#7402f5"/>
<circle cx="395.6" cy="380.7" r="2.75" fill="#7602f8"/>
<circle cx="473.4" cy="366.8" r="2.75" fill="#ca4000"/>
<circle cx="409.2" cy="373.5" r="2.75" fill="#9e0eac"/>
<circle cx="123.9" cy="358.4" r="2.75" fill="#c33300"/>
<circle cx="129.0" cy="368.7" r="2.75" fill="#9e0eaa"/>
<circle cx="409.3" cy="350.2" r="2.75" fill="#6d02e8"/>
<circle cx="149.4" cy="367.7" r="2.75" fill="#b62200"/>
<circle cx="461.7" cy="356.1" r="2.75" fill="#a21193"/>
<circle cx="374.6" cy="380.7" r="2.75" fill="#7102f1"/>
<circle cx="393.0" cy="357.2" r="2.75" fill="#7a03fd"/>
<circle cx="329.9" cy="374.3" r="2.75" fill="#7603f9"/>
<circle cx="286.1" cy="370.3" r="2.75" fill="#a9165c"/>
<circle cx="531.3" cy="356.4" r="2.75" fill="#9c0db5"/>
<circle cx="563.7" cy="364.2" r="2.75" fill="#e58600"/>
<circle cx="559.9" cy="371.2" r="2.75" fill="#b52000"/>
<circle cx="418.2" cy="374.0" r="2.75" fill="#9008e9"/>
<circle cx="426.1" cy="374.0" r="2.75" fill="#970bcf"/>
<circle cx="240.2" cy="358.3" r="2.75" fill="#5900b2"/>
<circle cx="159.9" cy="348.3" r="2.75" fill="#7002ee"/>
<circle cx="116.0" cy="381.5" r="2.75" fill="#6d02ea"/>
<circle cx="495.8" cy="367.7" r="2.75" fill="#c53600"/>
<circle cx="501.7" cy="383.9" r="2.75" fill="#6d02e9"/>
<circle cx="230.7" cy="376.8" r="2.75" fill="#7703fa"/>
<circle cx="255.0" cy="359.6" r="2.75" fill="#6a01e1"/>
<circle cx="247.7" cy="345.6" r="2.75" fill="#5e01bf"/>
<circle cx="143.5" cy="379.4" r="2.75" fill="#6801dd"/>
<circle cx="469.2" cy="376.7" r="2.75" fill="#7202f3"/>
<circle cx="290.4" cy="375.7" r="2.75" fill="#8d07ef"/>
<circle cx="328.2" cy="346.5" r="2.75" fill="#6d02e8"/>
<circle cx="493.3" cy="350.7" r="2.75" fill="#7d04ff"/>
<circle cx="323.3" cy="356.4" r="2.75" fill="#8004ff"/>
<circle cx="356.7" cy="377.8" r="2.75" fill="#8706fb"/>
<circle cx="318.2" cy="357.9" r="2.75" fill="#ba2600"/>
<circle cx="535.4" cy="248.1" r="2.75" fill="#500093"/>
<circle cx="360.6" cy="345.5" r="2.75" fill="#5900b0"/>
<circle cx="304.6" cy="358.3" r="2.75" fill="#9309de"/>
<circle cx="225.3" cy="364.2" r="2.75" fill="#e27c00"/>
<circle cx="253.2" cy="355.2" r="2.75" fill="#8906f8"/>
<circle cx="323.3" cy="381.5" r="2.75" fill="#7703fa"/>
<circle cx="503.0" cy="360.3" r="2.75" fill="#5800ad"/>
<circle cx="222.0" cy="370.0" r="2.75" fill="#bb2800"/>
<circle cx="515.5" cy="343.9" r="2.75" fill="#6a01e0"/>
<circle cx="495.4" cy="382.8" r="2.75" fill="#7302f4"/>
<circle cx="563.2" cy="385.7" r="2.75" fill="#7202f2"/>
<circle cx="191.8" cy="349.0" r="2.75" fill="#7102f1"/>
<circle cx="547.8" cy="372.9" r="2.75" fill="#8d07f0"/>
<circle cx="170.0" cy="367.0" r="2.75" fill="#d75c00"/>
<circle cx="353.3" cy="368.7" r="2.75" fill="#bb2700"/>
<circle cx="109.5" cy="369.6" r="2.75" fill="#950ad5"/>
<circle cx="261.9" cy="356.8" r="2.75" fill="#ac1847"/>
<circle cx="351.6" cy="370.1" r="2.75" fill="#b82400"/>
<circle cx="232.1" cy="379.0" r="2.75" fill="#7e04ff"/>
<circle cx="94.2" cy="349.8" r="2.75" fill="#5500a5"/>
<circle cx="406.8" cy="353.2" r="2.75" fill="#8706fb"/>
<circle cx="384.9" cy="356.8" r="2.75" fill="#7e04ff"/>
<circle cx="345.9" cy="354.5" r="2.75" fill="#8f08eb"/>
<circle cx="469.0" cy="350.2" r="2.75" fill="#6801db"/>
<circle cx="306.1" cy="375.4" r="2.75" fill="#7e04ff"/>
<circle cx="155.3" cy="352.5" r="2.75" fill="#7002ee"/>
<circle cx="563.4" cy="366.7" r="2.75" fill="#dc6900"/>
<circle cx="160.0" cy="364.6" r="2.75" fill="#9a0dbd"/>
<circle cx="380.9" cy="374.4" r="2.75" fill="#8605fb"/>
<circle cx="359.9" cy="373.5" r="2.75" fill="#7a03fd"/>
<circle cx="535.4" cy="355.6" r="2.75" fill="#510098"/>
<circle cx="86.5" cy="364.5" r="2.75" fill="#9e0eaa"/>
<circle cx="226.7" cy="360.1" r="2.75" fill="#8e08ed"/>
<circle cx="477.2" cy="370.1" r="2.75" fill="#c02e00"/>
<circle cx="172.3" cy="353.4" r="2.75" fill="#7402f6"/>
<circle cx="500.3" cy="362.6" r="2.75" fill="#6b01e3"/>
<circle cx="553.7" cy="355.8" r="2.75" fill="#7502f7"/>
<circle cx="555.0" cy="376.9" r="2.75" fill="#8305fe"/>
<circle cx="270.6" cy="368.4" r="2.75" fill="#8806f9"/>
<circle cx="78.9" cy="360.6" r="2.75" fill="#950ad7"/>
<circle cx="154.4" cy="369.8" r="2.75" fill="#b42002"/>
<circle cx="238.7" cy="351.3" r="2.75" fill="#7a03fd"/>
<circle cx="463.1" cy="374.0" r="2.75" fill="#8d07ef"/>
<circle cx="83.9" cy="360.9" r="2.75" fill="#6601d7"/>
<circle cx="507.7" cy="363.7" r="2.75" fill="#ad1942"/>
<circle cx="513.3" cy="364.2" r="2.75" fill="#db6600"/>
<circle cx="84.4" cy="360.4" r="2.75" fill="#8a06f6"/>
<circle cx="262.9" cy="364.3" r="2.75" fill="#d14c00"/>
<circle cx="520.8" cy="358.6" r="2.75" fill="#c73900"/>
<circle cx="510.8" cy="357.9" r="2.75" fill="#a41285"/>
<circle cx="418.2" cy="331.6" r="2.75" fill="#5800ae"/>
<circle cx="555.8" cy="203.1" r="2.75" fill="#500093"/>
<circle cx="307.9" cy="345.3" r="2.75" fill="#5b01b8"/>
<circle cx="333.9" cy="353.2" r="2.75" fill="#8104ff"/>
<circle cx="134.1" cy="361.9" r="2.75" fill="#8c07f1"/>
<circle cx="365.9" cy="362.0" r="2.75" fill="#dc6900"/>
<circle cx="442.6" cy="347.6" r="2.75" fill="#5f01c4"/>
<circle cx="448.8" cy="357.5" r="2.75" fill="#5e01c1"/>
<circle cx="362.2" cy="373.1" r="2.75" fill="#970bcc"/>
<circle cx="511.1" cy="374.4" r="2.75" fill="#8405fd"/>
<circle cx="83.8" cy="352.8" r="2.75" fill="#8806f9"/>
<circle cx="439.4" cy="369.6" r="2.75" fill="#ac1847"/>
<circle cx="265.0" cy="358.8" r="2.75" fill="#bc2900"/>
<circle cx="193.6" cy="360.0" r="2.75" fill="#9209e0"/>
<circle cx="473.0" cy="359.0" r="2.75" fill="#8405fe"/>
<circle cx="552.0" cy="349.8" r="2.75" fill="#6001c7"/>
<circle cx="209.4" cy="360.0" r="2.75" fill="#9a0cc1"/>
<circle cx="515.5" cy="355.4" r="2.75" fill="#8405fe"/>
<circle cx="495.4" cy="360.7" r="2.75" fill="#6101c9"/>
<circle cx="422.5" cy="373.1" r="2.75" fill="#9008e9"/>
<circle cx="340.8" cy="377.1" r="2.75" fill="#7903fc"/>
<circle cx="247.5" cy="377.0" r="2.75" fill="#8806fa"/>
<circle cx="329.6" cy="358.2" r="2.75" fill="#c02e00"/>
<circle cx="554.6" cy="366.5" r="2.75" fill="#b11c21"/>
<circle cx="307.4" cy="366.4" r="2.75" fill="#9008e9"/>
<circle cx="494.9" cy="357.5" r="2.75" fill="#8505fc"/>
<circle cx="303.4" cy="367.5" r="2.75" fill="#eca000"/>
<circle cx="159.8" cy="348.5" r="2.75" fill="#7402f6"/>
<circle cx="277.7" cy="362.3" r="2.75" fill="#ce4800"/>
<circle cx="373.1" cy="352.8" r="2.75" fill="#7502f7"/>
<circle cx="507.2" cy="370.4" r="2.75" fill="#980cc8"/>
<circle cx="219.8" cy="367.4" r="2.75" fill="#af1b2e"/>
<circle cx="562.6" cy="366.5" r="2.75" fill="#b92500"/>
<circle cx="456.4" cy="371.7" r="2.75" fill="#6101ca"/>
<circle cx="382.4" cy="349.8" r="2.75" fill="#5d01bd"/>
<circle cx="465.9" cy="359.4" r="2.75" fill="#9209e0"/>
<circle cx="528.5" cy="60.0" r="2.75" fill="#500094"/>
<circle cx="432.0" cy="354.3" r="2.75" fill="#9008e8"/>
<circle cx="414.9" cy="355.6" r="2.75" fill="#a21194"/>
<circle cx="80.1" cy="373.2" r="2.75" fill="#7a03fd"/>
<circle cx="167.2" cy="338.4" r="2.75" fill="#510098"/>
<circle cx="542.0" cy="371.4" r="2.75" fill="#8906f8"/>
<circle cx="452.4" cy="337.4" r="2.75" fill="#5c01bb"/>
<circle cx="344.0" cy="364.2" r="2.75" fill="#c33300"/>
<circle cx="249.4" cy="333.3" r="2.75" fill="#52009a"/>
<circle cx="266.7" cy="352.6" r="2.75" fill="#7c03fe"/>
<circle cx="336.7" cy="367.2" r="2.75" fill="#7602f8"/>
<circle cx="453.6" cy="375.9" r="2.75" fill="#8906f7"/>
<circle cx="253.2" cy="368.5" r="2.75" fill="#d65900"/>
<circle cx="408.4" cy="367.9" r="2.75" fill="#bb2700"/>
<circle cx="523.4" cy="330.0" r="2.75" fill="#6401d1"/>
<circle cx="511.1" cy="341.2" r="2.75" fill="#6001c5"/>
<circle cx="241.7" cy="372.3" r="2.75" fill="#8b07f3"/>
<circle cx="108.8" cy="353.3" r="2.75" fill="#8c07f1"/>
<circle cx="560.8" cy="368.1" r="2.75" fill="#b82500"/>
<circle cx="327.0" cy="356.0" r="2.75" fill="#8b07f3"/>
<circle cx="158.8" cy="360.8" r="2.75" fill="#d35300"/>
<circle cx="442.1" cy="351.3" r="2.75" fill="#7f04ff"/>
<circle cx="501.2" cy="253.5" r="2.75" fill="#500094"/>
<circle cx="561.3" cy="368.1" r="2.75" fill="#d35200"/>
<circle cx="179.6" cy="357.5" r="2.75" fill="#9d0eb2"/>
<circle cx="565.4" cy="360.6" r="2.75" fill="#b92500"/>
<circle cx="281.5" cy="349.2" r="2.75" fill="#6601d8"/>
<circle cx="252.6" cy="363.2" r="2.75" fill="#d75c00"/>
<circle cx="421.8" cy="382.8" r="2.75" fill="#7302f5"/>
<circle cx="262.1" cy="349.1" r="2.75" fill="#7703f9"/>
<circle cx="511.9" cy="311.9" r="2.75" fill="#5a00b4"/>
<circle cx="531.8" cy="125.0" r="2.75" fill="#500095"/>
<circle cx="540.9" cy="376.3" r="2.75" fill="#7603f9"/>
<circle cx="104.9" cy="359.2" r="2.75" fill="#be2b00"/>
<circle cx="321.2" cy="364.8" r="2.75" fill="#c63800"/>
<circle cx="323.7" cy="362.5" r="2.75" fill="#8706fb"/>
<circle cx="522.3" cy="324.7" r="2.75" fill="#6101c9"/>
<circle cx="147.5" cy="367.2" r="2.75" fill="#e89000"/>
<circle cx="198.5" cy="366.3" r="2.75" fill="#8305fe"/>
<circle cx="388.9" cy="363.5" r="2.75" fill="#7803fb"/>
<circle cx="515.5" cy="369.4" r="2.75" fill="#6601d8"/>
<circle cx="326.6" cy="358.3" r="2.75" fill="#6801dd"/>
<circle cx="123.2" cy="360.0" r="2.75" fill="#7302f4"/>
<circle cx="83.5" cy="359.6" r="2.75" fill="#d25000"/>
<circle cx="525.6" cy="358.4" r="2.75" fill="#5500a3"/>
<circle cx="392.0" cy="367.0" r="2.75" fill="#950ad5"/>
<circle cx="534.7" cy="358.0" r="2.75" fill="#6201cc"/>
<circle cx="156.2" cy="380.7" r="2.75" fill="#7602f8"/>
<circle cx="362.8" cy="371.0" r="2.75" fill="#7803fb"/>
<circle cx="445.0" cy="376.2" r="2.75" fill="#8004ff"/>
<circle cx="434.5" cy="377.3" r="2.75" fill="#8405fd"/>
<circle cx="227.7" cy="361.2" r="2.75" fill="#b01c25"/>
<circle cx="423.5" cy="377.5" r="2.75" fill="#8305fe"/>
<circle cx="375.7" cy="359.4" r="2.75" fill="#af1b2b"/>
<circle cx="527.9" cy="361.0" r="2.75" fill="#7b03fd"/>
<circle cx="350.3" cy="368.8" r="2.75" fill="#a8146a"/>
<circle cx="287.3" cy="345.8" r="2.75" fill="#5600a8"/>
<circle cx="554.4" cy="338.7" r="2.75" fill="#5900b0"/>
<circle cx="98.7" cy="373.2" r="2.75" fill="#8f08eb"/>
<circle cx="290.4" cy="367.5" r="2.75" fill="#cc4300"/>
<circle cx="536.6" cy="380.0" r="2.75" fill="#7f04ff"/>
<circle cx="550.2" cy="369.7" r="2.75" fill="#6d02e8"/>
<circle cx="359.8" cy="355.1" r="2.75" fill="#8505fd"/>
<circle cx="109.9" cy="365.4" r="2.75" fill="#e89200"/>
<circle cx="185.9" cy="357.1" r="2.75" fill="#ab1752"/>
<circle cx="368.6" cy="352.3" r="2.75" fill="#8505fd"/>
<circle cx="238.8" cy="370.8" r="2.75" fill="#8405fd"/>
<circle cx="393.9" cy="365.4" r="2.75" fill="#7b03fe"/>
<circle cx="377.4" cy="356.0" r="2.75" fill="#960ad3"/>
<circle cx="547.2" cy="373.8" r="2.75" fill="#6401d1"/>
<circle cx="418.6" cy="369.6" r="2.75" fill="#7603f9"/>
<circle cx="552.4" cy="375.1" r="2.75" fill="#6801dd"/>
<circle cx="106.7" cy="372.0" r="2.75" fill="#7402f5"/>
<circle cx="512.1" cy="381.2" r="2.75" fill="#7f04ff"/>
<circle cx="522.9" cy="350.3" r="2.75" fill="#6e02eb"/>
<circle cx="373.5" cy="360.5" r="2.75" fill="#6e02ea"/>
<circle cx="441.5" cy="360.8" r="2.75" fill="#db6500"/>
<circle cx="482.1" cy="353.8" r="2.75" fill="#8104ff"/>
<circle cx="202.7" cy="374.3" r="2.75" fill="#7a03fd"/>
<circle cx="162.9" cy="350.6" r="2.75" fill="#7903fb"/>
<circle cx="342.6" cy="359.7" r="2.75" fill="#7602f8"/>
<circle cx="347.4" cy="369.9" r="2.75" fill="#be2c00"/>
<circle cx="304.5" cy="354.7" r="2.75" fill="#7102f0"/>
<circle cx="185.2" cy="367.3" r="2.75" fill="#ac1848"/>
<circle cx="228.0" cy="358.4" r="2.75" fill="#7603f9"/>
<circle cx="158.3" cy="371.0" r="2.75" fill="#a71470"/>
<circle cx="524.6" cy="366.5" r="2.75" fill="#ba2600"/>
<circle cx="449.8" cy="353.9" r="2.75" fill="#7b03fe"/>
<circle cx="337.1" cy="370.9" r="2.75" fill="#7502f7"/>
<circle cx="329.5" cy="373.9" r="2.75" fill="#8e08ed"/>
<circle cx="549.6" cy="359.0" r="2.75" fill="#7703fa"/>
<circle cx="221.1" cy="363.9" r="2.75" fill="#6201cd"/>
<circle cx="433.4" cy="325.4" r="2.75" fill="#510098"/>
<circle cx="117.6" cy="374.9" r="2.75" fill="#6501d5"/>
<circle cx="564.8" cy="310.3" r="2.75" fill="#5d01be"/>
<circle cx="379.4" cy="366.6" r="2.75" fill="#7b03fe"/>
<circle cx="364.8" cy="367.8" r="2.75" fill="#c43500"/>
<circle cx="307.4" cy="353.5" r="2.75" fill="#8705fb"/>
<circle cx="247.5" cy="356.9" r="2.75" fill="#7402f6"/>
<circle cx="287.4" cy="349.5" r="2.75" fill="#6901de"/>
<circle cx="347.7" cy="357.5" r="2.75" fill="#7502f7"/>
<circle cx="373.1" cy="377.1" r="2.75" fill="#7102f0"/>
<circle cx="264.0" cy="366.6" r="2.75" fill="#be2c00"/>
<circle cx="544.4" cy="303.0" r="2.75" fill="#53009e"/>
<circle cx="296.3" cy="355.6" r="2.75" fill="#5d01be"/>
<circle cx="301.7" cy="363.1" r="2.75" fill="#950ad5"/>
<circle cx="491.7" cy="368.3" r="2.75" fill="#7102f1"/>
<circle cx="203.1" cy="357.3" r="2.75" fill="#b31f08"/>
<circle cx="560.5" cy="373.7" r="2.75" fill="#8205fe"/>
<circle cx="460.6" cy="365.3" r="2.75" fill="#8d07ef"/>
<circle cx="112.6" cy="373.2" r="2.75" fill="#8605fc"/>
<circle cx="177.2" cy="379.7" r="2.75" fill="#7202f3"/>
<circle cx="490.7" cy="374.0" r="2.75" fill="#6d02e8"/>
<circle cx="348.4" cy="379.4" r="2.75" fill="#7f04ff"/>
<circle cx="416.0" cy="383.5" r="2.75" fill="#6c01e7"/>
<circle cx="527.7" cy="367.2" r="2.75" fill="#9b0db9"/>
<circle cx="460.4" cy="366.8" r="2.75" fill="#6501d5"/>
<circle cx="274.3" cy="365.1" r="2.75" fill="#8505fd"/>
<circle cx="555.7" cy="364.8" r="2.75" fill="#e89000"/>
<circle cx="544.4" cy="342.2" r="2.75" fill="#5400a0"/>
<circle cx="402.4" cy="355.3" r="2.75" fill="#940ad8"/>
<circle cx="134.7" cy="367.7" r="2.75" fill="#970bce"/>
<circle cx="466.1" cy="352.7" r="2.75" fill="#8205fe"/>
<circle cx="98.1" cy="379.2" r="2.75" fill="#7002ef"/>
<circle cx="233.3" cy="365.9" r="2.75" fill="#eca200"/>
<circle cx="204.3" cy="372.2" r="2.75" fill="#9209e0"/>
<circle cx="341.4" cy="356.5" r="2.75" fill="#8505fc"/>
<circle cx="331.1" cy="366.9" r="2.75" fill="#b01b27"/>
<circle cx="546.9" cy="293.5" r="2.75" fill="#52009a"/>
<circle cx="296.8" cy="369.5" r="2.75" fill="#6201cc"/>
<circle cx="370.8" cy="359.7" r="2.75" fill="#8f08eb"/>
<circle cx="525.9" cy="376.9" r="2.75" fill="#8305fe"/>
<circle cx="248.6" cy="366.6" r="2.75" fill="#c63700"/>
<circle cx="437.5" cy="364.7" r="2.75" fill="#c93d00"/>
<circle cx="327.8" cy="346.5" r="2.75" fill="#6501d4"/>
<circle cx="509.0" cy="367.5" r="2.75" fill="#e58600"/>
<circle cx="513.8" cy="295.0" r="2.75" fill="#510096"/>
<circle cx="391.8" cy="377.3" r="2.75" fill="#7202f2"/>
<circle cx="280.8" cy="362.4" r="2.75" fill="#e27c00"/>
<circle cx="408.7" cy="358.1" r="2.75" fill="#8e07ee"/>
<circle cx="143.4" cy="354.9" r="2.75" fill="#5c01b9"/>
<circle cx="250.9" cy="371.1" r="2.75" fill="#7f04ff"/>
<circle cx="491.2" cy="363.3" r="2.75" fill="#ce4700"/>
<circle cx="324.1" cy="369.1" r="2.75" fill="#8e08ee"/>
<circle cx="476.9" cy="363.3" r="2.75" fill="#b31f0b"/>
<circle cx="202.0" cy="345.8" r="2.75" fill="#5b01b7"/>
<circle cx="535.8" cy="374.1" r="2.75" fill="#980bc9"/>
<circle cx="501.1" cy="369.2" r="2.75" fill="#af1a32"/>
<circle cx="364.0" cy="375.2" r="2.75" fill="#9008e8"/>
<circle cx="186.9" cy="363.9" r="2.75" fill="#b82400"/>
<circle cx="80.2" cy="371.8" r="2.75" fill="#6901df"/>
<circle cx="152.0" cy="364.4" r="2.75" fill="#b11c1f"/>
<circle cx="509.1" cy="364.6" r="2.75" fill="#d85f00"/>
<circle cx="200.0" cy="333.3" r="2.75" fill="#500093"/>
<circle cx="526.6" cy="354.0" r="2.75" fill="#7a03fc"/>
<circle cx="464.9" cy="360.9" r="2.75" fill="#bc2900"/>
<circle cx="375.0" cy="358.2" r="2.75" fill="#7102f1"/>
<circle cx="385.4" cy="317.2" r="2.75" fill="#52009a"/>
<circle cx="348.5" cy="364.7" r="2.75" fill="#df7100"/>
<circle cx="266.2" cy="370.3" r="2.75" fill="#8205fe"/>
<circle cx="218.9" cy="365.1" r="2.75" fill="#6e02ec"/>
<circle cx="320.9" cy="360.3" r="2.75" fill="#8405fd"/>
<circle cx="178.2" cy="370.9" r="2.75" fill="#9e0eaa"/>
<circle cx="438.1" cy="371.5" r="2.75" fill="#7a03fc"/>
<circle cx="297.3" cy="365.1" r="2.75" fill="#7803fb"/>
<circle cx="228.9" cy="355.4" r="2.75" fill="#960ad3"/>
<circle cx="473.6" cy="347.3" r="2.75" fill="#6a01e2"/>
<circle cx="156.4" cy="362.4" r="2.75" fill="#eb9d00"/>
<circle cx="485.4" cy="370.1" r="2.75" fill="#6c01e5"/>
<circle cx="331.6" cy="359.7" r="2.75" fill="#6901e0"/>
<circle cx="545.3" cy="372.4" r="2.75" fill="#7d04ff"/>
<circle cx="184.7" cy="364.2" r="2.75" fill="#6f02ec"/>
<circle cx="443.7" cy="340.0" r="2.75" fill="#6801dd"/>
<circle cx="292.3" cy="382.0" r="2.75" fill="#7302f4"/>
<circle cx="97.2" cy="371.0" r="2.75" fill="#8405fd"/>
<circle cx="246.3" cy="370.8" r="2.75" fill="#7202f3"/>
<circle cx="90.3" cy="369.4" r="2.75" fill="#c43400"/>
<circle cx="167.4" cy="351.9" r="2.75" fill="#6701da"/>
<circle cx="291.6" cy="364.1" r="2.75" fill="#da6400"/>
<circle cx="231.3" cy="363.4" r="2.75" fill="#dd6b00"/>
<circle cx="317.8" cy="360.8" r="2.75" fill="#6a01e1"/>
<circle cx="342.7" cy="367.1" r="2.75" fill="#6301cf"/>
<circle cx="519.7" cy="367.7" r="2.75" fill="#6f02ec"/>
<circle cx="320.6" cy="342.1" r="2.75" fill="#500094"/>
<circle cx="345.3" cy="360.6" r="2.75" fill="#9309dd"/>
<circle cx="116.3" cy="351.4" r="2.75" fill="#6f02ec"/>
<circle cx="520.3" cy="335.9" r="2.75" fill="#5b01b5"/>
<circle cx="534.1" cy="314.4" r="2.75" fill="#500095"/>
<circle cx="220.8" cy="359.1" r="2.75" fill="#b01c22"/>
<circle cx="493.7" cy="372.0" r="2.75" fill="#8004ff"/>
<circle cx="130.6" cy="344.2" r="2.75" fill="#5e01c0"/>
<circle cx="243.0" cy="368.0" r="2.75" fill="#d65a00"/>
<circle cx="370.5" cy="360.8" r="2.75" fill="#dc6a00"/>
<circle cx="331.6" cy="360.3" r="2.75" fill="#6301d0"/>
<circle cx="78.8" cy="356.1" r="2.75" fill="#8906f7"/>
<circle cx="506.3" cy="356.2" r="2.75" fill="#9008e8"/>
<circle cx="522.3" cy="365.1" r="2.75" fill="#c83b00"/>
<circle cx="426.2" cy="386.6" r="2.75" fill="#7002ef"/>
<circle cx="327.9" cy="355.3" r="2.75" fill="#6a01e1"/>
<circle cx="413.7" cy="361.7" r="2.75" fill="#df7100"/>
<circle cx="356.0" cy="361.4" r="2.75" fill="#da6500"/>
<circle cx="496.5" cy="283.2" r="2.75" fill="#510096"/>
<circle cx="104.4" cy="348.0" r="2.75" fill="#6201cd"/>
<circle cx="319.3" cy="354.3" r="2.75" fill="#7e04ff"/>
<circle cx="361.4" cy="358.5" r="2.75" fill="#7d04ff"/>
<circle cx="394.4" cy="368.5" r="2.75" fill="#aa1657"/>
<circle cx="471.5" cy="249.6" r="2.75" fill="#510096"/>
<circle cx="272.2" cy="374.6" r="2.75" fill="#8605fc"/>
<circle cx="447.6" cy="378.6" r="2.75" fill="#7102f1"/>
<circle cx="436.1" cy="372.0" r="2.75" fill="#7302f5"/>
<circle cx="335.3" cy="355.2" r="2.75" fill="#7803fb"/>
<circle cx="375.4" cy="330.0" r="2.75" fill="#510098"/>
<circle cx="493.8" cy="348.1" r="2.75" fill="#500094"/>
<circle cx="171.3" cy="371.9" r="2.75" fill="#8605fb"/>
<circle cx="204.8" cy="381.0" r="2.75" fill="#7302f4"/>
<circle cx="192.1" cy="363.6" r="2.75" fill="#7602f8"/>
<circle cx="364.8" cy="331.8" r="2.75" fill="#52009b"/>
<circle cx="371.9" cy="361.6" r="2.75" fill="#a81569"/>
<circle cx="480.8" cy="371.2" r="2.75" fill="#8706fb"/>
<circle cx="430.3" cy="301.2" r="2.75" fill="#510099"/>
<circle cx="527.3" cy="363.6" r="2.75" fill="#6301d0"/>
<circle cx="176.0" cy="361.1" r="2.75" fill="#c33400"/>
<circle cx="255.0" cy="350.7" r="2.75" fill="#7402f6"/>
<circle cx="304.1" cy="377.3" r="2.75" fill="#7c03fe"/>
<circle cx="379.1" cy="362.8" r="2.75" fill="#aa1657"/>
<circle cx="222.2" cy="353.8" r="2.75" fill="#7703fa"/>
<circle cx="510.0" cy="328.4" r="2.75" fill="#5800ad"/>
<circle cx="92.9" cy="372.7" r="2.75" fill="#990cc3"/>
<circle cx="402.9" cy="371.1" r="2.75" fill="#ae1a39"/>
<circle cx="126.3" cy="353.2" r="2.75" fill="#7202f2"/>
<circle cx="497.2" cy="348.1" r="2.75" fill="#5c01bb"/>
<circle cx="127.1" cy="376.4" r="2.75" fill="#7302f5"/>
<circle cx="101.9" cy="355.9" r="2.75" fill="#7d03fe"/>
<circle cx="277.9" cy="358.1" r="2.75" fill="#a00fa1"/>
<circle cx="273.8" cy="359.1" r="2.75" fill="#b82400"/>
<circle cx="475.7" cy="359.7" r="2.75" fill="#7502f8"/>
<circle cx="369.9" cy="373.0" r="2.75" fill="#6301d0"/>
<circle cx="541.8" cy="266.8" r="2.75" fill="#520099"/>
<circle cx="154.2" cy="371.0" r="2.75" fill="#8b07f4"/>
<circle cx="202.7" cy="369.2" r="2.75" fill="#9e0fa9"/>
<circle cx="258.5" cy="361.1" r="2.75" fill="#7803fb"/>
<circle cx="356.7" cy="367.2" r="2.75" fill="#8004ff"/>
<circle cx="504.5" cy="351.0" r="2.75" fill="#7202f2"/>
<circle cx="259.8" cy="343.6" r="2.75" fill="#5700aa"/>
<circle cx="330.3" cy="376.8" r="2.75" fill="#6d02e8"/>
<circle cx="300.9" cy="368.2" r="2.75" fill="#8405fd"/>
<circle cx="476.7" cy="359.7" r="2.75" fill="#cd4400"/>
<circle cx="468.6" cy="358.3" r="2.75" fill="#a3118a"/>
<circle cx="140.8" cy="367.2" r="2.75" fill="#e37f00"/>
<circle cx="498.8" cy="368.3" r="2.75" fill="#7a03fc"/>
<circle cx="553.8" cy="342.6" r="2.75" fill="#5900af"/>
<circle cx="368.6" cy="359.7" r="2.75" fill="#7502f7"/>
<circle cx="556.3" cy="359.6" r="2.75" fill="#8605fb"/>
<circle cx="149.7" cy="360.4" r="2.75" fill="#b11c21"/>
<circle cx="391.3" cy="362.5" r="2.75" fill="#7202f2"/>
<circle cx="235.6" cy="360.2" r="2.75" fill="#a5137a"/>
<circle cx="136.3" cy="362.9" r="2.75" fill="#c73900"/>
<circle cx="82.2" cy="345.5" r="2.75" fill="#510096"/>
<circle cx="291.8" cy="358.5" r="2.75" fill="#8505fd"/>
<circle cx="84.8" cy="351.8" r="2.75" fill="#52009a"/>
<circle cx="243.1" cy="365.7" r="2.75" fill="#bb2800"/>
<circle cx="79.5" cy="348.9" r="2.75" fill="#6f02ec"/>
<circle cx="384.5" cy="356.8" r="2.75" fill="#af1a30"/>
<circle cx="147.0" cy="363.0" r="2.75" fill="#a3118b"/>
<circle cx="230.7" cy="373.6" r="2.75" fill="#9209e2"/>
<circle cx="218.9" cy="364.3" r="2.75" fill="#d04b00"/>
<circle cx="122.6" cy="353.1" r="2.75" fill="#520099"/>
<circle cx="263.6" cy="359.8" r="2.75" fill="#a91562"/>
<circle cx="537.6" cy="357.8" r="2.75" fill="#5e01bf"/>
<circle cx="526.3" cy="366.6" r="2.75" fill="#a0109d"/>
<circle cx="146.2" cy="354.7" r="2.75" fill="#7102f1"/>
<circle cx="485.1" cy="373.7" r="2.75" fill="#6c01e6"/>
<circle cx="236.9" cy="367.2" r="2.75" fill="#d24f00"/>
<circle cx="346.3" cy="356.9" r="2.75" fill="#7903fb"/>
<circle cx="125.6" cy="361.2" r="2.75" fill="#7302f4"/>
<circle cx="338.8" cy="369.8" r="2.75" fill="#7202f3"/>
<circle cx="269.9" cy="362.8" r="2.75" fill="#cf4a00"/>
<circle cx="152.7" cy="362.4" r="2.75" fill="#7302f5"/>
<circle cx="523.3" cy="351.8" r="2.75" fill="#8405fd"/>
<circle cx="307.2" cy="380.7" r="2.75" fill="#7703fa"/>
<circle cx="527.1" cy="382.6" r="2.75" fill="#7c03fe"/>
<circle cx="179.0" cy="351.1" r="2.75" fill="#6201cd"/>
<circle cx="236.7" cy="363.9" r="2.75" fill="#970bcc"/>
<circle cx="318.7" cy="368.5" r="2.75" fill="#7903fc"/>
<circle cx="254.4" cy="358.1" r="2.75" fill="#6701db"/>
<circle cx="295.2" cy="359.3" r="2.75" fill="#d35200"/>
<circle cx="562.5" cy="353.7" r="2.75" fill="#7603f9"/>
<circle cx="106.1" cy="347.1" r="2.75" fill="#6401d3"/>
<circle cx="346.2" cy="375.6" r="2.75" fill="#7302f5"/>
<circle cx="515.7" cy="364.3" r="2.75" fill="#c23200"/>
<circle cx="459.8" cy="357.3" r="2.75" fill="#960bd2"/>
<circle cx="523.5" cy="364.1" r="2.75" fill="#eda400"/>
<circle cx="266.3" cy="360.1" r="2.75" fill="#7f04ff"/>
<circle cx="90.0" cy="364.4" r="2.75" fill="#b41f07"/>
<circle cx="267.2" cy="359.9" r="2.75" fill="#cd4600"/>
<circle cx="522.9" cy="360.8" r="2.75" fill="#e27c00"/>
<circle cx="161.6" cy="369.0" r="2.75" fill="#6b01e4"/>
<circle cx="428.5" cy="358.6" r="2.75" fill="#ba2600"/>
<circle cx="244.1" cy="370.3" r="2.75" fill="#a61376"/>
<circle cx="193.2" cy="365.1" r="2.75" fill="#d75a00"/>
<circle cx="357.1" cy="357.8" r="2.75" fill="#6101c9"/>
<circle cx="466.4" cy="377.3" r="2.75" fill="#6b01e5"/>
<circle cx="508.1" cy="361.4" r="2.75" fill="#6801dd"/>
<circle cx="475.0" cy="309.2" r="2.75" fill="#510096"/>
<circle cx="104.3" cy="366.1" r="2.75" fill="#7d04ff"/>
<circle cx="297.8" cy="359.1" r="2.75" fill="#b11d19"/>
<circle cx="171.1" cy="362.8" r="2.75" fill="#8204ff"/>
<circle cx="190.1" cy="363.7" r="2.75" fill="#d14e00"/>
<circle cx="162.7" cy="349.2" r="2.75" fill="#7302f3"/>
<circle cx="423.5" cy="370.6" r="2.75" fill="#8104ff"/>
<circle cx="250.5" cy="367.4" r="2.75" fill="#ad193b"/>
<circle cx="211.4" cy="366.9" r="2.75" fill="#d04b00"/>
<circle cx="389.1" cy="359.2" r="2.75" fill="#6001c6"/>
<circle cx="244.7" cy="367.1" r="2.75" fill="#8806f8"/>
<circle cx="464.6" cy="361.1" r="2.75" fill="#e58600"/>
<circle cx="438.4" cy="371.1" r="2.75" fill="#ae1a37"/>
<circle cx="378.6" cy="370.7" r="2.75" fill="#7b03fe"/>
<circle cx="535.9" cy="361.2" r="2.75" fill="#c13000"/>
<circle cx="261.3" cy="351.4" r="2.75" fill="#53009d"/>
<circle cx="274.2" cy="329.2" r="2.75" fill="#52009b"/>
<circle cx="181.6" cy="367.2" r="2.75" fill="#990cc3"/>
<circle cx="247.6" cy="360.8" r="2.75" fill="#7102f1"/>
<circle cx="207.2" cy="363.5" r="2.75" fill="#e99300"/>
<circle cx="555.3" cy="350.3" r="2.75" fill="#6801de"/>
<circle cx="384.2" cy="357.0" r="2.75" fill="#980bcb"/>
<circle cx="127.8" cy="352.5" r="2.75" fill="#5900b1"/>
<circle cx="283.9" cy="369.8" r="2.75" fill="#6401d3"/>
<circle cx="218.5" cy="360.7" r="2.75" fill="#dd6c00"/>
<circle cx="513.1" cy="338.2" r="2.75" fill="#5500a4"/>
<circle cx="325.6" cy="363.1" r="2.75" fill="#9f0fa1"/>
<circle cx="445.7" cy="376.2" r="2.75" fill="#8505fc"/>
<circle cx="531.2" cy="370.4" r="2.75" fill="#9008e7"/>
<circle cx="417.3" cy="357.6" r="2.75" fill="#8906f8"/>
<circle cx="206.5" cy="364.1" r="2.75" fill="#c73a00"/>
<circle cx="205.6" cy="354.1" r="2.75" fill="#6501d5"/>
<circle cx="324.8" cy="364.0" r="2.75" fill="#c23200"/>
<circle cx="501.0" cy="374.9" r="2.75" fill="#9109e4"/>
<circle cx="126.7" cy="381.5" r="2.75" fill="#7002ee"/>
<circle cx="518.3" cy="361.6" r="2.75" fill="#e27a00"/>
<circle cx="179.6" cy="358.9" r="2.75" fill="#ae193a"/>
<circle cx="158.7" cy="361.8" r="2.75" fill="#ce4700"/>
<circle cx="226.5" cy="366.8" r="2.75" fill="#8b07f4"/>
<circle cx="305.3" cy="366.4" r="2.75" fill="#b92500"/>
<circle cx="391.1" cy="361.6" r="2.75" fill="#b72300"/>
<circle cx="557.8" cy="322.4" r="2.75" fill="#6201cb"/>
<circle cx="470.4" cy="359.1" r="2.75" fill="#d45500"/>
<circle cx="405.1" cy="365.0" r="2.75" fill="#b42002"/>
<circle cx="374.6" cy="352.8" r="2.75" fill="#7703fa"/>
<circle cx="326.5" cy="371.6" r="2.75" fill="#990cc5"/>
<circle cx="469.9" cy="364.1" r="2.75" fill="#c83b00"/>
<circle cx="529.2" cy="364.0" r="2.75" fill="#c73900"/>
<circle cx="393.7" cy="371.7" r="2.75" fill="#7a03fd"/>
<circle cx="152.9" cy="361.1" r="2.75" fill="#b01c24"/>
<circle cx="355.9" cy="367.1" r="2.75" fill="#8605fb"/>
<circle cx="120.2" cy="354.2" r="2.75" fill="#9309dd"/>
<circle cx="217.8" cy="356.8" r="2.75" fill="#7102f1"/>
<circle cx="508.6" cy="361.5" r="2.75" fill="#6b01e5"/>
<circle cx="547.2" cy="349.0" r="2.75" fill="#5800ae"/>
<circle cx="370.2" cy="354.9" r="2.75" fill="#8104ff"/>
<circle cx="254.1" cy="335.5" r="2.75" fill="#520099"/>
<circle cx="111.8" cy="369.5" r="2.75" fill="#a0109b"/>
<circle cx="261.4" cy="357.8" r="2.75" fill="#8104ff"/>
<circle cx="242.1" cy="356.6" r="2.75" fill="#7a03fd"/>
<circle cx="506.4" cy="295.1" r="2.75" fill="#510097"/>
<circle cx="444.7" cy="368.7" r="2.75" fill="#8d07f0"/>
<circle cx="159.7" cy="359.4" r="2.75" fill="#9f0fa7"/>
<circle cx="395.1" cy="354.8" r="2.75" fill="#9309dd"/>
<circle cx="87.0" cy="364.5" r="2.75" fill="#c53600"/>
<circle cx="102.7" cy="379.4" r="2.75" fill="#6d02e8"/>
<circle cx="489.5" cy="368.1" r="2.75" fill="#bc2900"/>
<circle cx="372.6" cy="367.7" r="2.75" fill="#7e04ff"/>
<circle cx="515.2" cy="331.0" r="2.75" fill="#5600a8"/>
<circle cx="127.8" cy="358.2" r="2.75" fill="#bb2800"/>
<circle cx="280.8" cy="370.6" r="2.75" fill="#8004ff"/>
<circle cx="464.3" cy="365.1" r="2.75" fill="#e78c00"/>
<circle cx="477.8" cy="358.8" r="2.75" fill="#7e04ff"/>
<circle cx="552.6" cy="371.7" r="2.75" fill="#6501d4"/>
<circle cx="144.3" cy="365.2" r="2.75" fill="#e07700"/>
<circle cx="258.8" cy="376.9" r="2.75" fill="#8405fd"/>
<circle cx="85.7" cy="357.6" r="2.75" fill="#8104ff"/>
<circle cx="104.9" cy="361.9" r="2.75" fill="#a81568"/>
<circle cx="509.7" cy="363.1" r="2.75" fill="#e38000"/>
<circle cx="443.6" cy="364.6" r="2.75" fill="#df7200"/>
<circle cx="515.5" cy="126.2" r="2.75" fill="#500093"/>
<circle cx="168.6" cy="357.0" r="2.75" fill="#af1b2d"/>
<circle cx="534.9" cy="378.1" r="2.75" fill="#6c01e6"/>
<circle cx="452.3" cy="361.5" r="2.75" fill="#7d04ff"/>
<circle cx="391.6" cy="360.7" r="2.75" fill="#8104ff"/>
<circle cx="317.7" cy="384.4" r="2.75" fill="#6d02ea"/>
<circle cx="379.5" cy="375.4" r="2.75" fill="#8204fe"/>
<circle cx="362.9" cy="375.1" r="2.75" fill="#9109e4"/>
<circle cx="251.6" cy="355.8" r="2.75" fill="#8204ff"/>
<circle cx="557.2" cy="363.2" r="2.75" fill="#b62200"/>
<circle cx="131.6" cy="374.7" r="2.75" fill="#7703f9"/>
<circle cx="377.7" cy="369.7" r="2.75" fill="#9008e7"/>
<circle cx="402.9" cy="380.7" r="2.75" fill="#7703fa"/>
<circle cx="480.9" cy="369.4" r="2.75" fill="#cc4200"/>
<circle cx="191.0" cy="371.1" r="2.75" fill="#6c01e5"/>
<circle cx="506.3" cy="375.5" r="2.75" fill="#8e07ee"/>
<circle cx="549.0" cy="367.6" r="2.75" fill="#e58700"/>
<circle cx="214.3" cy="364.5" r="2.75" fill="#9c0eb3"/>
<circle cx="174.9" cy="367.4" r="2.75" fill="#8c07f2"/>
<circle cx="353.2" cy="367.7" r="2.75" fill="#d96200"/>
<circle cx="516.2" cy="374.1" r="2.75" fill="#990cc6"/>
<circle cx="521.7" cy="354.5" r="2.75" fill="#950ad8"/>
<circle cx="318.3" cy="380.0" r="2.75" fill="#7202f2"/>
<circle cx="559.2" cy="175.4" r="2.75" fill="#510097"/>
<circle cx="366.9" cy="363.6" r="2.75" fill="#e68900"/>
<circle cx="279.2" cy="352.8" r="2.75" fill="#8004ff"/>
<circle cx="202.9" cy="367.4" r="2.75" fill="#a11096"/>
<circle cx="521.4" cy="363.1" r="2.75" fill="#e07500"/>
<circle cx="265.7" cy="373.3" r="2.75" fill="#7602f8"/>
<circle cx="131.7" cy="358.1" r="2.75" fill="#b82400"/>
<circle cx="354.6" cy="346.4" r="2.75" fill="#6e02ea"/>
<circle cx="266.9" cy="358.7" r="2.75" fill="#c83c00"/>
<circle cx="537.9" cy="358.9" r="2.75" fill="#bc2900"/>
<circle cx="292.0" cy="357.8" r="2.75" fill="#6601d8"/>
<circle cx="426.0" cy="362.0" r="2.75" fill="#9e0eac"/>
<circle cx="163.6" cy="368.7" r="2.75" fill="#c33300"/>
<circle cx="142.9" cy="368.9" r="2.75" fill="#970bcf"/>
<circle cx="80.9" cy="356.3" r="2.75" fill="#a11095"/>
<circle cx="184.3" cy="374.8" r="2.75" fill="#8e07ee"/>
<circle cx="270.6" cy="364.7" r="2.75" fill="#7602f8"/>
<circle cx="456.3" cy="357.6" r="2.75" fill="#af1a30"/>
<circle cx="147.3" cy="356.8" r="2.75" fill="#6a01e2"/>
<circle cx="494.4" cy="363.4" r="2.75" fill="#8a07f5"/>
<circle cx="506.6" cy="365.8" r="2.75" fill="#7b03fe"/>
<circle cx="368.5" cy="360.9" r="2.75" fill="#d75c00"/>
<circle cx="518.9" cy="338.8" r="2.75" fill="#5d01be"/>
<circle cx="318.7" cy="360.2" r="2.75" fill="#ac1848"/>
<circle cx="286.5" cy="365.6" r="2.75" fill="#c73900"/>
<circle cx="309.7" cy="358.3" r="2.75" fill="#b31e0e"/>
<circle cx="182.2" cy="361.8" r="2.75" fill="#bb2800"/>
<circle cx="425.4" cy="342.1" r="2.75" fill="#6101c9"/>
<circle cx="203.4" cy="364.2" r="2.75" fill="#9008e7"/>
<circle cx="133.3" cy="367.6" r="2.75" fill="#9c0db6"/>
<circle cx="564.6" cy="354.3" r="2.75" fill="#8c07f1"/>
<circle cx="559.3" cy="319.6" r="2.75" fill="#5500a4"/>
<circle cx="512.9" cy="362.2" r="2.75" fill="#e68900"/>
<circle cx="287.0" cy="351.7" r="2.75" fill="#5e01bf"/>
<circle cx="175.0" cy="355.8" r="2.75" fill="#8305fe"/>
<circle cx="369.3" cy="361.3" r="2.75" fill="#e48100"/>
<circle cx="127.9" cy="353.6" r="2.75" fill="#8004ff"/>
<circle cx="482.0" cy="356.2" r="2.75" fill="#940adc"/>
<circle cx="103.8" cy="374.1" r="2.75" fill="#7d04ff"/>
<circle cx="561.6" cy="363.6" r="2.75" fill="#9e0eac"/>
<circle cx="363.0" cy="374.5" r="2.75" fill="#8104ff"/>
<circle cx="96.6" cy="357.4" r="2.75" fill="#ae193a"/>
<circle cx="486.5" cy="359.6" r="2.75" fill="#c73a00"/>
<circle cx="258.0" cy="372.8" r="2.75" fill="#6c02e7"/>
<circle cx="203.7" cy="347.8" r="2.75" fill="#5400a1"/>
<circle cx="129.4" cy="360.1" r="2.75" fill="#9f0fa4"/>
<circle cx="104.4" cy="361.8" r="2.75" fill="#b92500"/>
<circle cx="161.2" cy="365.4" r="2.75" fill="#8906f8"/>
<circle cx="106.5" cy="374.8" r="2.75" fill="#6b01e4"/>
<circle cx="126.1" cy="366.8" r="2.75" fill="#eb9c00"/>
<circle cx="496.9" cy="365.1" r="2.75" fill="#af1b2b"/>
<circle cx="397.4" cy="370.8" r="2.75" fill="#6e02eb"/>
<circle cx="469.2" cy="362.1" r="2.75" fill="#980cc7"/>
<circle cx="153.6" cy="367.5" r="2.75" fill="#6501d5"/>
<circle cx="516.6" cy="357.6" r="2.75" fill="#b01b2a"/>
<circle cx="506.0" cy="336.7" r="2.75" fill="#5f01c3"/>
<circle cx="440.3" cy="364.3" r="2.75" fill="#d85e00"/>
<circle cx="488.9" cy="360.1" r="2.75" fill="#b01c23"/>
<circle cx="291.7" cy="362.1" r="2.75" fill="#5900b2"/>
<circle cx="542.7" cy="362.8" r="2.75" fill="#d45300"/>
<circle cx="144.4" cy="372.1" r="2.75" fill="#9b0db9"/>
<circle cx="131.8" cy="355.0" r="2.75" fill="#7a03fd"/>
<circle cx="323.9" cy="365.4" r="2.75" fill="#7f04ff"/>
<circle cx="503.5" cy="338.8" r="2.75" fill="#6a01e0"/>
<circle cx="422.4" cy="363.1" r="2.75" fill="#8505fd"/>
<circle cx="195.8" cy="369.1" r="2.75" fill="#6601d6"/>
<circle cx="331.7" cy="363.7" r="2.75" fill="#c83b00"/>
<circle cx="526.5" cy="302.9" r="2.75" fill="#5c01bb"/>
<circle cx="547.9" cy="363.6" r="2.75" fill="#de6f00"/>
<circle cx="306.0" cy="365.9" r="2.75" fill="#9109e3"/>
<circle cx="164.2" cy="331.4" r="2.75" fill="#4f0092"/>
<circle cx="88.3" cy="352.6" r="2.75" fill="#8405fe"/>
<circle cx="93.2" cy="362.0" r="2.75" fill="#b42002"/>
<circle cx="100.4" cy="373.7" r="2.75" fill="#7903fc"/>
<circle cx="461.7" cy="374.6" r="2.75" fill="#8e08ed"/>
<circle cx="423.8" cy="336.6" r="2.75" fill="#5d01bc"/>
<circle cx="300.3" cy="373.5" r="2.75" fill="#9008e7"/>
<circle cx="139.0" cy="377.2" r="2.75" fill="#8004ff"/>
<circle cx="139.9" cy="362.8" r="2.75" fill="#da6300"/>
<circle cx="165.7" cy="359.5" r="2.75" fill="#c33300"/>
<circle cx="122.7" cy="370.4" r="2.75" fill="#6701db"/>
<circle cx="106.4" cy="369.6" r="2.75" fill="#bb2700"/>
<circle cx="484.2" cy="362.1" r="2.75" fill="#dd6c00"/>
<circle cx="91.3" cy="360.5" r="2.75" fill="#c23100"/>
<circle cx="537.6" cy="371.8" r="2.75" fill="#7703fa"/>
<circle cx="402.6" cy="368.9" r="2.75" fill="#c02f00"/>
<circle cx="379.3" cy="362.7" r="2.75" fill="#8405fd"/>
<circle cx="328.3" cy="366.6" r="2.75" fill="#9008e9"/>
<circle cx="396.5" cy="337.4" r="2.75" fill="#5500a5"/>
<circle cx="371.8" cy="355.6" r="2.75" fill="#a00f9f"/>
<circle cx="458.1" cy="367.6" r="2.75" fill="#9b0dbc"/>
<circle cx="458.4" cy="369.3" r="2.75" fill="#6501d4"/>
<circle cx="394.3" cy="367.4" r="2.75" fill="#8104ff"/>
<circle cx="415.3" cy="360.0" r="2.75" fill="#cc4300"/>
<circle cx="193.1" cy="354.2" r="2.75" fill="#7002ef"/>
<circle cx="548.8" cy="339.6" r="2.75" fill="#5700a9"/>
<circle cx="215.9" cy="368.0" r="2.75" fill="#c73900"/>
<circle cx="464.8" cy="365.0" r="2.75" fill="#b42000"/>
<circle cx="426.1" cy="330.6" r="2.75" fill="#5400a0"/>
<circle cx="328.8" cy="359.0" r="2.75" fill="#d24f00"/>
<circle cx="451.1" cy="366.0" r="2.75" fill="#e37e00"/>
<circle cx="93.6" cy="360.8" r="2.75" fill="#ca3f00"/>
<circle cx="519.7" cy="372.4" r="2.75" fill="#6d02e8"/>
<circle cx="481.4" cy="359.8" r="2.75" fill="#a31288"/>
<circle cx="327.6" cy="368.9" r="2.75" fill="#9309de"/>
<circle cx="227.3" cy="372.4" r="2.75" fill="#8505fc"/>
<circle cx="114.7" cy="365.2" r="2.75" fill="#940ad9"/>
<circle cx="462.5" cy="378.6" r="2.75" fill="#6a01e1"/>
<circle cx="185.7" cy="375.0" r="2.75" fill="#7603f9"/>
<circle cx="236.2" cy="357.3" r="2.75" fill="#960ad3"/>
<circle cx="246.1" cy="375.1" r="2.75" fill="#8b07f4"/>
<circle cx="267.0" cy="365.8" r="2.75" fill="#cf4900"/>
<circle cx="507.9" cy="366.0" r="2.75" fill="#9e0ead"/>
<circle cx="162.5" cy="359.0" r="2.75" fill="#8e08ec"/>
<circle cx="184.5" cy="374.3" r="2.75" fill="#940ad9"/>
<circle cx="384.3" cy="360.6" r="2.75" fill="#8004ff"/>
<circle cx="564.0" cy="361.7" r="2.75" fill="#aa165b"/>
<circle cx="132.7" cy="362.3" r="2.75" fill="#eb9b00"/>
<circle cx="554.3" cy="363.5" r="2.75" fill="#ac1846"/>
<circle cx="169.3" cy="361.5" r="2.75" fill="#9e0fa8"/>
<circle cx="491.9" cy="362.1" r="2.75" fill="#c63800"/>
<circle cx="242.9" cy="356.2" r="2.75" fill="#5400a1"/>
<circle cx="413.2" cy="367.5" r="2.75" fill="#9109e5"/>
<circle cx="561.0" cy="359.1" r="2.75" fill="#980bcb"/>
<circle cx="247.8" cy="352.4" r="2.75" fill="#8706fa"/>
<circle cx="206.2" cy="363.6" r="2.75" fill="#8806f8"/>
<circle cx="309.2" cy="361.6" r="2.75" fill="#8204ff"/>
<circle cx="398.3" cy="371.8" r="2.75" fill="#7102f1"/>
<circle cx="89.4" cy="356.2" r="2.75" fill="#9d0eae"/>
<circle cx="408.8" cy="358.7" r="2.75" fill="#a0109b"/>
<circle cx="182.2" cy="367.6" r="2.75" fill="#c83b00"/>
<circle cx="187.4" cy="374.7" r="2.75" fill="#7903fc"/>
<circle cx="345.2" cy="357.2" r="2.75" fill="#8e07ee"/>
<circle cx="411.2" cy="356.6" r="2.75" fill="#8f08eb"/>
<circle cx="490.6" cy="337.6" r="2.75" fill="#5a01b5"/>
<circle cx="98.7" cy="357.3" r="2.75" fill="#a71470"/>
<circle cx="148.0" cy="364.0" r="2.75" fill="#e37e00"/>
<circle cx="181.2" cy="365.8" r="2.75" fill="#bf2d00"/>
<circle cx="461.6" cy="358.8" r="2.75" fill="#970bcc"/>
<circle cx="299.1" cy="365.4" r="2.75" fill="#980bcb"/>
<circle cx="546.7" cy="366.9" r="2.75" fill="#db6700"/>
<circle cx="248.5" cy="373.1" r="2.75" fill="#6301ce"/>
<circle cx="528.8" cy="354.6" r="2.75" fill="#8f08ea"/>
<circle cx="405.3" cy="363.8" r="2.75" fill="#bb2800"/>
<circle cx="89.4" cy="358.6" r="2.75" fill="#c12f00"/>
<circle cx="484.4" cy="354.1" r="2.75" fill="#8104ff"/>
<circle cx="417.1" cy="345.4" r="2.75" fill="#6701db"/>
<circle cx="288.6" cy="364.4" r="2.75" fill="#dc6a00"/>
<circle cx="91.9" cy="360.4" r="2.75" fill="#7d03fe"/>
<circle cx="151.8" cy="359.4" r="2.75" fill="#a71471"/>
<circle cx="490.5" cy="360.4" r="2.75" fill="#d65800"/>
<circle cx="201.5" cy="367.4" r="2.75" fill="#d75b00"/>
<circle cx="140.6" cy="365.9" r="2.75" fill="#c73900"/>
<circle cx="556.7" cy="348.4" r="2.75" fill="#7202f2"/>
<circle cx="128.0" cy="372.5" r="2.75" fill="#9a0dbd"/>
<circle cx="475.3" cy="368.7" r="2.75" fill="#c43500"/>
<circle cx="348.4" cy="359.9" r="2.75" fill="#bf2d00"/>
<circle cx="120.3" cy="368.6" r="2.75" fill="#a41284"/>
<circle cx="442.4" cy="384.7" r="2.75" fill="#7402f5"/>
<circle cx="369.1" cy="368.4" r="2.75" fill="#8a06f6"/>
<circle cx="156.3" cy="372.4" r="2.75" fill="#6b01e3"/>
<circle cx="349.5" cy="372.5" r="2.75" fill="#6b01e4"/>
<circle cx="195.4" cy="376.6" r="2.75" fill="#7903fc"/>
<circle cx="397.3" cy="356.6" r="2.75" fill="#960bd2"/>
<circle cx="223.0" cy="361.7" r="2.75" fill="#8b07f3"/>
<circle cx="455.6" cy="362.8" r="2.75" fill="#d55600"/>
<circle cx="119.8" cy="374.3" r="2.75" fill="#8305fe"/>
<circle cx="509.6" cy="385.0" r="2.75" fill="#7202f3"/>
<circle cx="500.9" cy="372.0" r="2.75" fill="#6e02eb"/>
<circle cx="216.0" cy="370.7" r="2.75" fill="#a11096"/>
<circle cx="141.7" cy="373.5" r="2.75" fill="#9008e8"/>
<circle cx="128.1" cy="369.2" r="2.75" fill="#c53600"/>
<circle cx="450.3" cy="370.2" r="2.75" fill="#bc2900"/>
<circle cx="283.3" cy="366.6" r="2.75" fill="#cd4400"/>
<circle cx="352.7" cy="373.4" r="2.75" fill="#8004ff"/>
<circle cx="211.7" cy="339.2" r="2.75" fill="#500093"/>
<circle cx="416.2" cy="357.4" r="2.75" fill="#7202f3"/>
<circle cx="431.8" cy="359.1" r="2.75" fill="#7a03fd"/>
<circle cx="172.1" cy="368.2" r="2.75" fill="#970bcf"/>
<circle cx="150.4" cy="361.3" r="2.75" fill="#d35300"/>
<circle cx="515.8" cy="359.8" r="2.75" fill="#dc6900"/>
<circle cx="389.5" cy="367.5" r="2.75" fill="#db6700"/>
<circle cx="315.3" cy="367.5" r="2.75" fill="#c73a00"/>
<circle cx="82.5" cy="373.9" r="2.75" fill="#8806f9"/>
<circle cx="272.2" cy="366.6" r="2.75" fill="#b72200"/>
<circle cx="451.5" cy="385.0" r="2.75" fill="#7502f7"/>
<circle cx="283.6" cy="366.9" r="2.75" fill="#cb4200"/>
<circle cx="547.0" cy="361.6" r="2.75" fill="#cd4500"/>
<circle cx="165.5" cy="362.7" r="2.75" fill="#db6600"/>
<circle cx="506.7" cy="366.4" r="2.75" fill="#6401d1"/>
<circle cx="535.5" cy="320.8" r="2.75" fill="#5e01c1"/>
<circle cx="113.3" cy="362.2" r="2.75" fill="#d24f00"/>
<circle cx="527.4" cy="371.1" r="2.75" fill="#8004ff"/>
<circle cx="436.9" cy="358.9" r="2.75" fill="#be2b00"/>
<circle cx="114.5" cy="358.6" r="2.75" fill="#bb2800"/>
<circle cx="162.0" cy="374.3" r="2.75" fill="#7e04ff"/>
<circle cx="133.7" cy="368.0" r="2.75" fill="#7a03fd"/>
<circle cx="432.0" cy="365.8" r="2.75" fill="#8706fa"/>
<circle cx="553.7" cy="361.4" r="2.75" fill="#e27b00"/>
<circle cx="485.0" cy="356.6" r="2.75" fill="#950ad7"/>
<circle cx="257.5" cy="381.6" r="2.75" fill="#6c01e6"/>
<circle cx="120.2" cy="359.1" r="2.75" fill="#6001c6"/>
<circle cx="548.8" cy="363.1" r="2.75" fill="#cc4300"/>
<circle cx="396.2" cy="329.2" r="2.75" fill="#510097"/>
<circle cx="502.2" cy="366.4" r="2.75" fill="#d55700"/>
<circle cx="319.3" cy="359.3" r="2.75" fill="#7302f4"/>
<circle cx="529.0" cy="348.6" r="2.75" fill="#7202f2"/>
<circle cx="318.0" cy="360.4" r="2.75" fill="#5c01bb"/>
<circle cx="432.3" cy="327.7" r="2.75" fill="#500095"/>
<circle cx="116.1" cy="365.1" r="2.75" fill="#bc2900"/>
<circle cx="204.5" cy="371.4" r="2.75" fill="#6501d5"/>
<circle cx="445.3" cy="360.7" r="2.75" fill="#6d02e8"/>
<circle cx="414.2" cy="369.5" r="2.75" fill="#8b07f3"/>
<circle cx="352.7" cy="365.4" r="2.75" fill="#9c0eb3"/>
<circle cx="312.9" cy="362.6" r="2.75" fill="#b21d18"/>
<circle cx="160.4" cy="356.6" r="2.75" fill="#8205fe"/>
<circle cx="549.2" cy="233.5" r="2.75" fill="#510097"/>
<circle cx="91.6" cy="369.2" r="2.75" fill="#a3118b"/>
<circle cx="385.1" cy="361.9" r="2.75" fill="#ab174e"/>
<circle cx="384.8" cy="380.6" r="2.75" fill="#7603f9"/>
<circle cx="176.1" cy="365.1" r="2.75" fill="#bd2b00"/>
<circle cx="450.0" cy="360.1" r="2.75" fill="#c23200"/>
<circle cx="323.5" cy="353.8" r="2.75" fill="#7803fb"/>
<circle cx="176.9" cy="356.7" r="2.75" fill="#980cc7"/>
<circle cx="116.4" cy="354.1" r="2.75" fill="#7903fc"/>
<circle cx="268.7" cy="366.6" r="2.75" fill="#e17a00"/>
<circle cx="497.7" cy="363.6" r="2.75" fill="#d85d00"/>
<circle cx="88.0" cy="362.2" r="2.75" fill="#bb2800"/>
<circle cx="222.1" cy="371.2" r="2.75" fill="#a5137a"/>
<circle cx="365.7" cy="359.3" r="2.75" fill="#b92600"/>
<circle cx="334.3" cy="379.6" r="2.75" fill="#6d02ea"/>
<circle cx="351.6" cy="348.9" r="2.75" fill="#6201ce"/>
<circle cx="457.7" cy="361.2" r="2.75" fill="#cd4500"/>
<circle cx="538.9" cy="365.5" r="2.75" fill="#7b03fd"/>
<circle cx="254.0" cy="375.2" r="2.75" fill="#8806f9"/>
<circle cx="523.5" cy="223.5" r="2.75" fill="#500094"/>
<circle cx="493.9" cy="357.0" r="2.75" fill="#8e08ec"/>
<circle cx="514.6" cy="386.4" r="2.75" fill="#6f02ed"/>
<circle cx="518.0" cy="364.4" r="2.75" fill="#de6f00"/>
<circle cx="527.0" cy="356.8" r="2.75" fill="#980cc8"/>
<circle cx="86.1" cy="367.0" r="2.75" fill="#d35200"/>
<circle cx="390.3" cy="376.1" r="2.75" fill="#8806f8"/>
<circle cx="263.2" cy="353.4" r="2.75" fill="#7002ef"/>
<circle cx="412.0" cy="354.6" r="2.75" fill="#7102f1"/>
<circle cx="369.7" cy="367.5" r="2.75" fill="#5f01c3"/>
<circle cx="511.9" cy="357.9" r="2.75" fill="#7903fc"/>
<circle cx="472.8" cy="335.8" r="2.75" fill="#5e01bf"/>
<circle cx="471.5" cy="366.0" r="2.75" fill="#c23200"/>
<circle cx="453.7" cy="372.4" r="2.75" fill="#9d0eb1"/>
<circle cx="188.1" cy="350.2" r="2.75" fill="#54009f"/>
<circle cx="271.0" cy="352.0" r="2.75" fill="#6201cd"/>
<circle cx="306.7" cy="366.0" r="2.75" fill="#e07500"/>
<circle cx="262.8" cy="362.2" r="2.75" fill="#b92600"/>
<circle cx="428.2" cy="312.3" r="2.75" fill="#4f0091"/>
<circle cx="532.9" cy="370.9" r="2.75" fill="#7b03fe"/>
<circle cx="448.3" cy="371.1" r="2.75" fill="#af1a32"/>
<circle cx="472.9" cy="372.5" r="2.75" fill="#7102f2"/>
<circle cx="169.7" cy="352.6" r="2.75" fill="#6401d2"/>
<circle cx="507.7" cy="350.8" r="2.75" fill="#6501d4"/>
<circle cx="450.4" cy="373.6" r="2.75" fill="#970bce"/>
<circle cx="472.6" cy="352.6" r="2.75" fill="#7302f5"/>
<circle cx="394.3" cy="360.1" r="2.75" fill="#9d0eb2"/>
<circle cx="298.4" cy="360.6" r="2.75" fill="#8806f9"/>
<circle cx="440.4" cy="367.2" r="2.75" fill="#ab184c"/>
<circle cx="366.1" cy="366.3" r="2.75" fill="#9b0dbc"/>
<circle cx="304.7" cy="359.0" r="2.75" fill="#7602f9"/>
<circle cx="561.1" cy="378.1" r="2.75" fill="#8004ff"/>
<circle cx="564.3" cy="358.2" r="2.75" fill="#6801de"/>
<circle cx="306.2" cy="361.6" r="2.75" fill="#be2c00"/>
<circle cx="144.1" cy="359.7" r="2.75" fill="#d35200"/>
<circle cx="214.0" cy="367.5" r="2.75" fill="#9109e3"/>
<circle cx="142.1" cy="361.9" r="2.75" fill="#8906f8"/>
<circle cx="79.5" cy="363.4" r="2.75" fill="#cc4200"/>
<circle cx="347.4" cy="367.6" r="2.75" fill="#c73a00"/>
<circle cx="483.6" cy="373.1" r="2.75" fill="#8e08ed"/>
<circle cx="474.3" cy="308.8" r="2.75" fill="#510098"/>
<circle cx="142.2" cy="366.9" r="2.75" fill="#bf2d00"/>
<circle cx="373.5" cy="355.3" r="2.75" fill="#8b07f4"/>
<circle cx="401.7" cy="366.0" r="2.75" fill="#b11d1b"/>
<circle cx="433.7" cy="363.6" r="2.75" fill="#7f04ff"/>
<circle cx="508.1" cy="363.9" r="2.75" fill="#5c01bb"/>
<circle cx="340.3" cy="370.7" r="2.75" fill="#b62200"/>
<circle cx="480.5" cy="337.2" r="2.75" fill="#6101ca"/>
<circle cx="433.2" cy="378.8" r="2.75" fill="#6f02ed"/>
<circle cx="548.5" cy="367.4" r="2.75" fill="#a91562"/>
<circle cx="334.3" cy="361.2" r="2.75" fill="#bd2a00"/>
<circle cx="492.3" cy="360.1" r="2.75" fill="#bb2700"/>
<circle cx="417.0" cy="365.8" r="2.75" fill="#6201cd"/>
<circle cx="280.0" cy="362.3" r="2.75" fill="#9e0fa7"/>
<circle cx="431.2" cy="373.2" r="2.75" fill="#6e02ea"/>
<circle cx="373.3" cy="365.6" r="2.75" fill="#af1b2f"/>
<circle cx="471.0" cy="356.9" r="2.75" fill="#b01b29"/>
<circle cx="271.6" cy="368.5" r="2.75" fill="#7b03fd"/>
<circle cx="553.5" cy="365.8" r="2.75" fill="#d45300"/>
<circle cx="527.4" cy="288.4" r="2.75" fill="#520099"/>
<circle cx="432.1" cy="361.1" r="2.75" fill="#7102f0"/>
<circle cx="478.1" cy="366.7" r="2.75" fill="#eca000"/>
<circle cx="98.1" cy="364.8" r="2.75" fill="#c63800"/>
<circle cx="174.1" cy="357.5" r="2.75" fill="#970bce"/>
<circle cx="384.5" cy="365.1" r="2.75" fill="#e48300"/>
<circle cx="501.5" cy="364.9" r="2.75" fill="#a3118a"/>
<circle cx="237.1" cy="366.7" r="2.75" fill="#7e04ff"/>
<circle cx="172.8" cy="356.7" r="2.75" fill="#7102f0"/>
<circle cx="201.7" cy="365.1" r="2.75" fill="#cf4900"/>
<circle cx="309.1" cy="366.1" r="2.75" fill="#bd2b00"/>
<circle cx="440.8" cy="382.5" r="2.75" fill="#7302f4"/>
<circle cx="459.6" cy="361.5" r="2.75" fill="#8405fe"/>
<circle cx="560.5" cy="377.3" r="2.75" fill="#6901de"/>
<circle cx="482.2" cy="365.3" r="2.75" fill="#c33300"/>
<circle cx="241.8" cy="360.0" r="2.75" fill="#7903fc"/>
<circle cx="434.3" cy="370.9" r="2.75" fill="#a5137f"/>
<circle cx="314.1" cy="365.8" r="2.75" fill="#d14e00"/>
<circle cx="311.7" cy="356.7" r="2.75" fill="#8f08ea"/>
<circle cx="326.3" cy="367.7" r="2.75" fill="#a41281"/>
<circle cx="111.0" cy="366.9" r="2.75" fill="#8204ff"/>
<circle cx="330.8" cy="352.1" r="2.75" fill="#7903fc"/>
<circle cx="229.8" cy="359.2" r="2.75" fill="#6f02ed"/>
<circle cx="95.9" cy="366.3" r="2.75" fill="#ba2700"/>
<circle cx="545.1" cy="359.3" r="2.75" fill="#bb2800"/>
<circle cx="512.0" cy="355.1" r="2.75" fill="#7803fb"/>
<circle cx="393.9" cy="363.8" r="2.75" fill="#e58500"/>
<circle cx="551.1" cy="359.9" r="2.75" fill="#bf2d00"/>
<circle cx="357.5" cy="365.7" r="2.75" fill="#ec9f00"/>
<circle cx="336.8" cy="349.1" r="2.75" fill="#6801dd"/>
<circle cx="251.8" cy="350.6" r="2.75" fill="#5c01bb"/>
<circle cx="326.0" cy="363.1" r="2.75" fill="#8f08eb"/>
<circle cx="430.6" cy="369.2" r="2.75" fill="#7c03fe"/>
<circle cx="256.1" cy="361.5" r="2.75" fill="#9f0fa2"/>
<circle cx="213.7" cy="362.1" r="2.75" fill="#6c01e6"/>
<circle cx="244.0" cy="358.5" r="2.75" fill="#970bd0"/>
<circle cx="126.7" cy="363.5" r="2.75" fill="#6801db"/>
<circle cx="543.3" cy="357.2" r="2.75" fill="#960ad3"/>
<circle cx="237.9" cy="378.4" r="2.75" fill="#7e04ff"/>
<circle cx="472.1" cy="367.8" r="2.75" fill="#ce4700"/>
<circle cx="446.3" cy="366.6" r="2.75" fill="#7002ee"/>
<circle cx="330.1" cy="370.2" r="2.75" fill="#7903fc"/>
<circle cx="117.2" cy="370.6" r="2.75" fill="#9f0fa2"/>
<circle cx="228.2" cy="352.8" r="2.75" fill="#7002ee"/>
<circle cx="480.2" cy="368.0" r="2.75" fill="#b92600"/>
<circle cx="532.9" cy="365.6" r="2.75" fill="#6e02eb"/>
<circle cx="454.8" cy="369.0" r="2.75" fill="#6801de"/>
<circle cx="468.7" cy="371.3" r="2.75" fill="#a00f9f"/>
<circle cx="536.1" cy="367.8" r="2.75" fill="#6a01e2"/>
<circle cx="359.4" cy="356.3" r="2.75" fill="#7d04ff"/>
<circle cx="409.7" cy="363.3" r="2.75" fill="#eca000"/>
<circle cx="103.3" cy="379.6" r="2.75" fill="#7102f1"/>
<circle cx="554.1" cy="372.0" r="2.75" fill="#7302f5"/>
<circle cx="126.9" cy="366.7" r="2.75" fill="#6301d0"/>
<circle cx="440.9" cy="361.2" r="2.75" fill="#9e0fa8"/>
<circle cx="428.3" cy="367.8" r="2.75" fill="#8305fe"/>
<circle cx="564.4" cy="297.4" r="2.75" fill="#510097"/>
<circle cx="96.2" cy="363.4" r="2.75" fill="#b01c26"/>
<circle cx="238.2" cy="359.6" r="2.75" fill="#c73a00"/>
<circle cx="432.0" cy="362.6" r="2.75" fill="#c23100"/>
<circle cx="357.0" cy="357.4" r="2.75" fill="#9d0eb1"/>
<circle cx="528.1" cy="369.8" r="2.75" fill="#be2c00"/>
<circle cx="282.3" cy="375.7" r="2.75" fill="#8405fe"/>
<circle cx="123.6" cy="366.7" r="2.75" fill="#c02f00"/>
<circle cx="171.3" cy="367.1" r="2.75" fill="#d65a00"/>
<circle cx="138.1" cy="357.0" r="2.75" fill="#8d07ef"/>
<circle cx="258.4" cy="349.2" r="2.75" fill="#7603f9"/>
<circle cx="514.6" cy="361.1" r="2.75" fill="#d35100"/>
<circle cx="502.2" cy="372.3" r="2.75" fill="#7002f0"/>
<circle cx="256.9" cy="369.6" r="2.75" fill="#9209e1"/>
<circle cx="213.2" cy="351.4" r="2.75" fill="#7d04ff"/>
<circle cx="556.7" cy="302.5" r="2.75" fill="#510096"/>
<circle cx="311.9" cy="376.8" r="2.75" fill="#8906f8"/>
<circle cx="478.1" cy="357.5" r="2.75" fill="#6e02ea"/>
<circle cx="115.6" cy="362.5" r="2.75" fill="#e99600"/>
<circle cx="381.2" cy="373.5" r="2.75" fill="#9309df"/>
<circle cx="140.8" cy="360.9" r="2.75" fill="#7b03fe"/>
<circle cx="164.5" cy="361.1" r="2.75" fill="#d25000"/>
<circle cx="458.3" cy="365.4" r="2.75" fill="#ce4600"/>
<circle cx="100.3" cy="371.1" r="2.75" fill="#a91560"/>
<circle cx="268.5" cy="356.2" r="2.75" fill="#a21192"/>
<circle cx="541.1" cy="366.7" r="2.75" fill="#6b01e4"/>
<circle cx="186.0" cy="363.2" r="2.75" fill="#ba2600"/>
<circle cx="399.3" cy="334.9" r="2.75" fill="#5c01ba"/>
<circle cx="177.3" cy="365.6" r="2.75" fill="#6101c8"/>
<circle cx="393.8" cy="371.4" r="2.75" fill="#6801dc"/>
<circle cx="242.4" cy="343.1" r="2.75" fill="#500094"/>
<circle cx="129.0" cy="362.3" r="2.75" fill="#ea9a00"/>
<circle cx="560.7" cy="378.1" r="2.75" fill="#7b03fd"/>
<circle cx="499.6" cy="361.9" r="2.75" fill="#8e08ed"/>
<circle cx="205.5" cy="360.5" r="2.75" fill="#7e04ff"/>
<circle cx="448.9" cy="364.1" r="2.75" fill="#940adc"/>
<circle cx="468.5" cy="326.2" r="2.75" fill="#500094"/>
<circle cx="438.1" cy="359.9" r="2.75" fill="#cc4200"/>
<circle cx="379.6" cy="364.1" r="2.75" fill="#8806f8"/>
<circle cx="345.6" cy="365.1" r="2.75" fill="#9109e5"/>
<circle cx="417.0" cy="365.6" r="2.75" fill="#df7100"/>
<circle cx="479.2" cy="352.5" r="2.75" fill="#5600a6"/>
<circle cx="306.6" cy="374.7" r="2.75" fill="#6c01e6"/>
<circle cx="352.0" cy="357.1" r="2.75" fill="#a81565"/>
<circle cx="336.8" cy="363.1" r="2.75" fill="#8c07f1"/>
<circle cx="418.1" cy="361.7" r="2.75" fill="#b62200"/>
<circle cx="175.0" cy="359.8" r="2.75" fill="#de6f00"/>
<circle cx="361.6" cy="365.1" r="2.75" fill="#d75d00"/>
<circle cx="509.8" cy="348.3" r="2.75" fill="#6001c7"/>
<circle cx="367.2" cy="358.8" r="2.75" fill="#c13000"/>
<circle cx="410.1" cy="356.3" r="2.75" fill="#9b0dba"/>
<circle cx="303.1" cy="353.8" r="2.75" fill="#6901df"/>
<circle cx="99.6" cy="363.9" r="2.75" fill="#d35200"/>
<circle cx="458.6" cy="364.9" r="2.75" fill="#8806f9"/>
<circle cx="428.7" cy="332.6" r="2.75" fill="#5900b0"/>
<circle cx="211.0" cy="362.2" r="2.75" fill="#e99500"/>
<circle cx="161.4" cy="362.4" r="2.75" fill="#b21d16"/>
<circle cx="433.3" cy="352.7" r="2.75" fill="#6b01e4"/>
<circle cx="98.8" cy="358.8" r="2.75" fill="#8f08e9"/>
<circle cx="499.5" cy="372.3" r="2.75" fill="#8906f8"/>
<circle cx="498.9" cy="308.1" r="2.75" fill="#500094"/>
<circle cx="204.8" cy="361.2" r="2.75" fill="#c02f00"/>
<circle cx="192.8" cy="358.8" r="2.75" fill="#7002ef"/>
<circle cx="379.6" cy="360.4" r="2.75" fill="#cc4200"/>
<circle cx="213.4" cy="371.3" r="2.75" fill="#9e0fa7"/>
<circle cx="433.0" cy="381.6" r="2.75" fill="#6f02ec"/>
<circle cx="109.7" cy="363.7" r="2.75" fill="#dc6900"/>
<circle cx="360.3" cy="362.3" r="2.75" fill="#7402f6"/>
<circle cx="470.2" cy="376.1" r="2.75" fill="#8f08ea"/>
<circle cx="266.9" cy="358.1" r="2.75" fill="#7402f6"/>
<circle cx="322.0" cy="368.5" r="2.75" fill="#7d04fe"/>
<circle cx="126.3" cy="359.8" r="2.75" fill="#c33300"/>
<circle cx="423.6" cy="359.1" r="2.75" fill="#af1b2b"/>
<circle cx="253.0" cy="363.2" r="2.75" fill="#e88f00"/>
<circle cx="310.8" cy="367.9" r="2.75" fill="#a31288"/>
<circle cx="457.4" cy="370.4" r="2.75" fill="#7e04ff"/>
<circle cx="210.7" cy="360.2" r="2.75" fill="#c23200"/>
<circle cx="295.7" cy="371.2" r="2.75" fill="#970bce"/>
<circle cx="491.6" cy="356.0" r="2.75" fill="#8305fe"/>
<circle cx="528.9" cy="380.4" r="2.75" fill="#7302f4"/>
<circle cx="471.4" cy="350.7" r="2.75" fill="#7903fc"/>
<circle cx="466.4" cy="363.9" r="2.75" fill="#9209e1"/>
<circle cx="196.7" cy="373.5" r="2.75" fill="#8505fc"/>
<circle cx="556.1" cy="308.2" r="2.75" fill="#5b01b8"/>
<circle cx="101.9" cy="360.4" r="2.75" fill="#7d04ff"/>
<circle cx="394.9" cy="376.6" r="2.75" fill="#8305fe"/>
<circle cx="279.0" cy="347.1" r="2.75" fill="#5800ac"/>
<circle cx="415.6" cy="364.0" r="2.75" fill="#dd6b00"/>
<circle cx="524.5" cy="365.4" r="2.75" fill="#e07600"/>
<circle cx="303.3" cy="359.4" r="2.75" fill="#8e08ee"/>
<circle cx="80.0" cy="363.5" r="2.75" fill="#e48300"/>
<circle cx="257.5" cy="364.8" r="2.75" fill="#c53600"/>
<circle cx="560.1" cy="350.4" r="2.75" fill="#7102f2"/>
<circle cx="132.3" cy="358.4" r="2.75" fill="#8c07f1"/>
<circle cx="82.7" cy="357.2" r="2.75" fill="#8e08ec"/>
<circle cx="411.5" cy="349.7" r="2.75" fill="#5e01c0"/>
<circle cx="102.1" cy="372.4" r="2.75" fill="#7202f2"/>
<circle cx="338.5" cy="360.9" r="2.75" fill="#d65800"/>
<circle cx="253.1" cy="352.2" r="2.75" fill="#7502f7"/>
<circle cx="326.4" cy="343.5" r="2.75" fill="#500095"/>
<circle cx="255.5" cy="361.9" r="2.75" fill="#5c01ba"/>
<circle cx="196.6" cy="373.2" r="2.75" fill="#7f04ff"/>
<circle cx="534.5" cy="364.0" r="2.75" fill="#7202f3"/>
<circle cx="276.8" cy="357.9" r="2.75" fill="#b82400"/>
<circle cx="165.7" cy="368.5" r="2.75" fill="#8605fc"/>
<circle cx="281.7" cy="357.8" r="2.75" fill="#980bca"/>
<circle cx="216.1" cy="356.0" r="2.75" fill="#9d0eb1"/>
<circle cx="240.3" cy="364.1" r="2.75" fill="#cd4600"/>
<circle cx="445.9" cy="364.7" r="2.75" fill="#cb4000"/>
<circle cx="560.2" cy="366.6" r="2.75" fill="#7c03fe"/>
<circle cx="179.9" cy="363.2" r="2.75" fill="#a71471"/>
<circle cx="98.8" cy="354.7" r="2.75" fill="#7302f3"/>
<circle cx="482.7" cy="359.7" r="2.75" fill="#a0109c"/>
<circle cx="430.5" cy="361.2" r="2.75" fill="#c93e00"/>
<circle cx="409.5" cy="366.2" r="2.75" fill="#5f01c2"/>
<circle cx="113.6" cy="354.5" r="2.75" fill="#5900b1"/>
<circle cx="182.9" cy="372.4" r="2.75" fill="#7402f6"/>
<circle cx="356.4" cy="358.3" r="2.75" fill="#8004ff"/>
<circle cx="187.2" cy="383.0" r="2.75" fill="#6e02eb"/>
<circle cx="392.8" cy="347.6" r="2.75" fill="#6601d8"/>
<circle cx="317.8" cy="366.6" r="2.75" fill="#d35200"/>
<circle cx="381.3" cy="344.5" r="2.75" fill="#6301ce"/>
<circle cx="495.4" cy="367.4" r="2.75" fill="#ca4000"/>
<circle cx="99.8" cy="362.1" r="2.75" fill="#c73a00"/>
<circle cx="471.9" cy="301.2" r="2.75" fill="#5900b2"/>
<circle cx="421.4" cy="357.3" r="2.75" fill="#a21192"/>
<circle cx="93.6" cy="378.5" r="2.75" fill="#7002ef"/>
<circle cx="401.2" cy="365.6" r="2.75" fill="#b21d18"/>
<circle cx="102.1" cy="348.5" r="2.75" fill="#7102f1"/>
<circle cx="230.6" cy="361.4" r="2.75" fill="#7c03fe"/>
<circle cx="272.6" cy="359.5" r="2.75" fill="#9209e2"/>
<circle cx="238.0" cy="363.1" r="2.75" fill="#7202f3"/>
<circle cx="557.9" cy="351.1" r="2.75" fill="#7903fc"/>
<circle cx="156.4" cy="378.0" r="2.75" fill="#6e02ea"/>
<circle cx="405.0" cy="362.4" r="2.75" fill="#eb9d00"/>
<circle cx="432.8" cy="364.3" r="2.75" fill="#7f04ff"/>
<circle cx="473.3" cy="358.2" r="2.75" fill="#af1b2d"/>
<circle cx="221.5" cy="372.4" r="2.75" fill="#8706fa"/>
<circle cx="456.3" cy="359.2" r="2.75" fill="#d65a00"/>
<circle cx="513.8" cy="359.1" r="2.75" fill="#ca3f00"/>
<circle cx="117.1" cy="366.5" r="2.75" fill="#d35300"/>
<circle cx="294.8" cy="361.2" r="2.75" fill="#940adb"/>
<circle cx="380.0" cy="379.9" r="2.75" fill="#6c01e6"/>
<circle cx="472.7" cy="364.2" r="2.75" fill="#8a06f6"/>
<circle cx="156.4" cy="351.7" r="2.75" fill="#7b03fe"/>
<circle cx="233.2" cy="359.4" r="2.75" fill="#cb4100"/>
<circle cx="315.0" cy="363.4" r="2.75" fill="#9008e6"/>
<circle cx="302.2" cy="360.8" r="2.75" fill="#9f0fa6"/>
<circle cx="439.3" cy="359.0" r="2.75" fill="#9a0cc1"/>
<circle cx="465.2" cy="352.0" r="2.75" fill="#8004ff"/>
<circle cx="78.7" cy="357.9" r="2.75" fill="#eb9d00"/>
<circle cx="445.0" cy="362.8" r="2.75" fill="#bc2900"/>
<circle cx="244.9" cy="361.1" r="2.75" fill="#e78d00"/>
<circle cx="404.1" cy="358.8" r="2.75" fill="#b11c20"/>
<circle cx="459.1" cy="372.6" r="2.75" fill="#a5137f"/>
<circle cx="372.2" cy="377.1" r="2.75" fill="#7402f6"/>
<circle cx="423.5" cy="375.3" r="2.75" fill="#8705fb"/>
<circle cx="154.3" cy="375.9" r="2.75" fill="#7302f5"/>
<circle cx="400.1" cy="361.1" r="2.75" fill="#ac1849"/>
<circle cx="455.2" cy="378.1" r="2.75" fill="#7602f8"/>
<circle cx="294.7" cy="373.1" r="2.75" fill="#9309dd"/>
<circle cx="353.8" cy="353.8" r="2.75" fill="#7903fc"/>
<circle cx="500.5" cy="363.6" r="2.75" fill="#f5c700"/>
<circle cx="387.0" cy="359.8" r="2.75" fill="#8706fb"/>
<circle cx="494.6" cy="366.1" r="2.75" fill="#c23100"/>
<circle cx="285.5" cy="367.5" r="2.75" fill="#ba2700"/>
<circle cx="409.1" cy="359.0" r="2.75" fill="#7703f9"/>
<circle cx="175.6" cy="373.9" r="2.75" fill="#9309dd"/>
<circle cx="352.5" cy="358.6" r="2.75" fill="#950ad5"/>
<circle cx="137.9" cy="359.6" r="2.75" fill="#ad193c"/>
<circle cx="431.4" cy="359.7" r="2.75" fill="#ca4000"/>
<circle cx="295.9" cy="360.5" r="2.75" fill="#7302f4"/>
<circle cx="534.0" cy="367.3" r="2.75" fill="#b92600"/>
<circle cx="443.7" cy="376.6" r="2.75" fill="#8c07f1"/>
<circle cx="453.8" cy="365.9" r="2.75" fill="#a7146b"/>
<circle cx="449.6" cy="377.8" r="2.75" fill="#7102f0"/>
<circle cx="337.0" cy="355.6" r="2.75" fill="#8b07f5"/>
<circle cx="327.9" cy="362.6" r="2.75" fill="#c83c00"/>
<circle cx="537.9" cy="367.0" r="2.75" fill="#d96100"/>
<circle cx="263.7" cy="365.7" r="2.75" fill="#d04c00"/>
<circle cx="512.4" cy="360.2" r="2.75" fill="#d24f00"/>
<circle cx="173.8" cy="365.8" r="2.75" fill="#dc6a00"/>
<circle cx="80.5" cy="362.9" r="2.75" fill="#c73900"/>
<circle cx="458.3" cy="363.6" r="2.75" fill="#eb9d00"/>
<circle cx="172.8" cy="356.9" r="2.75" fill="#9008e9"/>
<circle cx="435.7" cy="368.8" r="2.75" fill="#8505fd"/>
<circle cx="104.6" cy="363.3" r="2.75" fill="#8706fa"/>
<circle cx="468.3" cy="362.6" r="2.75" fill="#8806f9"/>
<circle cx="367.3" cy="358.2" r="2.75" fill="#b52100"/>
<circle cx="345.6" cy="360.1" r="2.75" fill="#bf2e00"/>
<circle cx="215.2" cy="361.0" r="2.75" fill="#c23200"/>
<circle cx="443.4" cy="363.9" r="2.75" fill="#ca3e00"/>
<circle cx="472.6" cy="354.6" r="2.75" fill="#8706fa"/>
<circle cx="549.5" cy="363.0" r="2.75" fill="#c23200"/>
<circle cx="162.9" cy="363.1" r="2.75" fill="#dd6c00"/>
<circle cx="315.9" cy="359.2" r="2.75" fill="#c63800"/>
<circle cx="453.2" cy="358.2" r="2.75" fill="#b21e12"/>
<circle cx="390.8" cy="359.0" r="2.75" fill="#cb4000"/>
<circle cx="522.6" cy="362.9" r="2.75" fill="#eb9c00"/>
<circle cx="537.9" cy="368.1" r="2.75" fill="#9a0cc0"/>
<circle cx="556.1" cy="372.0" r="2.75" fill="#a5137d"/>
<circle cx="391.7" cy="376.9" r="2.75" fill="#8505fc"/>
<circle cx="195.9" cy="364.8" r="2.75" fill="#b52000"/>
<circle cx="427.0" cy="360.2" r="2.75" fill="#960bd1"/>
<circle cx="564.8" cy="357.6" r="2.75" fill="#ac184a"/>
<circle cx="172.9" cy="365.0" r="2.75" fill="#a0109e"/>
<circle cx="291.5" cy="368.6" r="2.75" fill="#c23100"/>
<circle cx="533.0" cy="357.6" r="2.75" fill="#8d07ef"/>
<circle cx="542.9" cy="364.1" r="2.75" fill="#9d0eb2"/>
<circle cx="418.6" cy="365.3" r="2.75" fill="#f6cd00"/>
<circle cx="399.4" cy="373.3" r="2.75" fill="#8e08ed"/>
<circle cx="355.7" cy="364.9" r="2.75" fill="#b62200"/>
<circle cx="535.1" cy="362.6" r="2.75" fill="#c73900"/>
<circle cx="344.2" cy="362.4" r="2.75" fill="#f6cd00"/>
<circle cx="102.3" cy="363.6" r="2.75" fill="#f2ba00"/>
<circle cx="334.1" cy="369.1" r="2.75" fill="#8f08ea"/>
<circle cx="337.7" cy="358.4" r="2.75" fill="#ad193e"/>
<circle cx="161.2" cy="366.3" r="2.75" fill="#c73a00"/>
<circle cx="166.4" cy="364.6" r="2.75" fill="#c43500"/>
<circle cx="354.1" cy="361.1" r="2.75" fill="#f6cd00"/>
<circle cx="119.6" cy="362.4" r="2.75" fill="#efae00"/>
<circle cx="92.2" cy="367.7" r="2.75" fill="#d65a00"/>
<circle cx="306.1" cy="365.8" r="2.75" fill="#aa1756"/>
<circle cx="93.7" cy="367.0" r="2.75" fill="#a11097"/>
<circle cx="122.2" cy="360.7" r="2.75" fill="#d96200"/>
<circle cx="376.9" cy="368.4" r="2.75" fill="#a81566"/>
<circle cx="146.7" cy="357.5" r="2.75" fill="#a00f9f"/>
<circle cx="370.2" cy="362.8" r="2.75" fill="#950ad6"/>
<circle cx="335.1" cy="364.5" r="2.75" fill="#d75c00"/>
<circle cx="400.0" cy="357.4" r="2.75" fill="#ae1939"/>
<circle cx="523.8" cy="366.5" r="2.75" fill="#c93e00"/>
<circle cx="350.2" cy="366.5" r="2.75" fill="#e17900"/>
<circle cx="361.8" cy="370.1" r="2.75" fill="#9a0cbe"/>
<circle cx="379.6" cy="361.4" r="2.75" fill="#ae1a34"/>
<circle cx="269.3" cy="366.4" r="2.75" fill="#b21d17"/>
<circle cx="448.9" cy="364.5" r="2.75" fill="#a21190"/>
<circle cx="399.6" cy="366.6" r="2.75" fill="#e58600"/>
<circle cx="311.3" cy="365.3" r="2.75" fill="#c33400"/>
<circle cx="88.7" cy="366.7" r="2.75" fill="#c93d00"/>
<circle cx="329.9" cy="367.7" r="2.75" fill="#ae1a33"/>
<circle cx="110.5" cy="358.8" r="2.75" fill="#aa1659"/>
<circle cx="421.5" cy="367.1" r="2.75" fill="#dc6900"/>
<circle cx="383.9" cy="363.6" r="2.75" fill="#f9db00"/>
<circle cx="331.2" cy="360.6" r="2.75" fill="#dc6900"/>
<circle cx="345.1" cy="362.8" r="2.75" fill="#c53600"/>
<circle cx="424.0" cy="366.8" r="2.75" fill="#c53500"/>
<circle cx="555.0" cy="360.5" r="2.75" fill="#c73a00"/>
<circle cx="286.8" cy="360.2" r="2.75" fill="#b42000"/>
<circle cx="144.9" cy="367.6" r="2.75" fill="#b72200"/>
<circle cx="271.4" cy="359.5" r="2.75" fill="#ab174f"/>
<circle cx="344.9" cy="365.8" r="2.75" fill="#e58400"/>
<circle cx="379.9" cy="361.7" r="2.75" fill="#a61379"/>
<circle cx="105.5" cy="365.4" r="2.75" fill="#da6300"/>
<circle cx="277.4" cy="361.1" r="2.75" fill="#d55800"/>
<circle cx="255.1" cy="367.9" r="2.75" fill="#c63700"/>
<circle cx="418.9" cy="359.1" r="2.75" fill="#a5127f"/>
<circle cx="427.7" cy="365.6" r="2.75" fill="#9c0db4"/>
<circle cx="453.2" cy="366.3" r="2.75" fill="#d65a00"/>
<circle cx="274.7" cy="363.6" r="2.75" fill="#f9db00"/>
<circle cx="160.5" cy="367.8" r="2.75" fill="#e89200"/>
<circle cx="302.6" cy="367.6" r="2.75" fill="#b52100"/>
<circle cx="478.7" cy="361.5" r="2.75" fill="#eea800"/>
<circle cx="197.8" cy="363.6" r="2.75" fill="#fbe900"/>
<circle cx="195.3" cy="361.9" r="2.75" fill="#fae200"/>
<circle cx="449.3" cy="365.5" r="2.75" fill="#c53500"/>
<circle cx="130.5" cy="365.2" r="2.75" fill="#ac1849"/>
<circle cx="536.1" cy="360.1" r="2.75" fill="#c63700"/>
<circle cx="288.3" cy="362.9" r="2.75" fill="#eb9d00"/>
<circle cx="482.4" cy="361.4" r="2.75" fill="#e27b00"/>
<circle cx="529.6" cy="356.8" r="2.75" fill="#ad1941"/>
<circle cx="180.1" cy="365.3" r="2.75" fill="#cd4400"/>
<circle cx="184.3" cy="357.8" r="2.75" fill="#ad1940"/>
<circle cx="224.7" cy="364.6" r="2.75" fill="#eda300"/>
<circle cx="529.7" cy="361.4" r="2.75" fill="#cd4500"/>
<circle cx="133.4" cy="365.7" r="2.75" fill="#ca3f00"/>
<circle cx="411.2" cy="366.1" r="2.75" fill="#f6cd00"/>
<circle cx="486.5" cy="367.0" r="2.75" fill="#af1a30"/>
<circle cx="294.5" cy="362.4" r="2.75" fill="#f2ba00"/>
<circle cx="477.9" cy="368.7" r="2.75" fill="#d45300"/>
<circle cx="517.7" cy="369.0" r="2.75" fill="#c23200"/>
<circle cx="286.0" cy="365.9" r="2.75" fill="#e48100"/>
<circle cx="319.9" cy="358.2" r="2.75" fill="#b41f06"/>
<circle cx="122.8" cy="366.4" r="2.75" fill="#c53700"/>
<circle cx="139.0" cy="357.4" r="2.75" fill="#f9db00"/>
<circle cx="249.0" cy="363.5" r="2.75" fill="#efae00"/>
<circle cx="318.3" cy="367.3" r="2.75" fill="#ba2600"/>
<circle cx="148.4" cy="367.1" r="2.75" fill="#c43500"/>
<circle cx="430.9" cy="364.2" r="2.75" fill="#d45400"/>
<circle cx="250.5" cy="367.0" r="2.75" fill="#c53600"/>
<circle cx="454.2" cy="359.0" r="2.75" fill="#b62100"/>
<circle cx="348.4" cy="361.0" r="2.75" fill="#c83b00"/>
<circle cx="265.2" cy="361.6" r="2.75" fill="#c83b00"/>
<circle cx="442.9" cy="361.5" r="2.75" fill="#bd2b00"/>
<circle cx="468.2" cy="369.0" r="2.75" fill="#bb2800"/>
<circle cx="182.2" cy="360.5" r="2.75" fill="#cc4300"/>
<circle cx="481.9" cy="364.5" r="2.75" fill="#da6300"/>
<circle cx="109.8" cy="364.7" r="2.75" fill="#e17700"/>
<circle cx="540.8" cy="364.6" r="2.75" fill="#de6e00"/>
<circle cx="545.9" cy="368.3" r="2.75" fill="#cb4100"/>
<circle cx="486.8" cy="363.8" r="2.75" fill="#da6400"/>
<circle cx="271.4" cy="363.9" r="2.75" fill="#db6600"/>
<circle cx="248.6" cy="363.5" r="2.75" fill="#d85f00"/>
<circle cx="231.6" cy="364.4" r="2.75" fill="#eb9c00"/>
<circle cx="280.9" cy="364.2" r="2.75" fill="#de7000"/>
<circle cx="437.2" cy="359.1" r="2.75" fill="#c13000"/>
<circle cx="121.1" cy="365.2" r="2.75" fill="#ea9a00"/>
<circle cx="247.0" cy="360.0" r="2.75" fill="#db6600"/>
<circle cx="309.3" cy="367.5" r="2.75" fill="#ea9800"/>
<circle cx="155.7" cy="366.1" r="2.75" fill="#dd6c00"/>
<circle cx="401.2" cy="362.7" r="2.75" fill="#c93d00"/>
<circle cx="471.3" cy="369.8" r="2.75" fill="#c63700"/>
<circle cx="272.0" cy="367.7" r="2.75" fill="#db6600"/>
<circle cx="434.7" cy="356.2" r="2.75" fill="#ea9700"/>
<circle cx="398.6" cy="361.5" r="2.75" fill="#eca100"/>
<circle cx="133.7" cy="364.9" r="2.75" fill="#da6300"/>
<circle cx="164.7" cy="363.6" r="2.75" fill="#d35300"/>
<circle cx="219.1" cy="362.5" r="2.75" fill="#db6600"/>
<circle cx="548.9" cy="366.1" r="2.75" fill="#dd6c00"/>
<circle cx="216.3" cy="365.0" r="2.75" fill="#eb9b00"/>
<circle cx="551.9" cy="361.1" r="2.75" fill="#db6700"/>
<circle cx="345.5" cy="367.0" r="2.75" fill="#eda500"/>
<circle cx="176.7" cy="360.9" r="2.75" fill="#df7200"/>
<circle cx="481.4" cy="364.4" r="2.75" fill="#e07400"/>
<circle cx="550.1" cy="365.0" r="2.75" fill="#eca200"/>
</g>
<g id="cb" shape-rendering="crispEdges">
<rect x="577.6" y="13" width="24.0" height="1" fill="#fffd08"/>
<rect x="577.6" y="14" width="24.0" height="1" fill="#fffc38"/>
<rect x="577.6" y="15" width="24.0" height="1" fill="#fefb38"/>
<rect x="577.6" y="16" width="24.0" height="1" fill="#fef92f"/>
<rect x="577.6" y="17" width="24.0" height="1" fill="#fdf500"/>
<rect x="577.6" y="18" width="24.0" height="1" fill="#fdf400"/>
<rect x="577.6" y="19" width="24.0" height="1" fill="#fdf426"/>
<rect x="577.6" y="20" width="24.0" height="1" fill="#fdf338"/>
<rect x="577.6" y="21" width="24.0" height="1" fill="#fdf238"/>
<rect x="577.6" y="22" width="24.0" height="1" fill="#fced0f"/>
<rect x="577.6" y="23" width="24.0" height="1" fill="#fbea00"/>
<rect x="577.6" y="24" width="24.0" height="1" fill="#fbea13"/>
<rect x="577.6" y="25" width="24.0" height="1" fill="#fcec38"/>
<rect x="577.6" y="26" width="24.0" height="1" fill="#fbea38"/>
<rect x="577.6" y="27" width="24.0" height="1" fill="#fbe722"/>
<rect x="577.6" y="28" width="24.0" height="1" fill="#fae100"/>
<rect x="577.6" y="29" width="24.0" height="1" fill="#f9df03"/>
<rect x="577.6" y="30" width="24.0" height="1" fill="#fae433"/>
<rect x="577.6" y="31" width="24.0" height="1" fill="#fae338"/>
<rect x="577.6" y="32" width="24.0" height="1" fill="#fae236"/>
<rect x="577.6" y="33" width="24.0" height="1" fill="#f8d905"/>
<rect x="577.6" y="34" width="24.0" height="1" fill="#f8d600"/>
<rect x="577.6" y="35" width="24.0" height="1" fill="#f8da20"/>
<rect x="577.6" y="36" width="24.0" height="1" fill="#f9dc38"/>
<rect x="577.6" y="37" width="24.0" height="1" fill="#f9db38"/>
<rect x="577.6" y="38" width="24.0" height="1" fill="#f7d316"/>
<rect x="577.6" y="39" width="24.0" height="1" fill="#f6cd00"/>
<rect x="577.6" y="40" width="24.0" height="1" fill="#f6ce0d"/>
<rect x="577.6" y="41" width="24.0" height="1" fill="#f7d638"/>
<rect x="577.6" y="42" width="24.0" height="1" fill="#f7d438"/>
<rect x="577.6" y="43" width="24.0" height="1" fill="#f6d029"/>
<rect x="577.6" y="44" width="24.0" height="1" fill="#f4c500"/>
<rect x="577.6" y="45" width="24.0" height="1" fill="#f4c300"/>
<rect x="577.6" y="46" width="24.0" height="1" fill="#f6cd2d"/>
<rect x="577.6" y="47" width="24.0" height="1" fill="#f6ce38"/>
<rect x="577.6" y="48" width="24.0" height="1" fill="#f6cd38"/>
<rect x="577.6" y="49" width="24.0" height="1" fill="#f3bf0a"/>
<rect x="577.6" y="50" width="24.0" height="1" fill="#f2bb00"/>
<rect x="577.6" y="51" width="24.0" height="1" fill="#f3c119"/>
<rect x="577.6" y="52" width="24.0" height="1" fill="#f4c838"/>
<rect x="577.6" y="53" width="24.0" height="1" fill="#f4c638"/>
<rect x="577.6" y="54" width="24.0" height="1" fill="#f2bd1c"/>
<rect x="577.6" y="55" width="24.0" height="1" fill="#f0b300"/>
<rect x="577.6" y="56" width="24.0" height="1" fill="#f1b408"/>
<rect x="577.6" y="57" width="24.0" height="1" fill="#f3c238"/>
<rect x="577.6" y="58" width="24.0" height="1" fill="#f3c038"/>
<rect x="577.6" y="59" width="24.0" height="1" fill="#f2bc2f"/>
<rect x="577.6" y="60" width="24.0" height="1" fill="#efac00"/>
<rect x="577.6" y="61" width="24.0" height="1" fill="#eeaa00"/>
<rect x="577.6" y="62" width="24.0" height="1" fill="#f1b626"/>
<rect x="577.6" y="63" width="24.0" height="1" fill="#f1ba38"/>
<rect x="577.6" y="64" width="24.0" height="1" fill="#f1b938"/>
<rect x="577.6" y="65" width="24.0" height="1" fill="#eeaa0f"/>
<rect x="577.6" y="66" width="24.0" height="1" fill="#eda300"/>
<rect x="577.6" y="67" width="24.0" height="1" fill="#eea813"/>
<rect x="577.6" y="68" width="24.0" height="1" fill="#f0b538"/>
<rect x="577.6" y="69" width="24.0" height="1" fill="#f0b438"/>
<rect x="577.6" y="70" width="24.0" height="1" fill="#eeaa22"/>
<rect x="577.6" y="71" width="24.0" height="1" fill="#eb9b00"/>
<rect x="577.6" y="72" width="24.0" height="1" fill="#eb9b03"/>
<rect x="577.6" y="73" width="24.0" height="1" fill="#eead33"/>
<rect x="577.6" y="74" width="24.0" height="1" fill="#eeae38"/>
<rect x="577.6" y="75" width="24.0" height="1" fill="#eeac36"/>
<rect x="577.6" y="76" width="24.0" height="1" fill="#e99605"/>
<rect x="577.6" y="77" width="24.0" height="1" fill="#e99300"/>
<rect x="577.6" y="78" width="24.0" height="1" fill="#eb9f20"/>
<rect x="577.6" y="79" width="24.0" height="1" fill="#eda938"/>
<rect x="577.6" y="80" width="24.0" height="1" fill="#eda838"/>
<rect x="577.6" y="81" width="24.0" height="1" fill="#e99716"/>
<rect x="577.6" y="82" width="24.0" height="1" fill="#e78c00"/>
<rect x="577.6" y="83" width="24.0" height="1" fill="#e8910d"/>
<rect x="577.6" y="84" width="24.0" height="1" fill="#eca438"/>
<rect x="577.6" y="85" width="24.0" height="1" fill="#eba338"/>
<rect x="577.6" y="86" width="24.0" height="1" fill="#ea9a29"/>
<rect x="577.6" y="87" width="24.0" height="1" fill="#e58600"/>
<rect x="577.6" y="88" width="24.0" height="1" fill="#e58500"/>
<rect x="577.6" y="89" width="24.0" height="1" fill="#e9992d"/>
<rect x="577.6" y="90" width="24.0" height="1" fill="#ea9e38"/>
<rect x="577.6" y="91" width="24.0" height="1" fill="#ea9d38"/>
<rect x="577.6" y="92" width="24.0" height="1" fill="#e4840a"/>
<rect x="577.6" y="93" width="24.0" height="1" fill="#e37e00"/>
<rect x="577.6" y="94" width="24.0" height="1" fill="#e58a19"/>
<rect x="577.6" y="95" width="24.0" height="1" fill="#e89938"/>
<rect x="577.6" y="96" width="24.0" height="1" fill="#e89838"/>
<rect x="577.6" y="97" width="24.0" height="1" fill="#e5881c"/>
<rect x="577.6" y="98" width="24.0" height="1" fill="#e17800"/>
<rect x="577.6" y="99" width="24.0" height="1" fill="#e17b08"/>
<rect x="577.6" y="100" width="24.0" height="1" fill="#e79438"/>
<rect x="577.6" y="101" width="24.0" height="1" fill="#e79338"/>
<rect x="577.6" y="102" width="24.0" height="1" fill="#e58d2f"/>
<rect x="577.6" y="103" width="24.0" height="1" fill="#df7200"/>
<rect x="577.6" y="104" width="24.0" height="1" fill="#df7100"/>
<rect x="577.6" y="105" width="24.0" height="1" fill="#e38626"/>
<rect x="577.6" y="106" width="24.0" height="1" fill="#e58f38"/>
<rect x="577.6" y="107" width="24.0" height="1" fill="#e58e38"/>
<rect x="577.6" y="108" width="24.0" height="1" fill="#df750f"/>
<rect x="577.6" y="109" width="24.0" height="1" fill="#dd6c00"/>
<rect x="577.6" y="110" width="24.0" height="1" fill="#df7613"/>
<rect x="577.6" y="111" width="24.0" height="1" fill="#e48a38"/>
<rect x="577.6" y="112" width="24.0" height="1" fill="#e38938"/>
<rect x="577.6" y="113" width="24.0" height="1" fill="#e07c22"/>
<rect x="577.6" y="114" width="24.0" height="1" fill="#db6600"/>
<rect x="577.6" y="115" width="24.0" height="1" fill="#db6703"/>
<rect x="577.6" y="116" width="24.0" height="1" fill="#e28333"/>
<rect x="577.6" y="117" width="24.0" height="1" fill="#e28538"/>
<rect x="577.6" y="118" width="24.0" height="1" fill="#e18336"/>
<rect x="577.6" y="119" width="24.0" height="1" fill="#da6405"/>
<rect x="577.6" y="120" width="24.0" height="1" fill="#d96000"/>
<rect x="577.6" y="121" width="24.0" height="1" fill="#dd7320"/>
<rect x="577.6" y="122" width="24.0" height="1" fill="#e08138"/>
<rect x="577.6" y="123" width="24.0" height="1" fill="#e08038"/>
<rect x="577.6" y="124" width="24.0" height="1" fill="#da6a16"/>
<rect x="577.6" y="125" width="24.0" height="1" fill="#d75b00"/>
<rect x="577.6" y="126" width="24.0" height="1" fill="#d8620d"/>
<rect x="577.6" y="127" width="24.0" height="1" fill="#df7d38"/>
<rect x="577.6" y="128" width="24.0" height="1" fill="#df7d38"/>
<rect x="577.6" y="129" width="24.0" height="1" fill="#dc7229"/>
<rect x="577.6" y="130" width="24.0" height="1" fill="#d55600"/>
<rect x="577.6" y="131" width="24.0" height="1" fill="#d45500"/>
<rect x="577.6" y="132" width="24.0" height="1" fill="#db722d"/>
<rect x="577.6" y="133" width="24.0" height="1" fill="#dd7938"/>
<rect x="577.6" y="134" width="24.0" height="1" fill="#dd7838"/>
<rect x="577.6" y="135" width="24.0" height="1" fill="#d4580a"/>
<rect x="577.6" y="136" width="24.0" height="1" fill="#d25000"/>
<rect x="577.6" y="137" width="24.0" height="1" fill="#d66119"/>
<rect x="577.6" y="138" width="24.0" height="1" fill="#dc7538"/>
<rect x="577.6" y="139" width="24.0" height="1" fill="#db7538"/>
<rect x="577.6" y="140" width="24.0" height="1" fill="#d6601c"/>
<rect x="577.6" y="141" width="24.0" height="1" fill="#d04c00"/>
<rect x="577.6" y="142" width="24.0" height="1" fill="#d15008"/>
<rect x="577.6" y="143" width="24.0" height="1" fill="#da7238"/>
<rect x="577.6" y="144" width="24.0" height="1" fill="#da7138"/>
<rect x="577.6" y="145" width="24.0" height="1" fill="#d86a2f"/>
<rect x="577.6" y="146" width="24.0" height="1" fill="#ce4800"/>
<rect x="577.6" y="147" width="24.0" height="1" fill="#ce4700"/>
<rect x="577.6" y="148" width="24.0" height="1" fill="#d56226"/>
<rect x="577.6" y="149" width="24.0" height="1" fill="#d86e38"/>
<rect x="577.6" y="150" width="24.0" height="1" fill="#d86d38"/>
<rect x="577.6" y="151" width="24.0" height="1" fill="#cf4f0f"/>
<rect x="577.6" y="152" width="24.0" height="1" fill="#cc4200"/>
<rect x="577.6" y="153" width="24.0" height="1" fill="#cf5013"/>
<rect x="577.6" y="154" width="24.0" height="1" fill="#d66b38"/>
<rect x="577.6" y="155" width="24.0" height="1" fill="#d66a38"/>
<rect x="577.6" y="156" width="24.0" height="1" fill="#d15922"/>
<rect x="577.6" y="157" width="24.0" height="1" fill="#ca3f00"/>
<rect x="577.6" y="158" width="24.0" height="1" fill="#ca4003"/>
<rect x="577.6" y="159" width="24.0" height="1" fill="#d46433"/>
<rect x="577.6" y="160" width="24.0" height="1" fill="#d46738"/>
<rect x="577.6" y="161" width="24.0" height="1" fill="#d46536"/>
<rect x="577.6" y="162" width="24.0" height="1" fill="#c93e05"/>
<rect x="577.6" y="163" width="24.0" height="1" fill="#c73a00"/>
<rect x="577.6" y="164" width="24.0" height="1" fill="#ce5220"/>
<rect x="577.6" y="165" width="24.0" height="1" fill="#d36438"/>
<rect x="577.6" y="166" width="24.0" height="1" fill="#d36438"/>
<rect x="577.6" y="167" width="24.0" height="1" fill="#ca4816"/>
<rect x="577.6" y="168" width="24.0" height="1" fill="#c53600"/>
<rect x="577.6" y="169" width="24.0" height="1" fill="#c8400d"/>
<rect x="577.6" y="170" width="24.0" height="1" fill="#d16138"/>
<rect x="577.6" y="171" width="24.0" height="1" fill="#d16138"/>
<rect x="577.6" y="172" width="24.0" height="1" fill="#cd5429"/>
<rect x="577.6" y="173" width="24.0" height="1" fill="#c33300"/>
<rect x="577.6" y="174" width="24.0" height="1" fill="#c33200"/>
<rect x="577.6" y="175" width="24.0" height="1" fill="#cd562d"/>
<rect x="577.6" y="176" width="24.0" height="1" fill="#cf5e38"/>
<rect x="577.6" y="177" width="24.0" height="1" fill="#cf5e38"/>
<rect x="577.6" y="178" width="24.0" height="1" fill="#c3380a"/>
<rect x="577.6" y="179" width="24.0" height="1" fill="#c02f00"/>
<rect x="577.6" y="180" width="24.0" height="1" fill="#c64319"/>
<rect x="577.6" y="181" width="24.0" height="1" fill="#cd5c38"/>
<rect x="577.6" y="182" width="24.0" height="1" fill="#cd5b38"/>
<rect x="577.6" y="183" width="24.0" height="1" fill="#c6441c"/>
<rect x="577.6" y="184" width="24.0" height="1" fill="#be2c00"/>
<rect x="577.6" y="185" width="24.0" height="1" fill="#c03208"/>
<rect x="577.6" y="186" width="24.0" height="1" fill="#cc5938"/>
<rect x="577.6" y="187" width="24.0" height="1" fill="#cb5938"/>
<rect x="577.6" y="188" width="24.0" height="1" fill="#c9512f"/>
<rect x="577.6" y="189" width="24.0" height="1" fill="#bc2900"/>
<rect x="577.6" y="190" width="24.0" height="1" fill="#bc2800"/>
<rect x="577.6" y="191" width="24.0" height="1" fill="#c54826"/>
<rect x="577.6" y="192" width="24.0" height="1" fill="#ca5738"/>
<rect x="577.6" y="193" width="24.0" height="1" fill="#c95638"/>
<rect x="577.6" y="194" width="24.0" height="1" fill="#be330f"/>
<rect x="577.6" y="195" width="24.0" height="1" fill="#b92600"/>
<rect x="577.6" y="196" width="24.0" height="1" fill="#be3513"/>
<rect x="577.6" y="197" width="24.0" height="1" fill="#c85538"/>
<rect x="577.6" y="198" width="24.0" height="1" fill="#c85438"/>
<rect x="577.6" y="199" width="24.0" height="1" fill="#c14122"/>
<rect x="577.6" y="200" width="24.0" height="1" fill="#b72300"/>
<rect x="577.6" y="201" width="24.0" height="1" fill="#b72503"/>
<rect x="577.6" y="202" width="24.0" height="1" fill="#c54e33"/>
<rect x="577.6" y="203" width="24.0" height="1" fill="#c65238"/>
<rect x="577.6" y="204" width="24.0" height="1" fill="#c54f36"/>
<rect x="577.6" y="205" width="24.0" height="1" fill="#b62405"/>
<rect x="577.6" y="206" width="24.0" height="1" fill="#b42001"/>
<rect x="577.6" y="207" width="24.0" height="1" fill="#bd3b24"/>
<rect x="577.6" y="208" width="24.0" height="1" fill="#c4503f"/>
<rect x="577.6" y="209" width="24.0" height="1" fill="#c45042"/>
<rect x="577.6" y="210" width="24.0" height="1" fill="#b93125"/>
<rect x="577.6" y="211" width="24.0" height="1" fill="#b21d15"/>
<rect x="577.6" y="212" width="24.0" height="1" fill="#b52925"/>
<rect x="577.6" y="213" width="24.0" height="1" fill="#c24e4f"/>
<rect x="577.6" y="214" width="24.0" height="1" fill="#c24e52"/>
<rect x="577.6" y="215" width="24.0" height="1" fill="#bd4049"/>
<rect x="577.6" y="216" width="24.0" height="1" fill="#b01b2a"/>
<rect x="577.6" y="217" width="24.0" height="1" fill="#af1b2e"/>
<rect x="577.6" y="218" width="24.0" height="1" fill="#bd4256"/>
<rect x="577.6" y="219" width="24.0" height="1" fill="#c04c62"/>
<rect x="577.6" y="220" width="24.0" height="1" fill="#bf4c66"/>
<rect x="577.6" y="221" width="24.0" height="1" fill="#b02246"/>
<rect x="577.6" y="222" width="24.0" height="1" fill="#ad1942"/>
<rect x="577.6" y="223" width="24.0" height="1" fill="#b42f59"/>
<rect x="577.6" y="224" width="24.0" height="1" fill="#be4b72"/>
<rect x="577.6" y="225" width="24.0" height="1" fill="#be4a75"/>
<rect x="577.6" y="226" width="24.0" height="1" fill="#b43065"/>
<rect x="577.6" y="227" width="24.0" height="1" fill="#aa1756"/>
<rect x="577.6" y="228" width="24.0" height="1" fill="#ac1d5f"/>
<rect x="577.6" y="229" width="24.0" height="1" fill="#bc4981"/>
<rect x="577.6" y="230" width="24.0" height="1" fill="#bc4984"/>
<rect x="577.6" y="231" width="24.0" height="1" fill="#b84082"/>
<rect x="577.6" y="232" width="24.0" height="1" fill="#a81569"/>
<rect x="577.6" y="233" width="24.0" height="1" fill="#a7146d"/>
<rect x="577.6" y="234" width="24.0" height="1" fill="#b43786"/>
<rect x="577.6" y="235" width="24.0" height="1" fill="#ba4793"/>
<rect x="577.6" y="236" width="24.0" height="1" fill="#b94796"/>
<rect x="577.6" y="237" width="24.0" height="1" fill="#ab2184"/>
<rect x="577.6" y="238" width="24.0" height="1" fill="#a5127f"/>
<rect x="577.6" y="239" width="24.0" height="1" fill="#ab248c"/>
<rect x="577.6" y="240" width="24.0" height="1" fill="#b846a1"/>
<rect x="577.6" y="241" width="24.0" height="1" fill="#b746a4"/>
<rect x="577.6" y="242" width="24.0" height="1" fill="#af319d"/>
<rect x="577.6" y="243" width="24.0" height="1" fill="#a21191"/>
<rect x="577.6" y="244" width="24.0" height="1" fill="#a31395"/>
<rect x="577.6" y="245" width="24.0" height="1" fill="#b440ac"/>
<rect x="577.6" y="246" width="24.0" height="1" fill="#b544b1"/>
<rect x="577.6" y="247" width="24.0" height="1" fill="#b442b2"/>
<rect x="577.6" y="248" width="24.0" height="1" fill="#a114a3"/>
<rect x="577.6" y="249" width="24.0" height="1" fill="#9f0fa4"/>
<rect x="577.6" y="250" width="24.0" height="1" fill="#aa2db2"/>
<rect x="577.6" y="251" width="24.0" height="1" fill="#b343bd"/>
<rect x="577.6" y="252" width="24.0" height="1" fill="#b343c0"/>
<rect x="577.6" y="253" width="24.0" height="1" fill="#a522b7"/>
<rect x="577.6" y="254" width="24.0" height="1" fill="#9c0eb4"/>
<rect x="577.6" y="255" width="24.0" height="1" fill="#a11aba"/>
<rect x="577.6" y="256" width="24.0" height="1" fill="#b142c9"/>
<rect x="577.6" y="257" width="24.0" height="1" fill="#b142cb"/>
<rect x="577.6" y="258" width="24.0" height="1" fill="#aa33c9"/>
<rect x="577.6" y="259" width="24.0" height="1" fill="#9a0cc2"/>
<rect x="577.6" y="260" width="24.0" height="1" fill="#990cc4"/>
<rect x="577.6" y="261" width="24.0" height="1" fill="#ab36d1"/>
<rect x="577.6" y="262" width="24.0" height="1" fill="#af41d5"/>
<rect x="577.6" y="263" width="24.0" height="1" fill="#ae41d7"/>
<rect x="577.6" y="264" width="24.0" height="1" fill="#9b14d0"/>
<rect x="577.6" y="265" width="24.0" height="1" fill="#960bd1"/>
<rect x="577.6" y="266" width="24.0" height="1" fill="#a023d8"/>
<rect x="577.6" y="267" width="24.0" height="1" fill="#ac40df"/>
<rect x="577.6" y="268" width="24.0" height="1" fill="#ac40e0"/>
<rect x="577.6" y="269" width="24.0" height="1" fill="#a025de"/>
<rect x="577.6" y="270" width="24.0" height="1" fill="#930adc"/>
<rect x="577.6" y="271" width="24.0" height="1" fill="#9611df"/>
<rect x="577.6" y="272" width="24.0" height="1" fill="#aa3fe7"/>
<rect x="577.6" y="273" width="24.0" height="1" fill="#aa3fe8"/>
<rect x="577.6" y="274" width="24.0" height="1" fill="#a636e9"/>
<rect x="577.6" y="275" width="24.0" height="1" fill="#9109e6"/>
<rect x="577.6" y="276" width="24.0" height="1" fill="#9008e8"/>
<rect x="577.6" y="277" width="24.0" height="1" fill="#a02ded"/>
<rect x="577.6" y="278" width="24.0" height="1" fill="#a73eef"/>
<rect x="577.6" y="279" width="24.0" height="1" fill="#a73ef1"/>
<rect x="577.6" y="280" width="24.0" height="1" fill="#9416ef"/>
<rect x="577.6" y="281" width="24.0" height="1" fill="#8d07ef"/>
<rect x="577.6" y="282" width="24.0" height="1" fill="#951af2"/>
<rect x="577.6" y="283" width="24.0" height="1" fill="#a53ef5"/>
<rect x="577.6" y="284" width="24.0" height="1" fill="#a53df6"/>
<rect x="577.6" y="285" width="24.0" height="1" fill="#9a28f6"/>
<rect x="577.6" y="286" width="24.0" height="1" fill="#8a06f6"/>
<rect x="577.6" y="287" width="24.0" height="1" fill="#8b09f7"/>
<rect x="577.6" y="288" width="24.0" height="1" fill="#a038f9"/>
<rect x="577.6" y="289" width="24.0" height="1" fill="#a23dfa"/>
<rect x="577.6" y="290" width="24.0" height="1" fill="#a13afb"/>
<rect x="577.6" y="291" width="24.0" height="1" fill="#890afb"/>
<rect x="577.6" y="292" width="24.0" height="1" fill="#8605fb"/>
<rect x="577.6" y="293" width="24.0" height="1" fill="#9524fc"/>
<rect x="577.6" y="294" width="24.0" height="1" fill="#a03cfd"/>
<rect x="577.6" y="295" width="24.0" height="1" fill="#9f3cfd"/>
<rect x="577.6" y="296" width="24.0" height="1" fill="#8e1afe"/>
<rect x="577.6" y="297" width="24.0" height="1" fill="#8305fe"/>
<rect x="577.6" y="298" width="24.0" height="1" fill="#8911fe"/>
<rect x="577.6" y="299" width="24.0" height="1" fill="#9d3cff"/>
<rect x="577.6" y="300" width="24.0" height="1" fill="#9d3bff"/>
<rect x="577.6" y="301" width="24.0" height="1" fill="#952dff"/>
<rect x="577.6" y="302" width="24.0" height="1" fill="#8004ff"/>
<rect x="577.6" y="303" width="24.0" height="1" fill="#7f04ff"/>
<rect x="577.6" y="304" width="24.0" height="1" fill="#9530ff"/>
<rect x="577.6" y="305" width="24.0" height="1" fill="#9a3bff"/>
<rect x="577.6" y="306" width="24.0" height="1" fill="#9a3bff"/>
<rect x="577.6" y="307" width="24.0" height="1" fill="#820dfe"/>
<rect x="577.6" y="308" width="24.0" height="1" fill="#7c03fe"/>
<rect x="577.6" y="309" width="24.0" height="1" fill="#881cfe"/>
<rect x="577.6" y="310" width="24.0" height="1" fill="#983bfe"/>
<rect x="577.6" y="311" width="24.0" height="1" fill="#973afd"/>
<rect x="577.6" y="312" width="24.0" height="1" fill="#881ffc"/>
<rect x="577.6" y="313" width="24.0" height="1" fill="#7803fb"/>
<rect x="577.6" y="314" width="24.0" height="1" fill="#7c0afb"/>
<rect x="577.6" y="315" width="24.0" height="1" fill="#953afb"/>
<rect x="577.6" y="316" width="24.0" height="1" fill="#943afa"/>
<rect x="577.6" y="317" width="24.0" height="1" fill="#8f31f9"/>
<rect x="577.6" y="318" width="24.0" height="1" fill="#7502f7"/>
<rect x="577.6" y="319" width="24.0" height="1" fill="#7402f6"/>
<rect x="577.6" y="320" width="24.0" height="1" fill="#8928f6"/>
<rect x="577.6" y="321" width="24.0" height="1" fill="#923af6"/>
<rect x="577.6" y="322" width="24.0" height="1" fill="#913af5"/>
<rect x="577.6" y="323" width="24.0" height="1" fill="#7a11f2"/>
<rect x="577.6" y="324" width="24.0" height="1" fill="#7102f0"/>
<rect x="577.6" y="325" width="24.0" height="1" fill="#7b15f0"/>
<rect x="577.6" y="326" width="24.0" height="1" fill="#8f39f1"/>
<rect x="577.6" y="327" width="24.0" height="1" fill="#8e39f0"/>
<rect x="577.6" y="328" width="24.0" height="1" fill="#8124ed"/>
<rect x="577.6" y="329" width="24.0" height="1" fill="#6d02e8"/>
<rect x="577.6" y="330" width="24.0" height="1" fill="#6e04e7"/>
<rect x="577.6" y="331" width="24.0" height="1" fill="#8934ea"/>
<rect x="577.6" y="332" width="24.0" height="1" fill="#8b39e9"/>
<rect x="577.6" y="333" width="24.0" height="1" fill="#8937e7"/>
<rect x="577.6" y="334" width="24.0" height="1" fill="#6c06df"/>
<rect x="577.6" y="335" width="24.0" height="1" fill="#6801dd"/>
<rect x="577.6" y="336" width="24.0" height="1" fill="#7a21df"/>
<rect x="577.6" y="337" width="24.0" height="1" fill="#8839e1"/>
<rect x="577.6" y="338" width="24.0" height="1" fill="#8739df"/>
<rect x="577.6" y="339" width="24.0" height="1" fill="#7216d8"/>
<rect x="577.6" y="340" width="24.0" height="1" fill="#6401d2"/>
<rect x="577.6" y="341" width="24.0" height="1" fill="#6b0ed2"/>
<rect x="577.6" y="342" width="24.0" height="1" fill="#8539d8"/>
<rect x="577.6" y="343" width="24.0" height="1" fill="#8439d6"/>
<rect x="577.6" y="344" width="24.0" height="1" fill="#7a2ad1"/>
<rect x="577.6" y="345" width="24.0" height="1" fill="#6001c5"/>
<rect x="577.6" y="346" width="24.0" height="1" fill="#5f01c3"/>
<rect x="577.6" y="347" width="24.0" height="1" fill="#7a2dcb"/>
<rect x="577.6" y="348" width="24.0" height="1" fill="#8139cc"/>
<rect x="577.6" y="349" width="24.0" height="1" fill="#8039c9"/>
<rect x="577.6" y="350" width="24.0" height="1" fill="#610aba"/>
<rect x="577.6" y="351" width="24.0" height="1" fill="#5a01b5"/>
<rect x="577.6" y="352" width="24.0" height="1" fill="#6a1ab9"/>
<rect x="577.6" y="353" width="24.0" height="1" fill="#7d38c0"/>
<rect x="577.6" y="354" width="24.0" height="1" fill="#7c38be"/>
<rect x="577.6" y="355" width="24.0" height="1" fill="#691cb2"/>
<rect x="577.6" y="356" width="24.0" height="1" fill="#5500a5"/>
<rect x="577.6" y="357" width="24.0" height="1" fill="#5a08a5"/>
<rect x="577.6" y="358" width="24.0" height="1" fill="#7938b4"/>
<rect x="577.6" y="359" width="24.0" height="1" fill="#7838b2"/>
<rect x="577.6" y="360" width="24.0" height="1" fill="#7230ab"/>
<rect x="577.6" y="361" width="24.0" height="1" fill="#500095"/>
<rect x="577.6" y="362" width="24.0" height="1" fill="#4f0092"/>
<rect x="577.6" y="363" width="24.0" height="1" fill="#69279f"/>
<rect x="577.6" y="364" width="24.0" height="1" fill="#7438a4"/>
<rect x="577.6" y="365" width="24.0" height="1" fill="#7338a2"/>
<rect x="577.6" y="366" width="24.0" height="1" fill="#56108b"/>
<rect x="577.6" y="367" width="24.0" height="1" fill="#4a0080"/>
<rect x="577.6" y="368" width="24.0" height="1" fill="#561386"/>
<rect x="577.6" y="369" width="24.0" height="1" fill="#703897"/>
<rect x="577.6" y="370" width="24.0" height="1" fill="#6f3894"/>
<rect x="577.6" y="371" width="24.0" height="1" fill="#5e2385"/>
<rect x="577.6" y="372" width="24.0" height="1" fill="#44006e"/>
<rect x="577.6" y="373" width="24.0" height="1" fill="#45036c"/>
<rect x="577.6" y="374" width="24.0" height="1" fill="#673385"/>
<rect x="577.6" y="375" width="24.0" height="1" fill="#6a3885"/>
<rect x="577.6" y="376" width="24.0" height="1" fill="#673680"/>
<rect x="577.6" y="377" width="24.0" height="1" fill="#41055e"/>
<rect x="577.6" y="378" width="24.0" height="1" fill="#3c0057"/>
<rect x="577.6" y="379" width="24.0" height="1" fill="#532069"/>
<rect x="577.6" y="380" width="24.0" height="1" fill="#653876"/>
<rect x="577.6" y="381" width="24.0" height="1" fill="#643873"/>
<rect x="577.6" y="382" width="24.0" height="1" fill="#471657"/>
<rect x="577.6" y="383" width="24.0" height="1" fill="#350043"/>
<rect x="577.6" y="384" width="24.0" height="1" fill="#3d0d49"/>
<rect x="577.6" y="385" width="24.0" height="1" fill="#5f3866"/>
<rect x="577.6" y="386" width="24.0" height="1" fill="#5d3863"/>
<rect x="577.6" y="387" width="24.0" height="1" fill="#4f2954"/>
<rect x="577.6" y="388" width="24.0" height="1" fill="#2c002f"/>
<rect x="577.6" y="389" width="24.0" height="1" fill="#2a002b"/>
<rect x="577.6" y="390" width="24.0" height="1" fill="#4e2d4d"/>
<rect x="577.6" y="391" width="24.0" height="1" fill="#563853"/>
<rect x="577.6" y="392" width="24.0" height="1" fill="#543850"/>
<rect x="577.6" y="393" width="24.0" height="1" fill="#2a0a24"/>
<rect x="577.6" y="394" width="24.0" height="1" fill="#1e0017"/>
<rect x="577.6" y="395" width="24.0" height="1" fill="#32192a"/>
<rect x="577.6" y="396" width="24.0" height="1" fill="#4b3843"/>
<rect x="577.6" y="397" width="24.0" height="1" fill="#483840"/>
<rect x="577.6" y="398" width="24.0" height="1" fill="#2a1c21"/>
<rect x="577.6" y="399" width="24.0" height="1" fill="#090002"/>
</g>
<rect x="577.6" y="12.6" width="24.0" height="387.4" fill="none" stroke="#000" stroke-width="1.1"/>
<path d="M577.6 361.26h7.2M601.6 361.26h-7.2M577.6 322.52h7.2M601.6 322.52h-7.2M577.6 283.78h7.2M601.6 283.78h-7.2M577.6 245.04h7.2M601.6 245.04h-7.2M577.6 206.30h7.2M601.6 206.30h-7.2M577.6 167.56h7.2M601.6 167.56h-7.2M577.6 128.82h7.2M601.6 128.82h-7.2M577.6 90.08h7.2M601.6 90.08h-7.2M577.6 51.34h7.2M601.6 51.34h-7.2" stroke="#000" stroke-width="1.25" fill="none"/>
<rect x="77.8" y="12.6" width="487.7" height="387.4" fill="none" stroke="#000" stroke-width="1.25"/>
<text class="t" transform="translate(67.3 402.7) scale(1.000 1)" text-anchor="end">−100</text>
<text class="t" transform="translate(67.3 368.1) scale(1.000 1)" text-anchor="end">0</text>
<text class="t" transform="translate(67.3 332.9) scale(1.000 1)" text-anchor="end">100</text>
<text class="t" transform="translate(67.3 297.6) scale(1.000 1)" text-anchor="end">200</text>
<text class="t" transform="translate(67.3 262.4) scale(1.000 1)" text-anchor="end">300</text>
<text class="t" transform="translate(67.3 227.2) scale(1.000 1)" text-anchor="end">400</text>
<text class="t" transform="translate(67.3 192.0) scale(1.000 1)" text-anchor="end">500</text>
<text class="t" transform="translate(67.3 156.8) scale(1.000 1)" text-anchor="end">600</text>
<text class="t" transform="translate(67.3 121.6) scale(1.000 1)" text-anchor="end">700</text>
<text class="t" transform="translate(67.3 86.3) scale(1.000 1)" text-anchor="end">800</text>
<text class="t" transform="translate(67.3 51.1) scale(1.000 1)" text-anchor="end">900</text>
<text class="t" transform="translate(67.3 15.9) scale(1.000 1)" text-anchor="end">1000</text>
<text class="t" transform="translate(78.8 418.7) scale(1.000 1)" text-anchor="middle">10</text>
<text class="t" transform="translate(133.0 418.7) scale(1.000 1)" text-anchor="middle">20</text>
<text class="t" transform="translate(187.2 418.7) scale(1.000 1)" text-anchor="middle">30</text>
<text class="t" transform="translate(241.4 418.7) scale(1.000 1)" text-anchor="middle">40</text>
<text class="t" transform="translate(295.6 418.7) scale(1.000 1)" text-anchor="middle">50</text>
<text class="t" transform="translate(349.7 418.7) scale(1.000 1)" text-anchor="middle">60</text>
<text class="t" transform="translate(403.9 418.7) scale(1.000 1)" text-anchor="middle">70</text>
<text class="t" transform="translate(458.1 418.7) scale(1.000 1)" text-anchor="middle">80</text>
<text class="t" transform="translate(512.3 418.7) scale(1.000 1)" text-anchor="middle">90</text>
<text class="t" transform="translate(566.5 418.7) scale(1.000 1)" text-anchor="middle">100</text>
<text class="t" transform="translate(615.3 402.9) scale(1.000 1)" text-anchor="start">0</text>
<text class="t" transform="translate(615.3 364.2) scale(1.000 1)" text-anchor="start">100</text>
<text class="t" transform="translate(615.3 325.4) scale(1.000 1)" text-anchor="start">200</text>
<text class="t" transform="translate(615.3 286.7) scale(1.000 1)" text-anchor="start">300</text>
<text class="t" transform="translate(615.3 247.9) scale(1.000 1)" text-anchor="start">400</text>
<text class="t" transform="translate(615.3 209.2) scale(1.000 1)" text-anchor="start">500</text>
<text class="t" transform="translate(615.3 170.5) scale(1.000 1)" text-anchor="start">600</text>
<text class="t" transform="translate(615.3 131.7) scale(1.000 1)" text-anchor="start">700</text>
<text class="t" transform="translate(615.3 93.0) scale(1.000 1)" text-anchor="start">800</text>
<text class="t" transform="translate(615.3 54.2) scale(1.000 1)" text-anchor="start">900</text>
<text class="t" transform="translate(615.3 15.5) scale(1.000 1)" text-anchor="start">1000</text>
<text class="s" transform="translate(268.5 443) scale(1.047 1)" font-size="22.6px">m<tspan dy="6.5" font-size="17.5px">A</tspan><tspan dy="-6.5"> (GeV)</tspan></text>
<text class="s" transform="translate(20 284) rotate(-90)" font-size="22.6px">m<tspan dy="6.5" font-size="17.5px">H</tspan><tspan dy="-6.5"> − </tspan><tspan dx="1.3">m<tspan dy="6.5" font-size="17.5px">H</tspan><tspan dy="-8.3" dx="0.9" font-size="15.5px">+</tspan><tspan dy="1.8" dx="8.7" textLength="61.6" lengthAdjust="spacingAndGlyphs">(GeV)</tspan></tspan></text>
<text class="s" transform="translate(672.5 255.8) rotate(-90)" font-size="22.6px">m<tspan dy="6.5" font-size="17.5px">H</tspan><tspan dy="-8.3" dx="0.9" font-size="15.5px">+</tspan><tspan dy="1.8" dx="8.7" textLength="61.6" lengthAdjust="spacingAndGlyphs">(GeV)</tspan></text>
</svg></body></html>
